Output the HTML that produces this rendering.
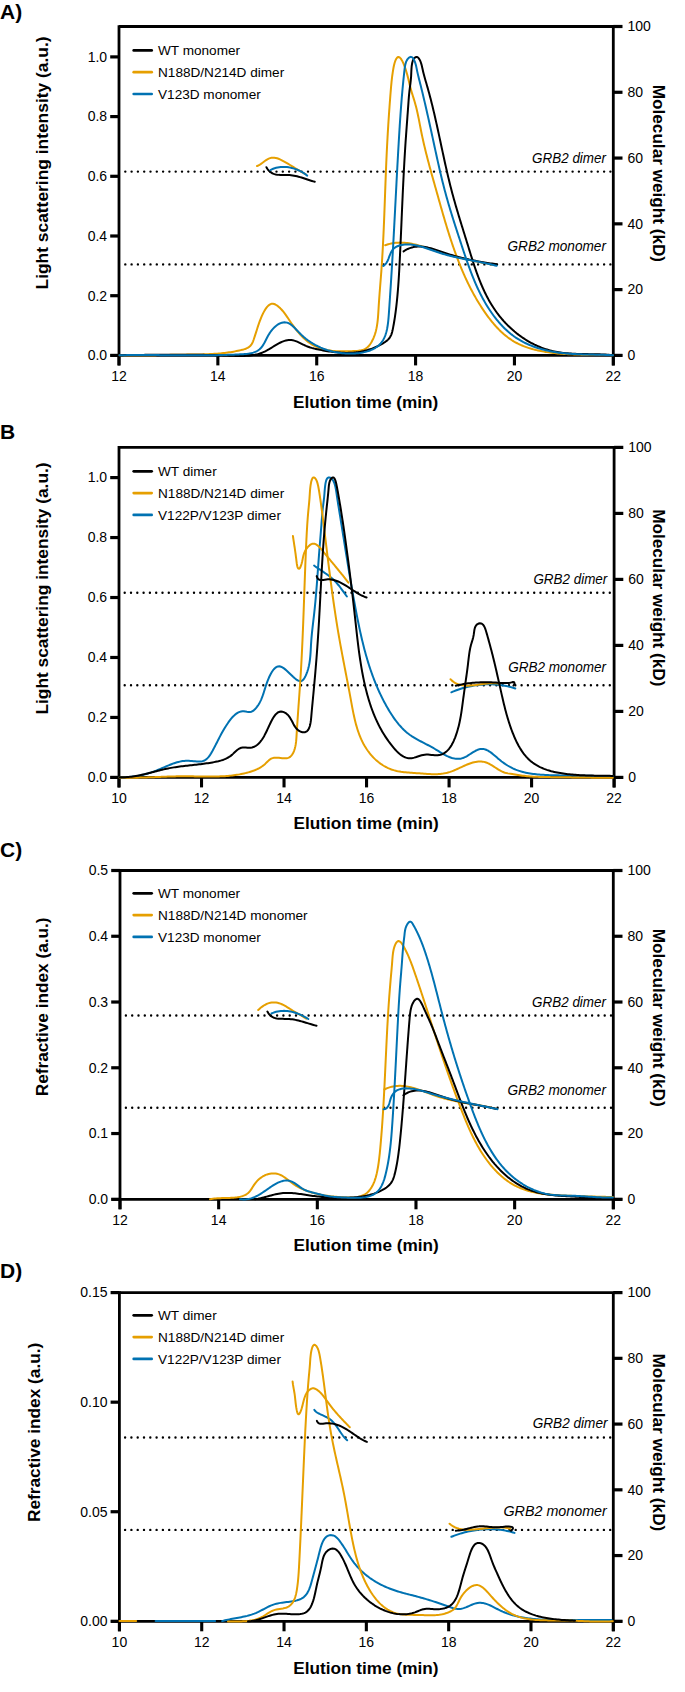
<!DOCTYPE html>
<html><head><meta charset="utf-8"><style>
html,body{margin:0;padding:0;background:#fff;}
svg{display:block;}
text{font-family:"Liberation Sans",sans-serif;fill:#000;}
</style></head><body>
<svg width="685" height="1692" viewBox="0 0 685 1692">
<rect width="685" height="1692" fill="#fff"/>
<path d="M119,26.5 H613.3 V365.4" fill="none" stroke="#000" stroke-width="2.8"/>
<path d="M119,25.2 V365.4" fill="none" stroke="#000" stroke-width="2.8"/>
<path d="M110.5,355.4 H622.3" fill="none" stroke="#000" stroke-width="2.8"/>
<path d="M119,355.4 V365.4" stroke="#000" stroke-width="3.1"/>
<text x="119" y="380.8" font-size="14" text-anchor="middle" font-weight="normal" font-style="normal">12</text>
<path d="M217.86,355.4 V365.4" stroke="#000" stroke-width="3.1"/>
<text x="217.86" y="380.8" font-size="14" text-anchor="middle" font-weight="normal" font-style="normal">14</text>
<path d="M316.72,355.4 V365.4" stroke="#000" stroke-width="3.1"/>
<text x="316.72" y="380.8" font-size="14" text-anchor="middle" font-weight="normal" font-style="normal">16</text>
<path d="M415.58,355.4 V365.4" stroke="#000" stroke-width="3.1"/>
<text x="415.58" y="380.8" font-size="14" text-anchor="middle" font-weight="normal" font-style="normal">18</text>
<path d="M514.44,355.4 V365.4" stroke="#000" stroke-width="3.1"/>
<text x="514.44" y="380.8" font-size="14" text-anchor="middle" font-weight="normal" font-style="normal">20</text>
<path d="M613.3,355.4 V365.4" stroke="#000" stroke-width="3.1"/>
<text x="613.3" y="380.8" font-size="14" text-anchor="middle" font-weight="normal" font-style="normal">22</text>
<path d="M110.2,355.4 H119" stroke="#000" stroke-width="3.2"/>
<text x="107.1" y="360.2" font-size="14" text-anchor="end" font-weight="normal" font-style="normal">0.0</text>
<path d="M110.2,295.7 H119" stroke="#000" stroke-width="3.2"/>
<text x="107.1" y="300.5" font-size="14" text-anchor="end" font-weight="normal" font-style="normal">0.2</text>
<path d="M110.2,236 H119" stroke="#000" stroke-width="3.2"/>
<text x="107.1" y="240.8" font-size="14" text-anchor="end" font-weight="normal" font-style="normal">0.4</text>
<path d="M110.2,176.3 H119" stroke="#000" stroke-width="3.2"/>
<text x="107.1" y="181.1" font-size="14" text-anchor="end" font-weight="normal" font-style="normal">0.6</text>
<path d="M110.2,116.6 H119" stroke="#000" stroke-width="3.2"/>
<text x="107.1" y="121.4" font-size="14" text-anchor="end" font-weight="normal" font-style="normal">0.8</text>
<path d="M110.2,56.9 H119" stroke="#000" stroke-width="3.2"/>
<text x="107.1" y="61.7" font-size="14" text-anchor="end" font-weight="normal" font-style="normal">1.0</text>
<path d="M613.3,355.4 H622.5" stroke="#000" stroke-width="3.2"/>
<text x="627.5" y="360.2" font-size="14" text-anchor="start" font-weight="normal" font-style="normal">0</text>
<path d="M613.3,289.62 H622.5" stroke="#000" stroke-width="3.2"/>
<text x="627.5" y="294.42" font-size="14" text-anchor="start" font-weight="normal" font-style="normal">20</text>
<path d="M613.3,223.84 H622.5" stroke="#000" stroke-width="3.2"/>
<text x="627.5" y="228.64" font-size="14" text-anchor="start" font-weight="normal" font-style="normal">40</text>
<path d="M613.3,158.06 H622.5" stroke="#000" stroke-width="3.2"/>
<text x="627.5" y="162.86" font-size="14" text-anchor="start" font-weight="normal" font-style="normal">60</text>
<path d="M613.3,92.28 H622.5" stroke="#000" stroke-width="3.2"/>
<text x="627.5" y="97.08" font-size="14" text-anchor="start" font-weight="normal" font-style="normal">80</text>
<path d="M613.3,26.5 H622.5" stroke="#000" stroke-width="3.2"/>
<text x="627.5" y="31.3" font-size="14" text-anchor="start" font-weight="normal" font-style="normal">100</text>
<text x="0" y="18.6" font-size="21" text-anchor="start" font-weight="bold" font-style="normal">A)</text>
<text transform="translate(47.9,163) rotate(-90)" font-size="17" font-weight="bold" text-anchor="middle" textLength="253" lengthAdjust="spacingAndGlyphs">Light scattering intensity (a.u.)</text>
<text transform="translate(652.8,173.4) rotate(90)" font-size="17" font-weight="bold" text-anchor="middle" textLength="177.2" lengthAdjust="spacingAndGlyphs">Molecular weight (kD)</text>
<text x="365.65" y="407.6" font-size="17" text-anchor="middle" font-weight="bold" font-style="normal" textLength="145.2" lengthAdjust="spacingAndGlyphs">Elution time (min)</text>
<path d="M125.3,171.6 H611.8" stroke="#000" stroke-width="2.4" stroke-linecap="round" stroke-dasharray="0.01 6.29"/>
<path d="M125.3,264.4 H611.8" stroke="#000" stroke-width="2.4" stroke-linecap="round" stroke-dasharray="0.01 6.29"/>
<text x="606" y="162.6" font-size="14" text-anchor="end" font-weight="normal" font-style="italic" textLength="73.9" lengthAdjust="spacingAndGlyphs" fill="#111">GRB2 dimer</text>
<text x="606" y="250.7" font-size="14" text-anchor="end" font-weight="normal" font-style="italic" textLength="98.5" lengthAdjust="spacingAndGlyphs" fill="#111">GRB2 monomer</text>
<path d="M133.7,50.4 H151.7" stroke="#000000" stroke-width="2.7" stroke-linecap="round"/>
<text x="158" y="55" font-size="13.6" text-anchor="start" font-weight="normal" font-style="normal">WT monomer</text>
<path d="M133.7,72.2 H151.7" stroke="#E69F00" stroke-width="2.7" stroke-linecap="round"/>
<text x="158" y="76.8" font-size="13.6" text-anchor="start" font-weight="normal" font-style="normal">N188D/N214D dimer</text>
<path d="M133.7,94 H151.7" stroke="#0072B2" stroke-width="2.7" stroke-linecap="round"/>
<text x="158" y="98.6" font-size="13.6" text-anchor="start" font-weight="normal" font-style="normal">V123D monomer</text>
<path d="M119.49,355.19 L121.01,355.22 L122.53,355.25 L124.04,355.28 L125.55,355.3 L127.06,355.32 L128.57,355.34 L130.08,355.35 L131.59,355.36 L133.09,355.36 L134.59,355.36 L136.1,355.36 L137.6,355.36 L139.1,355.35 L140.6,355.34 L142.09,355.33 L143.59,355.32 L145.09,355.3 L146.58,355.29 L148.08,355.27 L149.57,355.25 L151.07,355.22 L152.56,355.2 L154.06,355.18 L155.55,355.15 L157.05,355.12 L158.54,355.09 L160.03,355.07 L161.53,355.04 L163.02,355.01 L164.52,354.98 L166.01,354.95 L167.51,354.92 L169.01,354.89 L170.51,354.86 L172.01,354.84 L173.5,354.81 L175.01,354.78 L176.51,354.76 L178.01,354.73 L179.51,354.71 L181.02,354.69 L182.53,354.67 L184.04,354.65 L185.55,354.63 L187.06,354.62 L188.57,354.6 L190.08,354.59 L191.6,354.57 L193.11,354.55 L194.62,354.53 L196.14,354.51 L197.65,354.48 L199.17,354.45 L200.68,354.42 L202.2,354.38 L203.71,354.34 L205.22,354.29 L206.73,354.24 L208.24,354.18 L209.75,354.11 L211.25,354.04 L212.76,353.96 L214.26,353.87 L215.76,353.76 L217.26,353.65 L218.76,353.53 L220.25,353.4 L221.74,353.26 L223.23,353.11 L224.71,352.94 L226.19,352.76 L227.67,352.57 L229.14,352.36 L230.61,352.14 L232.08,351.91 L233.54,351.65 L235,351.39 L236.45,351.1 L237.9,350.8 L239.34,350.48 L240.77,350.15 L242.21,349.79 L243.63,349.41 L245.01,348.98 L246.36,348.47 L247.63,347.87 L248.82,347.16 L249.91,346.3 L250.88,345.28 L251.71,344.09 L252.43,342.74 L253.05,341.28 L253.62,339.76 L254.14,338.22 L254.66,336.69 L255.15,335.17 L255.64,333.66 L256.11,332.17 L256.58,330.69 L257.04,329.24 L257.49,327.81 L257.95,326.4 L258.4,325.02 L258.87,323.65 L259.34,322.29 L259.85,320.92 L260.38,319.54 L260.95,318.13 L261.56,316.68 L262.23,315.19 L262.95,313.66 L263.72,312.13 L264.55,310.63 L265.43,309.19 L266.35,307.85 L267.33,306.65 L268.35,305.61 L269.42,304.77 L270.54,304.15 L271.7,303.81 L272.9,303.76 L274.13,304.01 L275.39,304.52 L276.65,305.25 L277.9,306.15 L279.13,307.2 L280.32,308.33 L281.46,309.52 L282.53,310.73 L283.53,311.94 L284.48,313.16 L285.38,314.37 L286.25,315.59 L287.09,316.81 L287.91,318.04 L288.72,319.26 L289.54,320.5 L290.36,321.73 L291.21,322.97 L292.07,324.21 L292.95,325.45 L293.85,326.68 L294.76,327.91 L295.7,329.12 L296.66,330.33 L297.63,331.52 L298.63,332.69 L299.64,333.85 L300.68,334.98 L301.73,336.09 L302.81,337.17 L303.9,338.22 L305.02,339.25 L306.16,340.23 L307.32,341.18 L308.5,342.09 L309.71,342.96 L310.93,343.79 L312.18,344.57 L313.45,345.3 L314.74,345.98 L316.06,346.61 L317.39,347.19 L318.75,347.73 L320.12,348.22 L321.52,348.67 L322.92,349.08 L324.35,349.45 L325.79,349.78 L327.24,350.08 L328.71,350.34 L330.18,350.56 L331.67,350.76 L333.17,350.92 L334.68,351.06 L336.2,351.17 L337.72,351.26 L339.25,351.32 L340.79,351.36 L342.33,351.37 L343.87,351.37 L345.42,351.36 L346.97,351.32 L348.52,351.27 L350.07,351.21 L351.61,351.14 L353.16,351.06 L354.7,350.97 L356.24,350.88 L357.76,350.76 L359.27,350.6 L360.74,350.38 L362.16,350.07 L363.53,349.66 L364.82,349.12 L366.04,348.42 L367.18,347.57 L368.23,346.58 L369.2,345.47 L370.11,344.28 L370.94,343.01 L371.71,341.69 L372.43,340.34 L373.08,338.98 L373.69,337.6 L374.24,336.2 L374.74,334.8 L375.2,333.38 L375.62,331.95 L375.99,330.52 L376.33,329.07 L376.63,327.61 L376.9,326.14 L377.14,324.67 L377.36,323.18 L377.55,321.7 L377.72,320.2 L377.86,318.7 L378,317.2 L378.11,315.69 L378.22,314.18 L378.32,312.67 L378.41,311.16 L378.5,309.64 L378.59,308.13 L378.68,306.61 L378.77,305.1 L378.87,303.59 L378.97,302.08 L379.07,300.57 L379.18,299.06 L379.29,297.56 L379.4,296.05 L379.51,294.55 L379.62,293.04 L379.74,291.54 L379.86,290.04 L379.97,288.54 L380.09,287.03 L380.21,285.53 L380.33,284.03 L380.45,282.53 L380.57,281.03 L380.69,279.54 L380.81,278.04 L380.92,276.54 L381.04,275.04 L381.15,273.54 L381.27,272.05 L381.38,270.55 L381.48,269.05 L381.59,267.55 L381.69,266.06 L381.8,264.56 L381.89,263.06 L381.99,261.56 L382.09,260.07 L382.18,258.57 L382.27,257.07 L382.36,255.58 L382.45,254.08 L382.54,252.58 L382.63,251.08 L382.71,249.59 L382.79,248.09 L382.87,246.59 L382.95,245.1 L383.03,243.6 L383.1,242.1 L383.18,240.6 L383.25,239.11 L383.33,237.61 L383.4,236.11 L383.47,234.61 L383.54,233.12 L383.6,231.62 L383.67,230.12 L383.74,228.62 L383.8,227.13 L383.86,225.63 L383.93,224.13 L383.99,222.63 L384.05,221.13 L384.11,219.63 L384.17,218.14 L384.23,216.64 L384.29,215.14 L384.35,213.64 L384.4,212.14 L384.46,210.64 L384.52,209.14 L384.57,207.64 L384.63,206.14 L384.69,204.64 L384.74,203.14 L384.8,201.64 L384.85,200.14 L384.91,198.64 L384.96,197.14 L385.02,195.64 L385.07,194.14 L385.12,192.64 L385.18,191.14 L385.23,189.64 L385.29,188.13 L385.34,186.63 L385.4,185.13 L385.46,183.63 L385.51,182.12 L385.57,180.62 L385.63,179.12 L385.68,177.61 L385.74,176.11 L385.8,174.61 L385.86,173.1 L385.92,171.6 L385.98,170.09 L386.04,168.59 L386.1,167.08 L386.16,165.58 L386.23,164.07 L386.29,162.57 L386.36,161.06 L386.42,159.55 L386.49,158.04 L386.56,156.54 L386.63,155.03 L386.7,153.52 L386.77,152.01 L386.85,150.5 L386.92,149 L387,147.49 L387.07,145.98 L387.15,144.47 L387.23,142.96 L387.31,141.45 L387.4,139.94 L387.48,138.43 L387.56,136.92 L387.65,135.41 L387.74,133.91 L387.82,132.4 L387.91,130.89 L388,129.39 L388.1,127.88 L388.19,126.38 L388.28,124.88 L388.38,123.38 L388.47,121.88 L388.57,120.38 L388.67,118.88 L388.77,117.39 L388.87,115.89 L388.97,114.4 L389.07,112.91 L389.18,111.42 L389.28,109.94 L389.39,108.45 L389.5,106.97 L389.6,105.49 L389.71,104.01 L389.82,102.54 L389.93,101.07 L390.05,99.6 L390.16,98.13 L390.27,96.67 L390.39,95.2 L390.5,93.75 L390.62,92.29 L390.74,90.84 L390.86,89.39 L390.98,87.94 L391.1,86.49 L391.23,85.04 L391.37,83.57 L391.51,82.09 L391.67,80.58 L391.84,79.05 L392.03,77.5 L392.23,75.9 L392.45,74.27 L392.7,72.6 L392.97,70.88 L393.26,69.11 L393.59,67.29 L393.96,65.48 L394.39,63.69 L394.9,61.99 L395.49,60.41 L396.15,59.03 L396.85,57.96 L397.59,57.27 L398.34,57 L399.1,57.13 L399.86,57.6 L400.62,58.37 L401.37,59.41 L402.11,60.67 L402.83,62.09 L403.52,63.65 L404.19,65.3 L404.82,67 L405.4,68.69 L405.94,70.35 L406.44,71.96 L406.9,73.53 L407.33,75.07 L407.72,76.57 L408.1,78.05 L408.46,79.5 L408.8,80.94 L409.14,82.35 L409.47,83.76 L409.81,85.15 L410.15,86.55 L410.51,87.94 L410.89,89.34 L411.29,90.74 L411.7,92.16 L412.14,93.58 L412.58,95.01 L413.03,96.44 L413.48,97.88 L413.93,99.33 L414.37,100.78 L414.8,102.23 L415.22,103.69 L415.62,105.16 L416,106.62 L416.37,108.09 L416.73,109.56 L417.07,111.03 L417.41,112.51 L417.73,113.98 L418.04,115.46 L418.35,116.94 L418.65,118.42 L418.95,119.9 L419.24,121.38 L419.52,122.86 L419.81,124.34 L420.1,125.82 L420.38,127.3 L420.67,128.78 L420.96,130.26 L421.25,131.73 L421.55,133.21 L421.85,134.68 L422.16,136.15 L422.48,137.62 L422.8,139.08 L423.12,140.55 L423.45,142.01 L423.79,143.47 L424.13,144.93 L424.47,146.39 L424.82,147.85 L425.17,149.3 L425.52,150.76 L425.88,152.21 L426.25,153.66 L426.61,155.11 L426.98,156.56 L427.35,158.01 L427.73,159.46 L428.11,160.91 L428.49,162.36 L428.88,163.8 L429.26,165.25 L429.65,166.69 L430.04,168.14 L430.44,169.58 L430.83,171.03 L431.23,172.47 L431.63,173.91 L432.03,175.36 L432.43,176.8 L432.84,178.24 L433.24,179.69 L433.65,181.13 L434.05,182.58 L434.46,184.02 L434.87,185.46 L435.27,186.91 L435.68,188.35 L436.09,189.8 L436.5,191.25 L436.91,192.69 L437.31,194.14 L437.72,195.59 L438.13,197.04 L438.54,198.49 L438.94,199.94 L439.35,201.39 L439.76,202.84 L440.17,204.29 L440.58,205.74 L440.99,207.19 L441.41,208.64 L441.82,210.09 L442.24,211.54 L442.65,212.99 L443.07,214.44 L443.49,215.89 L443.91,217.33 L444.34,218.78 L444.76,220.23 L445.19,221.68 L445.62,223.12 L446.06,224.57 L446.49,226.01 L446.93,227.45 L447.37,228.89 L447.82,230.34 L448.27,231.78 L448.72,233.21 L449.17,234.65 L449.63,236.09 L450.09,237.52 L450.56,238.95 L451.03,240.38 L451.5,241.81 L451.98,243.24 L452.46,244.67 L452.94,246.09 L453.44,247.51 L453.93,248.93 L454.43,250.35 L454.94,251.77 L455.45,253.18 L455.96,254.59 L456.48,256 L457.01,257.41 L457.54,258.81 L458.07,260.21 L458.62,261.61 L459.16,263.01 L459.72,264.4 L460.28,265.79 L460.85,267.18 L461.42,268.56 L462,269.94 L462.59,271.32 L463.18,272.7 L463.78,274.07 L464.39,275.44 L465,276.8 L465.62,278.16 L466.25,279.52 L466.89,280.87 L467.53,282.23 L468.18,283.57 L468.84,284.92 L469.51,286.25 L470.19,287.59 L470.87,288.92 L471.56,290.25 L472.26,291.57 L472.97,292.89 L473.69,294.2 L474.42,295.51 L475.16,296.82 L475.9,298.12 L476.66,299.42 L477.42,300.71 L478.2,302 L478.98,303.28 L479.77,304.56 L480.58,305.83 L481.39,307.1 L482.21,308.36 L483.05,309.62 L483.89,310.87 L484.75,312.12 L485.61,313.36 L486.49,314.59 L487.38,315.82 L488.28,317.03 L489.19,318.24 L490.11,319.44 L491.05,320.63 L492,321.8 L492.96,322.97 L493.94,324.12 L494.93,325.25 L495.93,326.37 L496.95,327.48 L497.98,328.56 L499.02,329.63 L500.09,330.68 L501.16,331.72 L502.26,332.73 L503.36,333.72 L504.49,334.69 L505.63,335.64 L506.79,336.56 L507.96,337.46 L509.16,338.33 L510.37,339.18 L511.59,340 L512.84,340.79 L514.1,341.56 L515.39,342.3 L516.69,343 L518.01,343.68 L519.35,344.33 L520.7,344.95 L522.07,345.54 L523.46,346.11 L524.86,346.65 L526.27,347.17 L527.69,347.66 L529.13,348.12 L530.58,348.57 L532.04,348.99 L533.51,349.39 L534.98,349.77 L536.47,350.13 L537.96,350.47 L539.46,350.79 L540.96,351.09 L542.47,351.37 L543.98,351.64 L545.49,351.89 L547.01,352.12 L548.53,352.34 L550.05,352.55 L551.57,352.74 L553.08,352.92 L554.6,353.09 L556.11,353.25 L557.62,353.39 L559.13,353.53 L560.63,353.66 L562.13,353.77 L563.63,353.88 L565.12,353.98 L566.61,354.07 L568.1,354.15 L569.59,354.23 L571.08,354.3 L572.56,354.36 L574.05,354.42 L575.53,354.47 L577.01,354.52 L578.49,354.56 L579.98,354.6 L581.46,354.63 L582.94,354.66 L584.42,354.69 L585.9,354.72 L587.39,354.74 L588.87,354.76 L590.36,354.78 L591.85,354.8 L593.34,354.82 L594.83,354.83 L596.33,354.85 L597.83,354.87 L599.33,354.89 L600.83,354.92 L602.34,354.94 L603.85,354.97 L605.37,355 L606.89,355.03 L608.41,355.07 L609.94,355.11 L611.47,355.15 L613.01,355.2" fill="none" stroke="#E69F00" stroke-width="2.0" stroke-linejoin="round" stroke-linecap="round"/>
<path d="M257.01,166.02 L258.36,165.48 L259.68,164.77 L260.97,163.92 L262.25,162.98 L263.53,162.01 L264.81,161.04 L266.1,160.14 L267.41,159.33 L268.75,158.66 L270.1,158.15 L271.48,157.81 L272.87,157.66 L274.28,157.71 L275.7,157.93 L277.12,158.29 L278.55,158.79 L279.97,159.38 L281.39,160.06 L282.8,160.79 L284.2,161.55 L285.57,162.33 L286.94,163.13 L288.29,163.93 L289.63,164.75 L290.96,165.57 L292.29,166.39 L293.6,167.21 L294.92,168.03 L296.23,168.85 L297.54,169.65 L298.86,170.45 L300.17,171.23 L301.49,172 L302.82,172.75 L304.16,173.48 L305.51,174.18" fill="none" stroke="#E69F00" stroke-width="2.0" stroke-linejoin="round" stroke-linecap="round"/>
<path d="M385.19,245.25 L386.69,244.73 L388.19,244.26 L389.68,243.87 L391.17,243.53 L392.66,243.24 L394.15,243.02 L395.64,242.84 L397.13,242.72 L398.61,242.64 L400.09,242.62 L401.57,242.63 L403.05,242.69 L404.53,242.8 L406.01,242.94 L407.48,243.11 L408.96,243.33 L410.43,243.57 L411.9,243.85 L413.37,244.15 L414.85,244.48 L416.32,244.84 L417.79,245.22 L419.26,245.62 L420.73,246.04 L422.2,246.47 L423.66,246.92 L425.13,247.38 L426.6,247.86 L428.07,248.34 L429.54,248.83 L431.01,249.32 L432.48,249.81 L433.95,250.31 L435.42,250.8 L436.89,251.29 L438.36,251.78 L439.83,252.25 L441.31,252.72 L442.78,253.18 L444.26,253.63 L445.73,254.07 L447.21,254.5 L448.69,254.92 L450.17,255.33 L451.65,255.74 L453.13,256.13 L454.61,256.52 L456.09,256.9 L457.57,257.28 L459.06,257.64 L460.54,258 L462.03,258.36 L463.52,258.71 L465.01,259.05 L466.49,259.38 L467.99,259.71 L469.48,260.04 L470.97,260.36 L472.46,260.67 L473.96,260.98 L475.45,261.29 L476.95,261.59 L478.45,261.89 L479.95,262.18 L481.45,262.47 L482.95,262.76 L484.45,263.04 L485.96,263.33 L487.46,263.61 L488.97,263.88 L490.47,264.16 L491.98,264.44 L493.49,264.71 L495,264.98" fill="none" stroke="#E69F00" stroke-width="2.0" stroke-linejoin="round" stroke-linecap="round"/>
<path d="M119.49,355.17 L121.01,355.15 L122.52,355.13 L124.03,355.12 L125.54,355.1 L127.05,355.08 L128.56,355.06 L130.07,355.04 L131.57,355.03 L133.08,355.01 L134.58,354.99 L136.09,354.97 L137.59,354.95 L139.1,354.94 L140.6,354.92 L142.1,354.9 L143.61,354.89 L145.11,354.87 L146.61,354.85 L148.11,354.84 L149.61,354.82 L151.11,354.81 L152.61,354.79 L154.11,354.78 L155.61,354.76 L157.11,354.75 L158.61,354.74 L160.11,354.73 L161.6,354.71 L163.1,354.7 L164.6,354.7 L166.1,354.69 L167.6,354.68 L169.1,354.67 L170.59,354.67 L172.09,354.66 L173.59,354.66 L175.09,354.66 L176.59,354.66 L178.08,354.66 L179.58,354.66 L181.08,354.66 L182.58,354.66 L184.08,354.67 L185.58,354.67 L187.08,354.68 L188.58,354.69 L190.08,354.7 L191.58,354.71 L193.09,354.73 L194.59,354.74 L196.09,354.76 L197.6,354.78 L199.1,354.8 L200.6,354.82 L202.11,354.85 L203.61,354.87 L205.12,354.9 L206.63,354.93 L208.14,354.96 L209.65,355 L211.16,355.03 L212.67,355.07 L214.18,355.11 L215.69,355.15 L217.2,355.2 L218.72,355.24 L220.23,355.29 L221.75,355.34 L223.26,355.4 L224.78,355.45 L226.3,355.51 L227.82,355.57 L229.34,355.64 L230.87,355.7 L232.39,355.77 L233.91,355.83 L235.43,355.88 L236.95,355.92 L238.47,355.96 L239.99,355.97 L241.5,355.98 L243,355.96 L244.51,355.92 L246,355.85 L247.49,355.76 L248.98,355.63 L250.45,355.48 L251.92,355.29 L253.38,355.06 L254.83,354.79 L256.27,354.47 L257.7,354.12 L259.12,353.71 L260.53,353.25 L261.92,352.74 L263.31,352.17 L264.67,351.54 L266.03,350.86 L267.37,350.14 L268.71,349.38 L270.03,348.59 L271.35,347.79 L272.67,346.98 L273.98,346.18 L275.29,345.38 L276.6,344.61 L277.9,343.86 L279.22,343.16 L280.53,342.5 L281.85,341.9 L283.18,341.37 L284.52,340.91 L285.87,340.54 L287.22,340.26 L288.6,340.09 L289.98,340.03 L291.38,340.1 L292.81,340.29 L294.24,340.63 L295.7,341.1 L297.17,341.67 L298.65,342.33 L300.14,343.04 L301.62,343.78 L303.09,344.52 L304.55,345.22 L306,345.87 L307.42,346.46 L308.84,346.98 L310.24,347.46 L311.64,347.89 L313.03,348.27 L314.43,348.63 L315.83,348.96 L317.24,349.27 L318.66,349.57 L320.09,349.86 L321.54,350.14 L323,350.41 L324.48,350.68 L325.96,350.94 L327.46,351.18 L328.96,351.41 L330.48,351.63 L331.99,351.84 L333.52,352.03 L335.04,352.21 L336.57,352.36 L338.1,352.5 L339.63,352.62 L341.16,352.72 L342.68,352.8 L344.2,352.85 L345.72,352.88 L347.23,352.89 L348.73,352.87 L350.22,352.82 L351.71,352.75 L353.19,352.64 L354.66,352.51 L356.12,352.36 L357.58,352.17 L359.03,351.95 L360.48,351.71 L361.92,351.43 L363.35,351.12 L364.78,350.78 L366.2,350.41 L367.62,350.01 L369.04,349.57 L370.45,349.1 L371.86,348.6 L373.26,348.06 L374.66,347.49 L376.06,346.88 L377.45,346.24 L378.84,345.56 L380.23,344.85 L381.62,344.1 L383,343.31 L384.36,342.47 L385.67,341.58 L386.9,340.64 L388.03,339.62 L389.04,338.54 L389.91,337.37 L390.63,336.12 L391.24,334.81 L391.74,333.45 L392.16,332.04 L392.51,330.6 L392.82,329.14 L393.11,327.66 L393.38,326.19 L393.65,324.71 L393.91,323.23 L394.16,321.75 L394.4,320.27 L394.63,318.79 L394.86,317.31 L395.08,315.82 L395.29,314.34 L395.5,312.85 L395.7,311.36 L395.89,309.88 L396.07,308.39 L396.26,306.9 L396.43,305.41 L396.6,303.92 L396.76,302.43 L396.92,300.93 L397.07,299.44 L397.22,297.94 L397.36,296.45 L397.5,294.95 L397.63,293.46 L397.76,291.96 L397.88,290.46 L398,288.97 L398.12,287.47 L398.23,285.97 L398.34,284.47 L398.44,282.97 L398.55,281.47 L398.65,279.97 L398.74,278.47 L398.84,276.97 L398.93,275.46 L399.01,273.96 L399.1,272.46 L399.19,270.96 L399.27,269.45 L399.35,267.95 L399.43,266.45 L399.51,264.94 L399.58,263.44 L399.66,261.94 L399.74,260.43 L399.81,258.93 L399.88,257.43 L399.96,255.92 L400.03,254.42 L400.1,252.91 L400.17,251.41 L400.25,249.91 L400.32,248.4 L400.39,246.9 L400.46,245.39 L400.52,243.89 L400.59,242.39 L400.66,240.88 L400.73,239.38 L400.8,237.87 L400.86,236.37 L400.93,234.87 L401,233.36 L401.06,231.86 L401.13,230.35 L401.2,228.85 L401.26,227.35 L401.33,225.84 L401.39,224.34 L401.46,222.83 L401.52,221.33 L401.59,219.83 L401.65,218.32 L401.72,216.82 L401.79,215.32 L401.85,213.81 L401.92,212.31 L401.98,210.8 L402.05,209.3 L402.11,207.8 L402.18,206.29 L402.25,204.79 L402.31,203.29 L402.38,201.79 L402.45,200.28 L402.52,198.78 L402.59,197.28 L402.65,195.78 L402.72,194.27 L402.79,192.77 L402.86,191.27 L402.93,189.77 L403,188.27 L403.08,186.76 L403.15,185.26 L403.22,183.76 L403.29,182.26 L403.37,180.76 L403.44,179.26 L403.52,177.76 L403.59,176.26 L403.67,174.76 L403.75,173.26 L403.83,171.76 L403.9,170.26 L403.98,168.76 L404.07,167.26 L404.15,165.76 L404.23,164.26 L404.31,162.76 L404.4,161.26 L404.48,159.76 L404.57,158.26 L404.66,156.77 L404.75,155.27 L404.84,153.77 L404.93,152.27 L405.02,150.78 L405.12,149.28 L405.21,147.78 L405.31,146.29 L405.4,144.79 L405.5,143.3 L405.6,141.8 L405.7,140.3 L405.81,138.81 L405.91,137.31 L406.02,135.82 L406.12,134.32 L406.23,132.83 L406.34,131.33 L406.45,129.83 L406.56,128.34 L406.67,126.84 L406.78,125.33 L406.89,123.83 L407,122.33 L407.11,120.82 L407.23,119.31 L407.34,117.8 L407.45,116.29 L407.56,114.77 L407.68,113.25 L407.79,111.73 L407.9,110.2 L408.01,108.67 L408.12,107.14 L408.23,105.6 L408.34,104.06 L408.45,102.52 L408.56,100.98 L408.68,99.45 L408.8,97.93 L408.92,96.43 L409.05,94.94 L409.19,93.48 L409.34,92.04 L409.49,90.63 L409.66,89.26 L409.84,87.9 L410.02,86.56 L410.2,85.21 L410.38,83.84 L410.55,82.45 L410.71,81.01 L410.86,79.52 L410.99,77.96 L411.11,76.32 L411.19,74.59 L411.27,72.79 L411.35,70.95 L411.45,69.09 L411.59,67.26 L411.78,65.48 L412.04,63.78 L412.38,62.19 L412.83,60.74 L413.4,59.47 L414.1,58.41 L414.95,57.59 L415.89,57.1 L416.88,57.01 L417.86,57.42 L418.8,58.37 L419.64,59.69 L420.35,61.18 L420.95,62.75 L421.44,64.37 L421.87,66.02 L422.25,67.67 L422.61,69.32 L422.97,70.94 L423.34,72.52 L423.73,74.06 L424.13,75.57 L424.53,77.06 L424.94,78.53 L425.36,79.98 L425.78,81.41 L426.2,82.84 L426.61,84.26 L427.03,85.68 L427.44,87.11 L427.84,88.53 L428.24,89.96 L428.63,91.39 L429.03,92.82 L429.41,94.26 L429.79,95.7 L430.17,97.14 L430.55,98.58 L430.92,100.02 L431.29,101.47 L431.65,102.92 L432.01,104.37 L432.37,105.82 L432.72,107.27 L433.07,108.73 L433.42,110.18 L433.76,111.64 L434.11,113.1 L434.45,114.56 L434.78,116.03 L435.12,117.49 L435.45,118.95 L435.78,120.42 L436.11,121.89 L436.44,123.36 L436.77,124.83 L437.09,126.3 L437.41,127.77 L437.74,129.24 L438.06,130.71 L438.38,132.19 L438.69,133.66 L439.01,135.14 L439.33,136.61 L439.65,138.09 L439.96,139.56 L440.28,141.04 L440.59,142.52 L440.91,143.99 L441.22,145.47 L441.54,146.95 L441.86,148.43 L442.17,149.9 L442.49,151.38 L442.81,152.86 L443.13,154.33 L443.44,155.81 L443.77,157.29 L444.09,158.76 L444.41,160.24 L444.73,161.71 L445.06,163.19 L445.39,164.66 L445.72,166.13 L446.05,167.6 L446.38,169.07 L446.72,170.54 L447.06,172.01 L447.4,173.48 L447.74,174.95 L448.08,176.41 L448.43,177.88 L448.78,179.34 L449.14,180.8 L449.49,182.26 L449.85,183.72 L450.22,185.18 L450.59,186.64 L450.96,188.09 L451.33,189.54 L451.71,190.99 L452.09,192.44 L452.48,193.89 L452.87,195.33 L453.26,196.78 L453.66,198.22 L454.06,199.66 L454.47,201.1 L454.88,202.54 L455.29,203.97 L455.7,205.41 L456.12,206.85 L456.54,208.28 L456.96,209.71 L457.38,211.15 L457.81,212.58 L458.24,214.01 L458.67,215.44 L459.1,216.87 L459.54,218.3 L459.97,219.73 L460.41,221.16 L460.85,222.59 L461.29,224.03 L461.73,225.46 L462.18,226.89 L462.62,228.32 L463.07,229.75 L463.51,231.19 L463.96,232.62 L464.4,234.06 L464.85,235.49 L465.3,236.93 L465.74,238.37 L466.19,239.81 L466.63,241.25 L467.08,242.69 L467.53,244.13 L467.97,245.58 L468.42,247.02 L468.86,248.47 L469.31,249.92 L469.75,251.37 L470.2,252.82 L470.65,254.27 L471.1,255.71 L471.56,257.16 L472.02,258.61 L472.48,260.06 L472.94,261.5 L473.41,262.94 L473.89,264.39 L474.37,265.82 L474.85,267.26 L475.34,268.7 L475.84,270.13 L476.34,271.56 L476.85,272.98 L477.36,274.4 L477.89,275.82 L478.42,277.24 L478.96,278.65 L479.51,280.05 L480.06,281.45 L480.63,282.85 L481.21,284.24 L481.79,285.62 L482.39,287 L483,288.37 L483.62,289.74 L484.25,291.1 L484.89,292.45 L485.54,293.8 L486.21,295.14 L486.89,296.47 L487.59,297.79 L488.3,299.11 L489.02,300.41 L489.75,301.71 L490.51,303 L491.27,304.28 L492.06,305.55 L492.86,306.82 L493.67,308.07 L494.51,309.31 L495.36,310.54 L496.22,311.76 L497.11,312.97 L498.01,314.17 L498.93,315.36 L499.86,316.53 L500.81,317.7 L501.78,318.85 L502.76,319.98 L503.75,321.11 L504.77,322.22 L505.79,323.31 L506.84,324.4 L507.89,325.47 L508.97,326.52 L510.05,327.56 L511.15,328.58 L512.27,329.58 L513.4,330.57 L514.54,331.55 L515.7,332.5 L516.87,333.44 L518.05,334.37 L519.24,335.27 L520.45,336.16 L521.67,337.02 L522.9,337.87 L524.15,338.7 L525.41,339.51 L526.67,340.3 L527.95,341.07 L529.25,341.82 L530.55,342.55 L531.86,343.26 L533.19,343.94 L534.52,344.61 L535.87,345.25 L537.22,345.87 L538.59,346.47 L539.96,347.04 L541.35,347.59 L542.75,348.12 L544.15,348.62 L545.56,349.1 L546.98,349.55 L548.42,349.98 L549.85,350.38 L551.3,350.76 L552.76,351.11 L554.22,351.43 L555.69,351.73 L557.17,352.01 L558.66,352.26 L560.15,352.49 L561.64,352.7 L563.15,352.89 L564.65,353.06 L566.17,353.21 L567.68,353.35 L569.2,353.47 L570.73,353.58 L572.25,353.67 L573.78,353.75 L575.31,353.82 L576.84,353.89 L578.38,353.94 L579.91,353.98 L581.44,354.02 L582.98,354.05 L584.51,354.08 L586.04,354.1 L587.58,354.12 L589.1,354.15 L590.63,354.17 L592.16,354.19 L593.68,354.21 L595.2,354.24 L596.71,354.27 L598.22,354.31 L599.72,354.35 L601.22,354.41 L602.72,354.47 L604.2,354.54 L605.69,354.62 L607.16,354.71 L608.63,354.82 L610.09,354.94 L611.54,355.08 L612.98,355.23" fill="none" stroke="#000000" stroke-width="2.0" stroke-linejoin="round" stroke-linecap="round"/>
<path d="M266.41,167.18 L267.31,168.75 L268.31,170.1 L269.39,171.25 L270.55,172.21 L271.78,173 L273.07,173.63 L274.42,174.12 L275.82,174.47 L277.26,174.72 L278.73,174.87 L280.23,174.94 L281.76,174.96 L283.3,174.95 L284.85,174.93 L286.4,174.93 L287.95,174.96 L289.49,175.05 L291.02,175.2 L292.54,175.41 L294.05,175.68 L295.55,175.98 L297.05,176.33 L298.54,176.72 L300.02,177.14 L301.5,177.58 L302.98,178.04 L304.45,178.51 L305.93,179 L307.4,179.49 L308.87,179.98 L310.35,180.46 L311.83,180.93 L313.31,181.38 L314.8,181.8" fill="none" stroke="#000000" stroke-width="2.0" stroke-linejoin="round" stroke-linecap="round"/>
<path d="M403.59,251.37 L404.97,250.46 L406.36,249.66 L407.76,248.97 L409.17,248.37 L410.58,247.86 L412,247.44 L413.43,247.11 L414.86,246.86 L416.29,246.69 L417.74,246.59 L419.18,246.56 L420.63,246.6 L422.09,246.69 L423.55,246.85 L425.01,247.05 L426.47,247.3 L427.94,247.6 L429.41,247.94 L430.89,248.31 L432.37,248.72 L433.85,249.15 L435.33,249.61 L436.81,250.09 L438.29,250.58 L439.78,251.09 L441.26,251.6 L442.75,252.11 L444.23,252.63 L445.72,253.13 L447.2,253.63 L448.69,254.12 L450.17,254.59 L451.66,255.05 L453.14,255.5 L454.62,255.93 L456.11,256.35 L457.59,256.76 L459.07,257.15 L460.56,257.53 L462.04,257.91 L463.52,258.27 L465.01,258.62 L466.5,258.96 L467.98,259.3 L469.47,259.62 L470.96,259.93 L472.45,260.24 L473.94,260.54 L475.44,260.83 L476.93,261.11 L478.43,261.38 L479.93,261.65 L481.43,261.92 L482.94,262.17 L484.44,262.42 L485.95,262.67 L487.47,262.91 L488.98,263.15 L490.5,263.38 L492.02,263.61 L493.54,263.83 L495.07,264.06 L496.6,264.28" fill="none" stroke="#000000" stroke-width="2.0" stroke-linejoin="round" stroke-linecap="round"/>
<path d="M119.49,355.22 L121.01,355.19 L122.52,355.17 L124.03,355.15 L125.55,355.13 L127.06,355.11 L128.57,355.1 L130.08,355.08 L131.58,355.07 L133.09,355.06 L134.6,355.05 L136.11,355.05 L137.61,355.05 L139.12,355.04 L140.62,355.04 L142.13,355.04 L143.63,355.04 L145.13,355.05 L146.64,355.05 L148.14,355.06 L149.64,355.06 L151.14,355.07 L152.64,355.08 L154.14,355.09 L155.64,355.1 L157.14,355.11 L158.64,355.12 L160.14,355.13 L161.64,355.14 L163.14,355.16 L164.64,355.17 L166.14,355.18 L167.64,355.19 L169.13,355.21 L170.63,355.22 L172.13,355.23 L173.63,355.24 L175.13,355.26 L176.63,355.27 L178.13,355.28 L179.63,355.29 L181.13,355.3 L182.62,355.31 L184.12,355.32 L185.62,355.33 L187.12,355.33 L188.62,355.34 L190.13,355.34 L191.63,355.35 L193.13,355.35 L194.63,355.35 L196.13,355.35 L197.64,355.35 L199.14,355.34 L200.64,355.34 L202.15,355.33 L203.65,355.32 L205.16,355.31 L206.66,355.3 L208.17,355.28 L209.68,355.27 L211.19,355.25 L212.7,355.23 L214.21,355.2 L215.72,355.18 L217.23,355.15 L218.74,355.12 L220.25,355.08 L221.77,355.05 L223.28,355.01 L224.8,354.96 L226.32,354.92 L227.84,354.87 L229.36,354.82 L230.88,354.76 L232.4,354.71 L233.92,354.64 L235.44,354.58 L236.97,354.51 L238.5,354.44 L240.02,354.36 L241.55,354.28 L243.08,354.19 L244.59,354.08 L246.1,353.95 L247.58,353.78 L249.05,353.57 L250.48,353.31 L251.88,353 L253.25,352.62 L254.57,352.17 L255.84,351.64 L257.06,351.02 L258.22,350.31 L259.32,349.5 L260.35,348.58 L261.31,347.54 L262.2,346.39 L263.04,345.15 L263.84,343.83 L264.61,342.45 L265.37,341.01 L266.12,339.55 L266.88,338.07 L267.66,336.58 L268.48,335.1 L269.34,333.65 L270.26,332.25 L271.24,330.89 L272.27,329.6 L273.36,328.38 L274.48,327.25 L275.65,326.2 L276.84,325.26 L278.07,324.43 L279.32,323.73 L280.58,323.16 L281.86,322.72 L283.14,322.44 L284.43,322.33 L285.71,322.38 L286.98,322.62 L288.24,323.04 L289.48,323.66 L290.7,324.45 L291.91,325.37 L293.11,326.42 L294.29,327.54 L295.47,328.73 L296.63,329.95 L297.79,331.17 L298.94,332.37 L300.09,333.53 L301.23,334.64 L302.38,335.71 L303.53,336.74 L304.68,337.72 L305.83,338.67 L306.99,339.58 L308.17,340.46 L309.35,341.3 L310.54,342.11 L311.75,342.89 L312.97,343.64 L314.22,344.37 L315.48,345.07 L316.76,345.74 L318.05,346.38 L319.36,347 L320.69,347.6 L322.04,348.16 L323.4,348.7 L324.78,349.21 L326.17,349.69 L327.57,350.15 L329,350.58 L330.43,350.98 L331.88,351.35 L333.34,351.69 L334.82,352.01 L336.31,352.29 L337.81,352.55 L339.32,352.78 L340.84,352.98 L342.38,353.15 L343.92,353.29 L345.48,353.4 L347.05,353.48 L348.62,353.53 L350.21,353.55 L351.79,353.53 L353.38,353.49 L354.97,353.41 L356.55,353.29 L358.12,353.14 L359.68,352.95 L361.22,352.72 L362.75,352.45 L364.25,352.14 L365.73,351.78 L367.18,351.39 L368.6,350.94 L369.99,350.45 L371.34,349.92 L372.65,349.33 L373.91,348.7 L375.13,348.01 L376.3,347.27 L377.41,346.48 L378.47,345.64 L379.47,344.74 L380.4,343.78 L381.27,342.77 L382.08,341.69 L382.82,340.57 L383.5,339.39 L384.12,338.17 L384.69,336.9 L385.21,335.59 L385.68,334.24 L386.11,332.85 L386.49,331.43 L386.84,329.98 L387.15,328.5 L387.42,326.99 L387.67,325.47 L387.89,323.93 L388.09,322.37 L388.26,320.79 L388.42,319.21 L388.56,317.62 L388.69,316.03 L388.81,314.43 L388.92,312.84 L389.03,311.25 L389.14,309.66 L389.25,308.09 L389.36,306.52 L389.47,304.95 L389.57,303.39 L389.68,301.84 L389.78,300.29 L389.89,298.75 L389.99,297.22 L390.09,295.68 L390.19,294.16 L390.29,292.63 L390.39,291.12 L390.49,289.6 L390.59,288.09 L390.69,286.58 L390.79,285.08 L390.88,283.58 L390.98,282.08 L391.07,280.59 L391.17,279.1 L391.26,277.61 L391.35,276.12 L391.45,274.64 L391.54,273.16 L391.63,271.68 L391.72,270.2 L391.81,268.72 L391.9,267.24 L391.99,265.76 L392.08,264.29 L392.17,262.81 L392.26,261.34 L392.34,259.86 L392.43,258.39 L392.52,256.91 L392.6,255.44 L392.69,253.96 L392.78,252.48 L392.86,251 L392.94,249.52 L393.03,248.04 L393.11,246.56 L393.2,245.08 L393.28,243.59 L393.36,242.1 L393.44,240.61 L393.53,239.12 L393.61,237.63 L393.69,236.14 L393.77,234.64 L393.85,233.15 L393.93,231.65 L394.01,230.15 L394.09,228.65 L394.17,227.15 L394.25,225.65 L394.33,224.15 L394.41,222.64 L394.49,221.14 L394.57,219.63 L394.65,218.13 L394.73,216.62 L394.81,215.11 L394.89,213.6 L394.97,212.09 L395.05,210.58 L395.13,209.07 L395.2,207.56 L395.28,206.05 L395.36,204.54 L395.44,203.03 L395.52,201.51 L395.6,200 L395.68,198.49 L395.75,196.98 L395.83,195.46 L395.91,193.95 L395.99,192.43 L396.07,190.92 L396.15,189.41 L396.23,187.89 L396.31,186.38 L396.39,184.86 L396.46,183.35 L396.54,181.84 L396.62,180.32 L396.7,178.81 L396.78,177.3 L396.86,175.79 L396.94,174.27 L397.02,172.76 L397.11,171.25 L397.19,169.74 L397.27,168.23 L397.35,166.72 L397.43,165.21 L397.51,163.71 L397.6,162.2 L397.68,160.69 L397.76,159.19 L397.85,157.68 L397.93,156.18 L398.01,154.68 L398.1,153.17 L398.18,151.67 L398.27,150.17 L398.36,148.67 L398.44,147.18 L398.53,145.68 L398.62,144.19 L398.7,142.69 L398.79,141.2 L398.88,139.71 L398.97,138.22 L399.06,136.73 L399.15,135.24 L399.24,133.76 L399.33,132.28 L399.42,130.79 L399.51,129.31 L399.61,127.83 L399.7,126.36 L399.79,124.88 L399.89,123.4 L399.99,121.92 L400.08,120.44 L400.18,118.97 L400.28,117.49 L400.39,116.01 L400.49,114.53 L400.59,113.05 L400.7,111.56 L400.81,110.08 L400.92,108.59 L401.03,107.1 L401.14,105.61 L401.26,104.12 L401.38,102.62 L401.5,101.12 L401.62,99.62 L401.74,98.11 L401.87,96.6 L402,95.08 L402.13,93.56 L402.27,92.04 L402.4,90.51 L402.54,88.97 L402.69,87.43 L402.83,85.89 L402.98,84.34 L403.13,82.78 L403.29,81.22 L403.45,79.65 L403.61,78.07 L403.78,76.49 L403.95,74.9 L404.12,73.3 L404.3,71.69 L404.48,70.08 L404.67,68.47 L404.9,66.89 L405.17,65.34 L405.51,63.85 L405.92,62.44 L406.43,61.12 L407.06,59.92 L407.81,58.84 L408.7,57.91 L409.73,57.2 L410.83,56.87 L411.92,57.11 L412.93,58.05 L413.82,59.47 L414.57,61.08 L415.19,62.72 L415.69,64.37 L416.11,66.02 L416.46,67.66 L416.79,69.27 L417.11,70.85 L417.44,72.39 L417.78,73.89 L418.13,75.37 L418.48,76.82 L418.83,78.26 L419.19,79.68 L419.55,81.1 L419.91,82.52 L420.27,83.93 L420.63,85.36 L420.99,86.79 L421.35,88.23 L421.71,89.68 L422.06,91.13 L422.42,92.58 L422.77,94.04 L423.12,95.5 L423.47,96.97 L423.82,98.44 L424.17,99.91 L424.51,101.38 L424.86,102.86 L425.2,104.34 L425.54,105.81 L425.88,107.29 L426.22,108.77 L426.56,110.25 L426.89,111.72 L427.22,113.19 L427.56,114.67 L427.89,116.14 L428.22,117.61 L428.54,119.08 L428.87,120.54 L429.19,122.01 L429.52,123.48 L429.84,124.94 L430.17,126.41 L430.49,127.87 L430.81,129.34 L431.13,130.8 L431.45,132.27 L431.77,133.73 L432.08,135.2 L432.4,136.66 L432.72,138.13 L433.04,139.59 L433.35,141.06 L433.67,142.53 L433.99,144 L434.31,145.46 L434.62,146.93 L434.94,148.4 L435.26,149.87 L435.58,151.34 L435.9,152.81 L436.22,154.28 L436.54,155.75 L436.86,157.22 L437.19,158.69 L437.51,160.16 L437.84,161.63 L438.17,163.1 L438.5,164.57 L438.83,166.04 L439.17,167.51 L439.5,168.97 L439.84,170.44 L440.18,171.91 L440.53,173.37 L440.88,174.84 L441.22,176.3 L441.58,177.77 L441.93,179.23 L442.29,180.69 L442.65,182.15 L443.02,183.61 L443.39,185.07 L443.76,186.53 L444.14,187.99 L444.52,189.44 L444.9,190.89 L445.29,192.35 L445.68,193.8 L446.08,195.25 L446.48,196.69 L446.88,198.14 L447.29,199.59 L447.7,201.03 L448.12,202.47 L448.54,203.91 L448.96,205.36 L449.38,206.79 L449.81,208.23 L450.24,209.67 L450.68,211.11 L451.11,212.54 L451.55,213.98 L451.99,215.41 L452.44,216.85 L452.89,218.28 L453.34,219.71 L453.79,221.15 L454.24,222.58 L454.7,224.01 L455.15,225.44 L455.61,226.87 L456.07,228.3 L456.53,229.73 L457,231.16 L457.46,232.59 L457.93,234.02 L458.39,235.45 L458.86,236.88 L459.33,238.31 L459.8,239.74 L460.27,241.17 L460.74,242.6 L461.21,244.03 L461.68,245.46 L462.15,246.89 L462.62,248.32 L463.1,249.75 L463.57,251.19 L464.05,252.62 L464.53,254.04 L465.01,255.47 L465.49,256.9 L465.98,258.33 L466.47,259.75 L466.96,261.18 L467.46,262.6 L467.96,264.02 L468.47,265.44 L468.98,266.85 L469.5,268.26 L470.02,269.68 L470.55,271.08 L471.08,272.49 L471.62,273.89 L472.17,275.29 L472.72,276.69 L473.28,278.08 L473.85,279.47 L474.42,280.86 L475.01,282.24 L475.6,283.62 L476.2,284.99 L476.81,286.36 L477.43,287.72 L478.06,289.08 L478.7,290.43 L479.35,291.78 L480.01,293.13 L480.68,294.47 L481.36,295.8 L482.06,297.13 L482.76,298.45 L483.48,299.76 L484.21,301.07 L484.95,302.38 L485.71,303.67 L486.48,304.96 L487.26,306.24 L488.05,307.52 L488.86,308.79 L489.69,310.05 L490.53,311.3 L491.38,312.55 L492.25,313.78 L493.14,315.01 L494.04,316.23 L494.95,317.43 L495.88,318.63 L496.83,319.81 L497.79,320.98 L498.77,322.14 L499.76,323.28 L500.77,324.4 L501.8,325.51 L502.84,326.6 L503.9,327.68 L504.97,328.74 L506.06,329.77 L507.17,330.79 L508.29,331.79 L509.43,332.76 L510.58,333.72 L511.76,334.65 L512.94,335.56 L514.15,336.44 L515.37,337.3 L516.61,338.13 L517.87,338.94 L519.14,339.72 L520.43,340.48 L521.74,341.21 L523.05,341.92 L524.38,342.6 L525.73,343.26 L527.09,343.9 L528.46,344.51 L529.84,345.1 L531.23,345.67 L532.63,346.21 L534.04,346.74 L535.46,347.24 L536.89,347.72 L538.33,348.19 L539.78,348.63 L541.23,349.05 L542.69,349.45 L544.15,349.83 L545.62,350.2 L547.1,350.54 L548.57,350.87 L550.06,351.18 L551.54,351.47 L553.03,351.74 L554.52,352 L556.01,352.24 L557.5,352.46 L558.99,352.67 L560.48,352.86 L561.98,353.04 L563.47,353.21 L564.96,353.36 L566.46,353.5 L567.95,353.62 L569.45,353.74 L570.94,353.84 L572.44,353.94 L573.93,354.03 L575.43,354.1 L576.93,354.17 L578.42,354.24 L579.92,354.29 L581.42,354.34 L582.92,354.39 L584.42,354.43 L585.92,354.47 L587.42,354.5 L588.92,354.53 L590.42,354.56 L591.92,354.59 L593.43,354.61 L594.93,354.64 L596.43,354.67 L597.94,354.7 L599.44,354.73 L600.94,354.76 L602.45,354.8 L603.96,354.84 L605.46,354.89 L606.97,354.94 L608.48,354.99 L609.98,355.06 L611.49,355.13 L613,355.21" fill="none" stroke="#0072B2" stroke-width="2.0" stroke-linejoin="round" stroke-linecap="round"/>
<path d="M270.4,170.09 L271.78,169.36 L273.2,168.73 L274.66,168.2 L276.14,167.76 L277.65,167.41 L279.18,167.16 L280.73,166.99 L282.29,166.9 L283.87,166.89 L285.45,166.96 L287.03,167.11 L288.61,167.33 L290.18,167.62 L291.75,167.98 L293.3,168.4 L294.83,168.88 L296.34,169.43 L297.83,170.03 L299.29,170.68 L300.71,171.39 L302.1,172.14 L303.45,172.94 L304.75,173.79 L306,174.67 L307.2,175.59" fill="none" stroke="#0072B2" stroke-width="2.0" stroke-linejoin="round" stroke-linecap="round"/>
<path d="M383.34,265.83 L384.49,265.08 L385.48,264.14 L386.34,263.05 L387.08,261.83 L387.74,260.51 L388.33,259.12 L388.88,257.68 L389.42,256.22 L389.98,254.77 L390.57,253.35 L391.21,251.99 L391.95,250.72 L392.79,249.57 L393.77,248.54 L394.87,247.66 L396.07,246.9 L397.36,246.26 L398.73,245.74 L400.16,245.31 L401.63,244.98 L403.13,244.74 L404.64,244.57 L406.14,244.48 L407.65,244.45 L409.15,244.49 L410.65,244.58 L412.14,244.73 L413.64,244.93 L415.13,245.18 L416.62,245.47 L418.1,245.81 L419.59,246.18 L421.07,246.58 L422.55,247.01 L424.03,247.46 L425.51,247.94 L426.99,248.43 L428.47,248.94 L429.94,249.46 L431.42,249.98 L432.89,250.5 L434.36,251.02 L435.83,251.54 L437.31,252.05 L438.78,252.54 L440.25,253.02 L441.72,253.48 L443.19,253.92 L444.67,254.35 L446.14,254.77 L447.61,255.17 L449.08,255.56 L450.56,255.94 L452.03,256.3 L453.5,256.66 L454.98,257.01 L456.45,257.34 L457.93,257.67 L459.4,258 L460.88,258.31 L462.36,258.62 L463.83,258.92 L465.31,259.22 L466.79,259.52 L468.27,259.81 L469.75,260.1 L471.23,260.39 L472.71,260.68 L474.2,260.97 L475.68,261.26 L477.17,261.55 L478.66,261.84 L480.14,262.14 L481.63,262.44 L483.12,262.74 L484.62,263.05 L486.11,263.36 L487.6,263.69 L489.1,264.02 L490.6,264.35 L492.1,264.7 L493.6,265.06 L495.1,265.42 L496.61,265.8" fill="none" stroke="#0072B2" stroke-width="2.0" stroke-linejoin="round" stroke-linecap="round"/>
<path d="M119,447.4 H614.1 V787.4" fill="none" stroke="#000" stroke-width="2.8"/>
<path d="M119,446.1 V787.4" fill="none" stroke="#000" stroke-width="2.8"/>
<path d="M110.5,777.4 H623.1" fill="none" stroke="#000" stroke-width="2.8"/>
<path d="M119,777.4 V787.4" stroke="#000" stroke-width="3.1"/>
<text x="119" y="802.8" font-size="14" text-anchor="middle" font-weight="normal" font-style="normal">10</text>
<path d="M201.52,777.4 V787.4" stroke="#000" stroke-width="3.1"/>
<text x="201.52" y="802.8" font-size="14" text-anchor="middle" font-weight="normal" font-style="normal">12</text>
<path d="M284.03,777.4 V787.4" stroke="#000" stroke-width="3.1"/>
<text x="284.03" y="802.8" font-size="14" text-anchor="middle" font-weight="normal" font-style="normal">14</text>
<path d="M366.55,777.4 V787.4" stroke="#000" stroke-width="3.1"/>
<text x="366.55" y="802.8" font-size="14" text-anchor="middle" font-weight="normal" font-style="normal">16</text>
<path d="M449.07,777.4 V787.4" stroke="#000" stroke-width="3.1"/>
<text x="449.07" y="802.8" font-size="14" text-anchor="middle" font-weight="normal" font-style="normal">18</text>
<path d="M531.58,777.4 V787.4" stroke="#000" stroke-width="3.1"/>
<text x="531.58" y="802.8" font-size="14" text-anchor="middle" font-weight="normal" font-style="normal">20</text>
<path d="M614.1,777.4 V787.4" stroke="#000" stroke-width="3.1"/>
<text x="614.1" y="802.8" font-size="14" text-anchor="middle" font-weight="normal" font-style="normal">22</text>
<path d="M110.2,777.4 H119" stroke="#000" stroke-width="3.2"/>
<text x="107.1" y="782.2" font-size="14" text-anchor="end" font-weight="normal" font-style="normal">0.0</text>
<path d="M110.2,717.44 H119" stroke="#000" stroke-width="3.2"/>
<text x="107.1" y="722.24" font-size="14" text-anchor="end" font-weight="normal" font-style="normal">0.2</text>
<path d="M110.2,657.48 H119" stroke="#000" stroke-width="3.2"/>
<text x="107.1" y="662.28" font-size="14" text-anchor="end" font-weight="normal" font-style="normal">0.4</text>
<path d="M110.2,597.52 H119" stroke="#000" stroke-width="3.2"/>
<text x="107.1" y="602.32" font-size="14" text-anchor="end" font-weight="normal" font-style="normal">0.6</text>
<path d="M110.2,537.56 H119" stroke="#000" stroke-width="3.2"/>
<text x="107.1" y="542.36" font-size="14" text-anchor="end" font-weight="normal" font-style="normal">0.8</text>
<path d="M110.2,477.6 H119" stroke="#000" stroke-width="3.2"/>
<text x="107.1" y="482.4" font-size="14" text-anchor="end" font-weight="normal" font-style="normal">1.0</text>
<path d="M614.1,777.4 H623.3" stroke="#000" stroke-width="3.2"/>
<text x="628.3" y="782.2" font-size="14" text-anchor="start" font-weight="normal" font-style="normal">0</text>
<path d="M614.1,711.4 H623.3" stroke="#000" stroke-width="3.2"/>
<text x="628.3" y="716.2" font-size="14" text-anchor="start" font-weight="normal" font-style="normal">20</text>
<path d="M614.1,645.4 H623.3" stroke="#000" stroke-width="3.2"/>
<text x="628.3" y="650.2" font-size="14" text-anchor="start" font-weight="normal" font-style="normal">40</text>
<path d="M614.1,579.4 H623.3" stroke="#000" stroke-width="3.2"/>
<text x="628.3" y="584.2" font-size="14" text-anchor="start" font-weight="normal" font-style="normal">60</text>
<path d="M614.1,513.4 H623.3" stroke="#000" stroke-width="3.2"/>
<text x="628.3" y="518.2" font-size="14" text-anchor="start" font-weight="normal" font-style="normal">80</text>
<path d="M614.1,447.4 H623.3" stroke="#000" stroke-width="3.2"/>
<text x="628.3" y="452.2" font-size="14" text-anchor="start" font-weight="normal" font-style="normal">100</text>
<text x="0" y="438.8" font-size="21" text-anchor="start" font-weight="bold" font-style="normal">B</text>
<text transform="translate(47.9,588.5) rotate(-90)" font-size="17" font-weight="bold" text-anchor="middle" textLength="252.2" lengthAdjust="spacingAndGlyphs">Light scattering intensity (a.u.)</text>
<text transform="translate(652.8,597.8) rotate(90)" font-size="17" font-weight="bold" text-anchor="middle" textLength="177.2" lengthAdjust="spacingAndGlyphs">Molecular weight (kD)</text>
<text x="366.05" y="828.6" font-size="17" text-anchor="middle" font-weight="bold" font-style="normal" textLength="145.2" lengthAdjust="spacingAndGlyphs">Elution time (min)</text>
<path d="M124.7,592.8 H612.6" stroke="#000" stroke-width="2.4" stroke-linecap="round" stroke-dasharray="0.01 6.29"/>
<path d="M124.7,685.2 H612.6" stroke="#000" stroke-width="2.4" stroke-linecap="round" stroke-dasharray="0.01 6.29"/>
<text x="607.3" y="583.8" font-size="14" text-anchor="end" font-weight="normal" font-style="italic" textLength="73.9" lengthAdjust="spacingAndGlyphs" fill="#111">GRB2 dimer</text>
<text x="606" y="671.6" font-size="14" text-anchor="end" font-weight="normal" font-style="italic" textLength="97.8" lengthAdjust="spacingAndGlyphs" fill="#111">GRB2 monomer</text>
<path d="M133.7,471.3 H151.7" stroke="#000000" stroke-width="2.7" stroke-linecap="round"/>
<text x="158" y="475.9" font-size="13.6" text-anchor="start" font-weight="normal" font-style="normal">WT dimer</text>
<path d="M133.7,493.1 H151.7" stroke="#E69F00" stroke-width="2.7" stroke-linecap="round"/>
<text x="158" y="497.7" font-size="13.6" text-anchor="start" font-weight="normal" font-style="normal">N188D/N214D dimer</text>
<path d="M133.7,514.9 H151.7" stroke="#0072B2" stroke-width="2.7" stroke-linecap="round"/>
<text x="158" y="519.5" font-size="13.6" text-anchor="start" font-weight="normal" font-style="normal">V122P/V123P dimer</text>
<path d="M119.5,777.2 L121,777.24 L122.5,777.25 L124,777.23 L125.5,777.19 L127,777.12 L128.5,777.02 L130,776.9 L131.5,776.75 L132.99,776.58 L134.48,776.38 L135.97,776.15 L137.46,775.9 L138.94,775.63 L140.42,775.33 L141.89,775.01 L143.36,774.67 L144.83,774.3 L146.29,773.91 L147.74,773.5 L149.18,773.07 L150.62,772.61 L152.05,772.14 L153.48,771.64 L154.89,771.13 L156.3,770.59 L157.7,770.03 L159.09,769.46 L160.47,768.87 L161.85,768.28 L163.22,767.68 L164.59,767.07 L165.96,766.48 L167.32,765.88 L168.69,765.3 L170.07,764.74 L171.44,764.2 L172.83,763.68 L174.22,763.19 L175.62,762.74 L177.03,762.32 L178.45,761.94 L179.88,761.61 L181.33,761.33 L182.8,761.1 L184.28,760.93 L185.79,760.82 L187.31,760.78 L188.85,760.82 L190.42,760.91 L191.99,761.06 L193.57,761.22 L195.14,761.37 L196.69,761.49 L198.21,761.56 L199.69,761.54 L201.12,761.41 L202.5,761.15 L203.8,760.73 L205.03,760.12 L206.18,759.34 L207.26,758.4 L208.27,757.33 L209.23,756.14 L210.13,754.87 L210.99,753.52 L211.81,752.13 L212.6,750.72 L213.36,749.3 L214.1,747.9 L214.82,746.51 L215.53,745.14 L216.22,743.78 L216.91,742.44 L217.59,741.1 L218.26,739.78 L218.94,738.47 L219.61,737.16 L220.29,735.87 L220.97,734.58 L221.66,733.3 L222.36,732.03 L223.08,730.76 L223.81,729.49 L224.56,728.23 L225.34,726.97 L226.14,725.71 L226.96,724.45 L227.82,723.19 L228.7,721.93 L229.62,720.67 L230.58,719.42 L231.58,718.2 L232.61,717.02 L233.69,715.91 L234.8,714.87 L235.96,713.93 L237.17,713.1 L238.42,712.4 L239.71,711.84 L241.06,711.45 L242.45,711.23 L243.89,711.22 L245.38,711.39 L246.9,711.66 L248.41,711.89 L249.87,711.97 L251.27,711.75 L252.58,711.18 L253.79,710.33 L254.92,709.28 L255.97,708.11 L256.93,706.9 L257.81,705.68 L258.62,704.43 L259.37,703.17 L260.06,701.89 L260.69,700.6 L261.28,699.29 L261.83,697.96 L262.35,696.61 L262.84,695.25 L263.31,693.87 L263.76,692.48 L264.21,691.07 L264.65,689.65 L265.1,688.22 L265.56,686.76 L266.03,685.3 L266.53,683.82 L267.05,682.33 L267.61,680.82 L268.22,679.3 L268.87,677.77 L269.57,676.23 L270.33,674.69 L271.14,673.2 L272,671.77 L272.9,670.45 L273.85,669.25 L274.85,668.22 L275.88,667.39 L276.95,666.77 L278.05,666.42 L279.18,666.34 L280.34,666.53 L281.53,666.95 L282.75,667.59 L283.98,668.41 L285.24,669.38 L286.52,670.48 L287.82,671.68 L289.13,672.94 L290.46,674.24 L291.79,675.55 L293.12,676.83 L294.45,678.03 L295.75,679.1 L297.02,680 L298.26,680.68 L299.43,681.09 L300.55,681.2 L301.59,680.95 L302.56,680.36 L303.45,679.48 L304.28,678.36 L305.03,677.08 L305.72,675.67 L306.35,674.21 L306.92,672.73 L307.44,671.25 L307.9,669.77 L308.32,668.29 L308.69,666.8 L309.02,665.31 L309.31,663.82 L309.56,662.32 L309.78,660.83 L309.97,659.33 L310.14,657.83 L310.29,656.33 L310.41,654.83 L310.52,653.33 L310.62,651.83 L310.71,650.33 L310.79,648.83 L310.87,647.33 L310.95,645.82 L311.03,644.32 L311.13,642.82 L311.23,641.32 L311.34,639.82 L311.46,638.33 L311.59,636.83 L311.73,635.33 L311.87,633.84 L312.03,632.34 L312.18,630.85 L312.35,629.35 L312.51,627.86 L312.68,626.37 L312.86,624.87 L313.03,623.38 L313.21,621.89 L313.38,620.39 L313.56,618.9 L313.74,617.41 L313.91,615.91 L314.08,614.42 L314.25,612.92 L314.41,611.43 L314.57,609.93 L314.73,608.43 L314.88,606.93 L315.03,605.44 L315.17,603.94 L315.32,602.44 L315.46,600.94 L315.59,599.44 L315.73,597.94 L315.86,596.44 L315.99,594.94 L316.12,593.44 L316.24,591.94 L316.36,590.44 L316.48,588.94 L316.6,587.44 L316.72,585.94 L316.84,584.44 L316.95,582.94 L317.06,581.44 L317.18,579.94 L317.29,578.44 L317.4,576.94 L317.51,575.44 L317.62,573.93 L317.73,572.43 L317.83,570.93 L317.94,569.43 L318.05,567.93 L318.16,566.43 L318.27,564.93 L318.37,563.43 L318.48,561.94 L318.59,560.44 L318.7,558.94 L318.82,557.44 L318.93,555.94 L319.04,554.45 L319.16,552.95 L319.27,551.45 L319.39,549.96 L319.51,548.46 L319.63,546.96 L319.74,545.47 L319.86,543.97 L319.99,542.48 L320.11,540.98 L320.23,539.48 L320.35,537.98 L320.47,536.48 L320.59,534.98 L320.71,533.48 L320.83,531.98 L320.96,530.48 L321.08,528.98 L321.2,527.47 L321.32,525.96 L321.43,524.46 L321.55,522.95 L321.67,521.43 L321.79,519.92 L321.9,518.41 L322.02,516.89 L322.14,515.38 L322.26,513.88 L322.4,512.37 L322.54,510.88 L322.68,509.4 L322.84,507.93 L323.02,506.46 L323.2,505.01 L323.38,503.56 L323.56,502.12 L323.75,500.67 L323.92,499.21 L324.08,497.74 L324.23,496.26 L324.36,494.75 L324.48,493.21 L324.6,491.59 L324.74,489.86 L324.91,488.01 L325.12,486.04 L325.39,484.07 L325.74,482.19 L326.19,480.5 L326.76,479.1 L327.46,478.1 L328.31,477.56 L329.25,477.46 L330.23,477.72 L331.19,478.28 L332.06,479.08 L332.83,480.06 L333.5,481.22 L334.1,482.53 L334.61,483.96 L335.06,485.5 L335.46,487.13 L335.8,488.81 L336.11,490.54 L336.38,492.29 L336.64,494.04 L336.88,495.76 L337.12,497.44 L337.36,499.07 L337.6,500.66 L337.84,502.21 L338.08,503.73 L338.32,505.22 L338.56,506.7 L338.79,508.16 L339.03,509.62 L339.27,511.07 L339.51,512.53 L339.75,513.99 L339.98,515.45 L340.22,516.91 L340.46,518.37 L340.69,519.83 L340.93,521.29 L341.16,522.76 L341.4,524.23 L341.63,525.69 L341.87,527.16 L342.1,528.63 L342.34,530.1 L342.57,531.57 L342.81,533.04 L343.04,534.51 L343.28,535.99 L343.51,537.46 L343.75,538.94 L343.98,540.41 L344.22,541.89 L344.46,543.37 L344.69,544.85 L344.93,546.32 L345.17,547.8 L345.4,549.28 L345.64,550.76 L345.88,552.24 L346.12,553.73 L346.35,555.21 L346.59,556.69 L346.83,558.17 L347.07,559.66 L347.32,561.14 L347.56,562.63 L347.8,564.11 L348.04,565.6 L348.29,567.08 L348.53,568.57 L348.78,570.05 L349.02,571.54 L349.27,573.03 L349.52,574.51 L349.77,576 L350.02,577.49 L350.27,578.97 L350.52,580.46 L350.78,581.95 L351.03,583.44 L351.29,584.92 L351.54,586.41 L351.8,587.9 L352.06,589.38 L352.32,590.87 L352.58,592.36 L352.85,593.84 L353.11,595.33 L353.38,596.82 L353.65,598.3 L353.92,599.79 L354.19,601.28 L354.46,602.76 L354.73,604.25 L355.01,605.73 L355.28,607.21 L355.56,608.7 L355.84,610.18 L356.13,611.66 L356.41,613.15 L356.7,614.63 L356.98,616.11 L357.28,617.59 L357.57,619.07 L357.86,620.55 L358.16,622.03 L358.46,623.51 L358.77,624.98 L359.08,626.46 L359.39,627.93 L359.7,629.4 L360.02,630.88 L360.35,632.35 L360.67,633.82 L361,635.28 L361.34,636.75 L361.68,638.22 L362.02,639.68 L362.37,641.14 L362.72,642.6 L363.08,644.06 L363.45,645.52 L363.82,646.97 L364.19,648.42 L364.57,649.88 L364.96,651.32 L365.35,652.77 L365.75,654.22 L366.16,655.66 L366.57,657.1 L366.99,658.54 L367.41,659.97 L367.85,661.41 L368.28,662.84 L368.73,664.27 L369.18,665.69 L369.65,667.12 L370.11,668.54 L370.59,669.95 L371.08,671.37 L371.57,672.78 L372.07,674.19 L372.58,675.6 L373.1,677 L373.63,678.4 L374.16,679.8 L374.71,681.19 L375.26,682.58 L375.82,683.97 L376.4,685.35 L376.98,686.73 L377.57,688.11 L378.18,689.48 L378.79,690.85 L379.41,692.22 L380.05,693.58 L380.69,694.94 L381.34,696.3 L382.01,697.65 L382.69,698.99 L383.38,700.34 L384.07,701.68 L384.79,703.01 L385.51,704.34 L386.24,705.67 L386.99,706.99 L387.75,708.31 L388.52,709.62 L389.3,710.93 L390.1,712.23 L390.91,713.52 L391.73,714.8 L392.57,716.07 L393.43,717.33 L394.3,718.58 L395.19,719.81 L396.09,721.02 L397.01,722.22 L397.95,723.39 L398.91,724.55 L399.89,725.68 L400.89,726.79 L401.9,727.88 L402.94,728.94 L404,729.98 L405.08,730.98 L406.18,731.96 L407.31,732.91 L408.46,733.82 L409.63,734.7 L410.83,735.54 L412.04,736.36 L413.28,737.15 L414.54,737.92 L415.81,738.67 L417.1,739.4 L418.4,740.11 L419.71,740.82 L421.04,741.51 L422.37,742.21 L423.72,742.9 L425.07,743.59 L426.42,744.29 L427.78,745 L429.14,745.72 L430.49,746.45 L431.85,747.2 L433.21,747.97 L434.56,748.76 L435.9,749.57 L437.25,750.39 L438.59,751.21 L439.93,752.03 L441.26,752.83 L442.6,753.62 L443.93,754.37 L445.27,755.1 L446.6,755.78 L447.94,756.41 L449.28,756.98 L450.62,757.49 L451.96,757.93 L453.31,758.29 L454.65,758.57 L456.01,758.75 L457.37,758.83 L458.73,758.81 L460.1,758.66 L461.48,758.4 L462.86,758.01 L464.26,757.47 L465.65,756.81 L467.06,756.03 L468.47,755.17 L469.89,754.27 L471.31,753.34 L472.73,752.43 L474.15,751.56 L475.57,750.76 L476.98,750.06 L478.39,749.5 L479.8,749.09 L481.2,748.88 L482.6,748.89 L483.98,749.09 L485.36,749.48 L486.72,750.03 L488.07,750.72 L489.4,751.52 L490.72,752.42 L492.02,753.39 L493.29,754.42 L494.55,755.48 L495.79,756.55 L497,757.6 L498.18,758.63 L499.34,759.61 L500.49,760.54 L501.62,761.44 L502.77,762.3 L503.92,763.13 L505.09,763.94 L506.29,764.72 L507.53,765.49 L508.81,766.24 L510.12,766.97 L511.46,767.67 L512.83,768.35 L514.22,768.99 L515.63,769.59 L517.05,770.15 L518.48,770.67 L519.92,771.14 L521.36,771.58 L522.82,771.97 L524.28,772.34 L525.75,772.67 L527.22,772.97 L528.7,773.24 L530.18,773.48 L531.66,773.71 L533.15,773.91 L534.64,774.1 L536.13,774.27 L537.62,774.42 L539.12,774.55 L540.62,774.67 L542.11,774.77 L543.61,774.87 L545.12,774.95 L546.62,775.02 L548.12,775.08 L549.62,775.14 L551.13,775.19 L552.63,775.23 L554.14,775.27 L555.64,775.3 L557.15,775.33 L558.65,775.36 L560.16,775.39 L561.66,775.42 L563.17,775.45 L564.67,775.48 L566.18,775.51 L567.68,775.53 L569.19,775.56 L570.69,775.58 L572.19,775.61 L573.7,775.63 L575.2,775.65 L576.7,775.67 L578.21,775.69 L579.71,775.72 L581.22,775.74 L582.72,775.76 L584.22,775.77 L585.73,775.79 L587.23,775.81 L588.73,775.83 L590.24,775.85 L591.74,775.87 L593.24,775.88 L594.75,775.9 L596.25,775.92 L597.76,775.93 L599.26,775.95 L600.76,775.97 L602.27,775.98 L603.77,776 L605.28,776.02 L606.78,776.03 L608.29,776.05 L609.79,776.07 L611.3,776.08 L612.8,776.1" fill="none" stroke="#0072B2" stroke-width="2.0" stroke-linejoin="round" stroke-linecap="round"/>
<path d="M314.08,565.53 L315.31,566.44 L316.57,567.34 L317.84,568.22 L319.13,569.09 L320.43,569.95 L321.73,570.82 L323.04,571.69 L324.34,572.56 L325.63,573.45 L326.92,574.35 L328.18,575.27 L329.43,576.22 L330.66,577.19 L331.86,578.19 L333.03,579.23 L334.17,580.32 L335.26,581.44 L336.33,582.59 L337.37,583.78 L338.38,585 L339.37,586.24 L340.34,587.5 L341.3,588.78 L342.24,590.06 L343.17,591.36 L344.1,592.65 L345.03,593.95 L345.96,595.23 L346.89,596.51" fill="none" stroke="#0072B2" stroke-width="2.0" stroke-linejoin="round" stroke-linecap="round"/>
<path d="M451.4,692.31 L452.84,691.7 L454.28,691.11 L455.73,690.55 L457.19,690.01 L458.66,689.49 L460.14,689 L461.63,688.53 L463.12,688.08 L464.62,687.65 L466.13,687.25 L467.65,686.88 L469.17,686.53 L470.69,686.2 L472.22,685.9 L473.76,685.62 L475.3,685.37 L476.84,685.15 L478.39,684.95 L479.94,684.78 L481.49,684.63 L483.04,684.51 L484.6,684.41 L486.15,684.35 L487.71,684.31 L489.26,684.3 L490.82,684.31 L492.37,684.35 L493.93,684.43 L495.48,684.53 L497.03,684.65 L498.58,684.81 L500.12,685 L501.66,685.21 L503.2,685.46 L504.73,685.73 L506.26,686.04 L507.78,686.37 L509.3,686.74 L510.81,687.13 L512.31,687.56 L513.81,688.02 L515.3,688.51" fill="none" stroke="#0072B2" stroke-width="2.0" stroke-linejoin="round" stroke-linecap="round"/>
<path d="M119.49,777.48 L121.02,777.53 L122.54,777.58 L124.06,777.62 L125.57,777.65 L127.09,777.67 L128.6,777.68 L130.11,777.69 L131.62,777.69 L133.12,777.68 L134.63,777.67 L136.13,777.65 L137.64,777.63 L139.14,777.6 L140.64,777.57 L142.14,777.53 L143.64,777.49 L145.13,777.44 L146.63,777.4 L148.12,777.35 L149.62,777.29 L151.12,777.24 L152.61,777.18 L154.1,777.13 L155.6,777.07 L157.09,777.01 L158.59,776.95 L160.08,776.89 L161.58,776.83 L163.07,776.78 L164.57,776.72 L166.06,776.67 L167.56,776.61 L169.06,776.57 L170.55,776.52 L172.05,776.48 L173.55,776.44 L175.05,776.4 L176.56,776.37 L178.06,776.34 L179.57,776.32 L181.07,776.31 L182.58,776.3 L184.09,776.29 L185.61,776.3 L187.12,776.3 L188.63,776.32 L190.15,776.33 L191.67,776.35 L193.19,776.37 L194.71,776.4 L196.23,776.42 L197.74,776.44 L199.26,776.47 L200.78,776.49 L202.3,776.51 L203.82,776.53 L205.34,776.55 L206.86,776.56 L208.38,776.57 L209.89,776.57 L211.41,776.56 L212.92,776.55 L214.43,776.53 L215.94,776.5 L217.45,776.47 L218.95,776.42 L220.45,776.36 L221.95,776.3 L223.45,776.22 L224.95,776.13 L226.44,776.02 L227.93,775.9 L229.41,775.77 L230.89,775.62 L232.37,775.45 L233.84,775.27 L235.31,775.07 L236.78,774.85 L238.24,774.62 L239.69,774.36 L241.14,774.08 L242.59,773.78 L244.03,773.46 L245.47,773.12 L246.9,772.76 L248.32,772.37 L249.74,771.95 L251.15,771.51 L252.55,771.04 L253.94,770.53 L255.31,769.98 L256.66,769.39 L258,768.75 L259.31,768.05 L260.59,767.3 L261.85,766.49 L263.07,765.61 L264.26,764.67 L265.41,763.65 L266.53,762.56 L267.64,761.45 L268.77,760.39 L269.95,759.43 L271.2,758.66 L272.57,758.12 L274.04,757.82 L275.6,757.71 L277.21,757.74 L278.87,757.86 L280.53,758.03 L282.17,758.19 L283.78,758.31 L285.32,758.32 L286.78,758.2 L288.12,757.87 L289.33,757.32 L290.41,756.56 L291.37,755.61 L292.22,754.51 L292.97,753.28 L293.61,751.95 L294.17,750.54 L294.65,749.1 L295.05,747.63 L295.39,746.15 L295.67,744.67 L295.89,743.18 L296.08,741.68 L296.23,740.18 L296.35,738.67 L296.46,737.16 L296.55,735.65 L296.64,734.15 L296.73,732.64 L296.82,731.13 L296.92,729.62 L297.01,728.11 L297.11,726.6 L297.21,725.1 L297.31,723.59 L297.41,722.09 L297.51,720.58 L297.61,719.07 L297.72,717.57 L297.82,716.07 L297.93,714.56 L298.03,713.06 L298.14,711.55 L298.24,710.05 L298.35,708.55 L298.46,707.04 L298.56,705.54 L298.67,704.04 L298.78,702.54 L298.89,701.04 L298.99,699.53 L299.1,698.03 L299.21,696.53 L299.32,695.03 L299.42,693.53 L299.53,692.03 L299.63,690.53 L299.74,689.03 L299.84,687.53 L299.94,686.03 L300.04,684.53 L300.14,683.03 L300.24,681.52 L300.34,680.02 L300.44,678.52 L300.53,677.02 L300.63,675.52 L300.72,674.02 L300.81,672.52 L300.9,671.02 L300.99,669.52 L301.08,668.02 L301.16,666.52 L301.25,665.02 L301.33,663.52 L301.41,662.02 L301.5,660.52 L301.57,659.02 L301.65,657.52 L301.73,656.02 L301.81,654.51 L301.88,653.01 L301.96,651.51 L302.03,650.01 L302.1,648.51 L302.17,647.01 L302.24,645.51 L302.31,644.01 L302.38,642.51 L302.45,641 L302.51,639.5 L302.58,638 L302.64,636.5 L302.71,635 L302.77,633.5 L302.83,631.99 L302.9,630.49 L302.96,628.99 L303.02,627.49 L303.08,625.99 L303.14,624.48 L303.2,622.98 L303.25,621.48 L303.31,619.98 L303.37,618.47 L303.43,616.97 L303.48,615.47 L303.54,613.97 L303.59,612.46 L303.65,610.96 L303.71,609.46 L303.76,607.95 L303.82,606.45 L303.87,604.95 L303.92,603.44 L303.98,601.94 L304.03,600.44 L304.09,598.93 L304.14,597.43 L304.19,595.93 L304.25,594.42 L304.3,592.92 L304.35,591.41 L304.41,589.91 L304.46,588.41 L304.51,586.9 L304.57,585.4 L304.62,583.89 L304.68,582.39 L304.73,580.88 L304.79,579.38 L304.84,577.87 L304.9,576.37 L304.95,574.86 L305.01,573.36 L305.06,571.85 L305.12,570.34 L305.18,568.84 L305.23,567.33 L305.29,565.83 L305.35,564.32 L305.41,562.81 L305.47,561.31 L305.53,559.8 L305.59,558.29 L305.65,556.79 L305.71,555.28 L305.78,553.77 L305.84,552.27 L305.9,550.76 L305.97,549.25 L306.04,547.74 L306.1,546.24 L306.17,544.73 L306.24,543.22 L306.31,541.71 L306.38,540.21 L306.45,538.7 L306.53,537.19 L306.61,535.69 L306.68,534.19 L306.77,532.68 L306.85,531.18 L306.94,529.69 L307.03,528.19 L307.12,526.69 L307.21,525.2 L307.31,523.71 L307.41,522.22 L307.52,520.73 L307.63,519.25 L307.74,517.77 L307.86,516.29 L307.98,514.82 L308.11,513.35 L308.24,511.88 L308.38,510.42 L308.52,508.96 L308.66,507.49 L308.8,506.02 L308.94,504.55 L309.08,503.06 L309.22,501.56 L309.35,500.04 L309.47,498.5 L309.58,496.94 L309.68,495.34 L309.79,493.71 L309.9,492.02 L310.04,490.25 L310.21,488.39 L310.44,486.45 L310.71,484.48 L311.05,482.58 L311.45,480.85 L311.92,479.38 L312.46,478.27 L313.08,477.59 L313.78,477.43 L314.5,477.72 L315.22,478.36 L315.89,479.27 L316.48,480.39 L317,481.68 L317.46,483.11 L317.86,484.66 L318.22,486.3 L318.55,488 L318.85,489.73 L319.13,491.45 L319.4,493.15 L319.66,494.82 L319.91,496.46 L320.15,498.08 L320.39,499.68 L320.62,501.25 L320.84,502.8 L321.05,504.34 L321.26,505.86 L321.46,507.36 L321.66,508.86 L321.86,510.34 L322.05,511.81 L322.24,513.28 L322.42,514.74 L322.61,516.2 L322.79,517.66 L322.97,519.11 L323.16,520.57 L323.34,522.03 L323.52,523.5 L323.7,524.96 L323.88,526.43 L324.06,527.9 L324.24,529.37 L324.43,530.84 L324.61,532.31 L324.79,533.79 L324.97,535.26 L325.15,536.74 L325.33,538.22 L325.51,539.7 L325.69,541.18 L325.87,542.66 L326.05,544.14 L326.23,545.63 L326.42,547.12 L326.6,548.6 L326.78,550.09 L326.96,551.58 L327.15,553.07 L327.33,554.56 L327.51,556.05 L327.7,557.54 L327.88,559.04 L328.07,560.53 L328.26,562.02 L328.44,563.52 L328.63,565.01 L328.82,566.51 L329.01,568.01 L329.2,569.51 L329.39,571 L329.58,572.5 L329.77,574 L329.96,575.5 L330.15,577 L330.35,578.5 L330.54,580 L330.74,581.5 L330.94,583 L331.14,584.5 L331.34,586 L331.54,587.5 L331.74,589 L331.94,590.5 L332.15,592 L332.35,593.49 L332.56,594.99 L332.77,596.49 L332.98,597.99 L333.19,599.49 L333.4,600.99 L333.61,602.49 L333.83,603.98 L334.04,605.48 L334.26,606.98 L334.48,608.47 L334.7,609.97 L334.93,611.46 L335.15,612.95 L335.38,614.45 L335.6,615.94 L335.83,617.43 L336.07,618.92 L336.3,620.41 L336.53,621.9 L336.77,623.39 L337.01,624.87 L337.25,626.36 L337.49,627.84 L337.74,629.33 L337.99,630.81 L338.23,632.29 L338.49,633.77 L338.74,635.25 L338.99,636.72 L339.25,638.2 L339.51,639.67 L339.77,641.15 L340.04,642.62 L340.3,644.09 L340.57,645.56 L340.84,647.03 L341.11,648.5 L341.38,649.97 L341.65,651.43 L341.92,652.9 L342.2,654.37 L342.48,655.83 L342.75,657.3 L343.03,658.77 L343.31,660.23 L343.59,661.7 L343.87,663.17 L344.16,664.63 L344.44,666.1 L344.72,667.57 L345,669.03 L345.29,670.5 L345.57,671.97 L345.86,673.44 L346.14,674.91 L346.42,676.38 L346.71,677.85 L346.99,679.33 L347.28,680.8 L347.56,682.28 L347.84,683.75 L348.13,685.23 L348.41,686.71 L348.69,688.19 L348.97,689.68 L349.25,691.16 L349.53,692.65 L349.81,694.13 L350.09,695.63 L350.36,697.12 L350.64,698.61 L350.91,700.11 L351.18,701.61 L351.46,703.11 L351.73,704.61 L352.01,706.11 L352.29,707.61 L352.58,709.1 L352.87,710.6 L353.17,712.1 L353.47,713.59 L353.79,715.08 L354.11,716.57 L354.44,718.05 L354.78,719.53 L355.14,721 L355.51,722.47 L355.89,723.93 L356.29,725.38 L356.7,726.83 L357.13,728.27 L357.58,729.7 L358.05,731.12 L358.54,732.53 L359.04,733.93 L359.57,735.32 L360.13,736.7 L360.7,738.07 L361.3,739.43 L361.93,740.77 L362.58,742.1 L363.26,743.42 L363.97,744.72 L364.71,746.01 L365.48,747.28 L366.28,748.54 L367.11,749.78 L367.97,751 L368.86,752.19 L369.77,753.37 L370.72,754.52 L371.69,755.65 L372.69,756.75 L373.72,757.82 L374.77,758.87 L375.85,759.88 L376.96,760.86 L378.1,761.81 L379.26,762.73 L380.44,763.61 L381.66,764.45 L382.89,765.25 L384.15,766.02 L385.44,766.74 L386.75,767.42 L388.08,768.06 L389.43,768.65 L390.81,769.2 L392.21,769.7 L393.64,770.15 L395.08,770.55 L396.55,770.91 L398.03,771.23 L399.52,771.51 L401.03,771.76 L402.55,771.97 L404.08,772.17 L405.62,772.33 L407.17,772.48 L408.72,772.62 L410.27,772.73 L411.82,772.85 L413.37,772.95 L414.92,773.05 L416.46,773.15 L418,773.26 L419.52,773.37 L421.04,773.49 L422.55,773.61 L424.05,773.72 L425.55,773.83 L427.04,773.94 L428.52,774.02 L430,774.1 L431.47,774.16 L432.93,774.19 L434.39,774.2 L435.85,774.19 L437.3,774.14 L438.74,774.06 L440.18,773.95 L441.62,773.79 L443.06,773.6 L444.49,773.35 L445.92,773.06 L447.34,772.71 L448.77,772.31 L450.19,771.86 L451.61,771.36 L453.03,770.81 L454.45,770.23 L455.87,769.62 L457.29,768.99 L458.7,768.35 L460.11,767.69 L461.53,767.04 L462.94,766.39 L464.35,765.75 L465.76,765.13 L467.17,764.54 L468.57,763.98 L469.98,763.45 L471.39,762.98 L472.79,762.56 L474.2,762.19 L475.6,761.89 L477,761.67 L478.41,761.52 L479.81,761.47 L481.21,761.5 L482.61,761.63 L484.02,761.88 L485.42,762.23 L486.82,762.7 L488.22,763.3 L489.62,764.01 L491.03,764.8 L492.43,765.66 L493.83,766.56 L495.23,767.49 L496.63,768.41 L498.04,769.31 L499.44,770.17 L500.84,770.97 L502.24,771.67 L503.64,772.27 L505.05,772.74 L506.45,773.1 L507.86,773.38 L509.28,773.62 L510.72,773.84 L512.17,774.08 L513.63,774.31 L515.1,774.55 L516.58,774.79 L518.07,775.02 L519.56,775.25 L521.06,775.46 L522.56,775.67 L524.07,775.86 L525.57,776.03 L527.08,776.18 L528.58,776.32 L530.08,776.44 L531.59,776.55 L533.09,776.65 L534.59,776.73 L536.09,776.81 L537.6,776.87 L539.1,776.92 L540.6,776.97 L542.11,777 L543.61,777.03 L545.11,777.06 L546.61,777.08 L548.12,777.1 L549.62,777.12 L551.12,777.13 L552.63,777.15 L554.13,777.16 L555.63,777.18 L557.14,777.19 L558.64,777.21 L560.14,777.23 L561.65,777.25 L563.15,777.26 L564.66,777.28 L566.16,777.3 L567.67,777.32 L569.17,777.34 L570.67,777.36 L572.18,777.38 L573.68,777.4 L575.19,777.42 L576.69,777.44 L578.2,777.46 L579.7,777.48 L581.21,777.5 L582.71,777.52 L584.22,777.54 L585.72,777.55 L587.23,777.57 L588.73,777.59 L590.24,777.61 L591.74,777.63 L593.25,777.64 L594.75,777.66 L596.26,777.68 L597.76,777.69 L599.26,777.71 L600.77,777.72 L602.27,777.73 L603.78,777.74 L605.28,777.76 L606.79,777.77 L608.29,777.78 L609.79,777.78 L611.3,777.79 L612.8,777.8" fill="none" stroke="#E69F00" stroke-width="2.0" stroke-linejoin="round" stroke-linecap="round"/>
<path d="M292.9,535.9 L293.14,537.51 L293.38,539.08 L293.61,540.61 L293.84,542.1 L294.06,543.58 L294.28,545.03 L294.5,546.48 L294.72,547.92 L294.93,549.36 L295.14,550.81 L295.35,552.27 L295.56,553.75 L295.76,555.27 L295.96,556.81 L296.16,558.39 L296.36,560.02 L296.55,561.71 L296.76,563.42 L297.01,565.08 L297.36,566.58 L297.85,567.83 L298.45,568.63 L299.1,568.77 L299.77,568.18 L300.42,567.02 L301.03,565.48 L301.57,563.75 L302.02,562.01 L302.38,560.38 L302.69,558.83 L302.98,557.35 L303.31,555.91 L303.71,554.47 L304.22,553.02 L304.88,551.54 L305.66,550.07 L306.56,548.65 L307.54,547.32 L308.61,546.14 L309.73,545.14 L310.89,544.36 L312.07,543.85 L313.26,543.65 L314.43,543.77 L315.6,544.18 L316.76,544.83 L317.9,545.69 L319.03,546.72 L320.15,547.88 L321.25,549.13 L322.34,550.44 L323.41,551.76 L324.46,553.06 L325.5,554.33 L326.51,555.58 L327.52,556.81 L328.51,558.02 L329.49,559.21 L330.45,560.39 L331.41,561.55 L332.36,562.7 L333.3,563.84 L334.24,564.98 L335.17,566.11 L336.1,567.24 L337.02,568.36 L337.95,569.49 L338.87,570.62 L339.8,571.76 L340.73,572.91 L341.66,574.06 L342.6,575.23 L343.54,576.41 L344.5,577.61 L345.46,578.82 L346.43,580.06 L347.41,581.32 L348.41,582.6" fill="none" stroke="#E69F00" stroke-width="2.0" stroke-linejoin="round" stroke-linecap="round"/>
<path d="M450.48,679.22 L451.67,680.37 L452.9,681.39 L454.17,682.28 L455.47,683.04 L456.8,683.7 L458.17,684.24 L459.56,684.68 L460.99,685.03 L462.43,685.29 L463.9,685.48 L465.4,685.59 L466.91,685.64 L468.43,685.63 L469.97,685.56 L471.53,685.46 L473.09,685.32 L474.66,685.15 L476.24,684.95 L477.83,684.74 L479.41,684.52 L481,684.3 L482.59,684.08 L484.18,683.86 L485.76,683.67 L487.34,683.49 L488.91,683.34 L490.48,683.23 L492.03,683.16 L493.57,683.13 L495.1,683.16 L496.62,683.24 L498.11,683.4 L499.59,683.62" fill="none" stroke="#E69F00" stroke-width="2.0" stroke-linejoin="round" stroke-linecap="round"/>
<path d="M119.5,777.2 L121.02,777.25 L122.53,777.26 L124.03,777.24 L125.53,777.18 L127.03,777.09 L128.52,776.97 L130.01,776.82 L131.49,776.65 L132.97,776.45 L134.45,776.22 L135.93,775.98 L137.4,775.71 L138.87,775.42 L140.34,775.12 L141.8,774.8 L143.27,774.47 L144.73,774.13 L146.19,773.78 L147.65,773.41 L149.1,773.05 L150.56,772.67 L152.02,772.3 L153.47,771.92 L154.93,771.54 L156.38,771.16 L157.84,770.79 L159.3,770.42 L160.75,770.06 L162.21,769.71 L163.67,769.37 L165.13,769.04 L166.59,768.73 L168.06,768.42 L169.52,768.14 L170.99,767.87 L172.46,767.62 L173.93,767.38 L175.4,767.15 L176.87,766.93 L178.35,766.72 L179.82,766.53 L181.3,766.34 L182.78,766.15 L184.26,765.98 L185.74,765.81 L187.22,765.64 L188.71,765.48 L190.19,765.31 L191.68,765.15 L193.16,764.99 L194.65,764.83 L196.14,764.66 L197.63,764.5 L199.11,764.33 L200.6,764.15 L202.09,763.96 L203.59,763.77 L205.08,763.57 L206.57,763.36 L208.06,763.15 L209.55,762.91 L211.04,762.67 L212.53,762.41 L214.03,762.14 L215.52,761.85 L217,761.54 L218.47,761.2 L219.94,760.82 L221.38,760.4 L222.81,759.94 L224.21,759.42 L225.58,758.84 L226.92,758.2 L228.22,757.5 L229.49,756.71 L230.71,755.85 L231.89,754.9 L233.02,753.87 L234.13,752.81 L235.23,751.75 L236.35,750.73 L237.49,749.79 L238.68,748.96 L239.94,748.28 L241.27,747.8 L242.71,747.55 L244.25,747.51 L245.84,747.61 L247.46,747.74 L249.04,747.81 L250.57,747.74 L252.02,747.48 L253.39,747.07 L254.69,746.5 L255.93,745.8 L257.09,744.97 L258.2,744.04 L259.24,743.01 L260.22,741.9 L261.15,740.72 L262.03,739.5 L262.85,738.23 L263.63,736.94 L264.37,735.64 L265.06,734.34 L265.72,733.05 L266.35,731.76 L266.96,730.47 L267.56,729.17 L268.17,727.85 L268.79,726.5 L269.43,725.12 L270.1,723.7 L270.81,722.23 L271.57,720.72 L272.38,719.21 L273.24,717.73 L274.16,716.33 L275.13,715.04 L276.17,713.9 L277.28,712.95 L278.45,712.21 L279.69,711.74 L281.01,711.56 L282.39,711.7 L283.79,712.12 L285.17,712.78 L286.46,713.65 L287.64,714.68 L288.68,715.84 L289.63,717.12 L290.48,718.47 L291.28,719.89 L292.05,721.34 L292.8,722.8 L293.55,724.24 L294.34,725.64 L295.19,726.98 L296.11,728.22 L297.14,729.35 L298.28,730.34 L299.58,731.16 L300.99,731.78 L302.46,732.18 L303.87,732.32 L305.16,732.16 L306.28,731.69 L307.25,730.96 L308.08,730 L308.78,728.82 L309.36,727.46 L309.85,725.96 L310.24,724.34 L310.56,722.64 L310.82,720.88 L311.03,719.09 L311.21,717.32 L311.36,715.57 L311.51,713.89 L311.65,712.28 L311.79,710.74 L311.93,709.24 L312.06,707.78 L312.2,706.36 L312.33,704.95 L312.47,703.55 L312.6,702.15 L312.73,700.74 L312.87,699.32 L313.01,697.88 L313.14,696.44 L313.28,694.99 L313.42,693.54 L313.55,692.07 L313.69,690.6 L313.83,689.12 L313.96,687.63 L314.1,686.14 L314.24,684.64 L314.38,683.14 L314.51,681.64 L314.65,680.13 L314.78,678.61 L314.92,677.1 L315.05,675.58 L315.18,674.06 L315.32,672.54 L315.45,671.02 L315.58,669.5 L315.71,667.97 L315.83,666.45 L315.96,664.94 L316.08,663.42 L316.21,661.9 L316.33,660.39 L316.45,658.88 L316.56,657.37 L316.68,655.87 L316.8,654.36 L316.91,652.86 L317.02,651.36 L317.13,649.86 L317.24,648.36 L317.35,646.87 L317.45,645.37 L317.56,643.88 L317.66,642.38 L317.77,640.89 L317.87,639.4 L317.97,637.9 L318.06,636.41 L318.16,634.92 L318.26,633.43 L318.35,631.94 L318.45,630.45 L318.54,628.95 L318.63,627.46 L318.72,625.97 L318.81,624.48 L318.89,622.98 L318.98,621.49 L319.07,619.99 L319.15,618.5 L319.24,617 L319.32,615.51 L319.4,614.01 L319.48,612.51 L319.57,611.02 L319.65,609.52 L319.73,608.02 L319.81,606.52 L319.89,605.02 L319.96,603.52 L320.04,602.03 L320.12,600.53 L320.2,599.03 L320.28,597.53 L320.36,596.03 L320.43,594.52 L320.51,593.02 L320.59,591.52 L320.67,590.02 L320.75,588.52 L320.83,587.02 L320.91,585.52 L320.99,584.01 L321.07,582.51 L321.15,581.01 L321.23,579.5 L321.31,578 L321.39,576.5 L321.47,575 L321.56,573.49 L321.64,571.99 L321.73,570.49 L321.81,568.98 L321.9,567.48 L321.99,565.97 L322.08,564.47 L322.17,562.97 L322.26,561.46 L322.35,559.96 L322.44,558.46 L322.54,556.95 L322.64,555.45 L322.73,553.94 L322.83,552.44 L322.93,550.94 L323.04,549.43 L323.14,547.93 L323.25,546.43 L323.35,544.92 L323.46,543.42 L323.57,541.92 L323.69,540.42 L323.8,538.91 L323.92,537.41 L324.04,535.91 L324.16,534.41 L324.28,532.91 L324.4,531.42 L324.53,529.92 L324.66,528.43 L324.79,526.93 L324.92,525.44 L325.05,523.95 L325.19,522.46 L325.33,520.97 L325.47,519.48 L325.61,518 L325.75,516.51 L325.9,515.03 L326.05,513.56 L326.2,512.08 L326.35,510.6 L326.51,509.13 L326.67,507.66 L326.82,506.19 L326.99,504.72 L327.15,503.25 L327.31,501.77 L327.47,500.28 L327.63,498.77 L327.79,497.26 L327.95,495.72 L328.1,494.16 L328.25,492.58 L328.4,490.97 L328.54,489.33 L328.68,487.66 L328.84,485.99 L329.05,484.34 L329.36,482.75 L329.78,481.26 L330.36,479.9 L331.14,478.71 L332.08,477.79 L333.03,477.43 L333.87,477.76 L334.6,478.7 L335.24,480.09 L335.78,481.81 L336.26,483.7 L336.66,485.64 L337.02,487.48 L337.32,489.13 L337.6,490.62 L337.85,492.02 L338.09,493.37 L338.33,494.73 L338.58,496.11 L338.82,497.51 L339.07,498.94 L339.32,500.38 L339.57,501.84 L339.81,503.31 L340.06,504.79 L340.31,506.28 L340.56,507.78 L340.8,509.28 L341.05,510.78 L341.29,512.29 L341.53,513.79 L341.76,515.29 L342,516.79 L342.23,518.28 L342.46,519.78 L342.69,521.27 L342.91,522.77 L343.13,524.26 L343.36,525.76 L343.58,527.25 L343.79,528.74 L344.01,530.23 L344.23,531.72 L344.44,533.21 L344.65,534.7 L344.86,536.18 L345.07,537.67 L345.28,539.16 L345.49,540.65 L345.69,542.13 L345.9,543.62 L346.1,545.11 L346.31,546.59 L346.51,548.08 L346.71,549.57 L346.91,551.05 L347.11,552.54 L347.31,554.03 L347.51,555.51 L347.71,557 L347.9,558.49 L348.1,559.97 L348.3,561.46 L348.49,562.95 L348.68,564.43 L348.88,565.92 L349.07,567.41 L349.26,568.89 L349.45,570.38 L349.64,571.87 L349.82,573.36 L350.01,574.84 L350.2,576.33 L350.38,577.82 L350.57,579.31 L350.75,580.8 L350.94,582.28 L351.12,583.77 L351.3,585.26 L351.48,586.75 L351.66,588.24 L351.84,589.73 L352.02,591.22 L352.2,592.71 L352.37,594.2 L352.55,595.69 L352.73,597.18 L352.9,598.67 L353.07,600.17 L353.25,601.66 L353.42,603.15 L353.59,604.64 L353.76,606.14 L353.93,607.63 L354.1,609.13 L354.27,610.62 L354.44,612.12 L354.6,613.61 L354.77,615.11 L354.94,616.6 L355.1,618.1 L355.26,619.6 L355.43,621.1 L355.59,622.6 L355.76,624.09 L355.92,625.59 L356.08,627.09 L356.25,628.59 L356.42,630.09 L356.58,631.59 L356.75,633.09 L356.92,634.58 L357.09,636.08 L357.26,637.58 L357.44,639.08 L357.62,640.58 L357.8,642.07 L357.98,643.57 L358.16,645.06 L358.35,646.56 L358.54,648.05 L358.73,649.55 L358.93,651.04 L359.13,652.53 L359.34,654.02 L359.55,655.51 L359.76,657 L359.98,658.49 L360.2,659.98 L360.43,661.46 L360.66,662.95 L360.9,664.43 L361.14,665.91 L361.39,667.39 L361.64,668.87 L361.91,670.35 L362.17,671.82 L362.44,673.29 L362.72,674.77 L363.01,676.24 L363.3,677.7 L363.6,679.17 L363.91,680.63 L364.23,682.1 L364.55,683.56 L364.88,685.01 L365.22,686.47 L365.57,687.92 L365.92,689.37 L366.29,690.82 L366.66,692.27 L367.04,693.71 L367.43,695.15 L367.84,696.59 L368.25,698.02 L368.67,699.46 L369.11,700.88 L369.55,702.31 L370.01,703.73 L370.48,705.14 L370.96,706.56 L371.45,707.97 L371.95,709.37 L372.47,710.77 L373.01,712.17 L373.55,713.56 L374.11,714.94 L374.68,716.32 L375.27,717.7 L375.88,719.07 L376.49,720.44 L377.13,721.8 L377.78,723.15 L378.44,724.5 L379.12,725.84 L379.82,727.18 L380.54,728.51 L381.27,729.84 L382.02,731.16 L382.79,732.47 L383.58,733.77 L384.38,735.07 L385.21,736.36 L386.05,737.65 L386.91,738.92 L387.79,740.19 L388.7,741.46 L389.62,742.71 L390.56,743.96 L391.53,745.2 L392.51,746.43 L393.52,747.65 L394.55,748.85 L395.6,750.02 L396.67,751.16 L397.77,752.24 L398.89,753.27 L400.03,754.23 L401.19,755.11 L402.38,755.91 L403.59,756.6 L404.83,757.19 L406.09,757.66 L407.37,758.01 L408.68,758.21 L410.01,758.27 L411.37,758.18 L412.75,757.95 L414.16,757.61 L415.59,757.19 L417.05,756.72 L418.54,756.23 L420.06,755.75 L421.6,755.31 L423.17,754.95 L424.77,754.68 L426.41,754.55 L428.07,754.57 L429.74,754.7 L431.41,754.9 L433.06,755.11 L434.68,755.28 L436.24,755.35 L437.73,755.3 L439.15,755.11 L440.51,754.79 L441.8,754.35 L443.03,753.81 L444.2,753.15 L445.31,752.4 L446.37,751.55 L447.37,750.62 L448.33,749.61 L449.23,748.52 L450.09,747.37 L450.9,746.16 L451.66,744.9 L452.39,743.59 L453.08,742.24 L453.73,740.86 L454.34,739.45 L454.93,738.02 L455.48,736.58 L456,735.14 L456.5,733.69 L456.97,732.23 L457.41,730.78 L457.83,729.32 L458.23,727.85 L458.61,726.39 L458.97,724.92 L459.31,723.44 L459.63,721.97 L459.93,720.49 L460.22,719.01 L460.5,717.53 L460.76,716.05 L461.01,714.57 L461.25,713.09 L461.48,711.6 L461.7,710.12 L461.91,708.63 L462.12,707.14 L462.32,705.66 L462.52,704.17 L462.72,702.69 L462.92,701.2 L463.11,699.72 L463.31,698.23 L463.51,696.75 L463.71,695.27 L463.91,693.79 L464.12,692.31 L464.32,690.83 L464.53,689.35 L464.74,687.87 L464.95,686.39 L465.16,684.91 L465.37,683.43 L465.58,681.95 L465.79,680.47 L466,678.98 L466.21,677.5 L466.42,676.01 L466.62,674.52 L466.83,673.03 L467.03,671.53 L467.23,670.03 L467.42,668.53 L467.62,667.03 L467.81,665.52 L467.99,664.01 L468.17,662.49 L468.35,660.97 L468.53,659.45 L468.71,657.93 L468.89,656.42 L469.09,654.91 L469.3,653.41 L469.52,651.93 L469.77,650.46 L470.04,649.02 L470.33,647.59 L470.66,646.2 L471.01,644.83 L471.41,643.48 L471.82,642.14 L472.24,640.78 L472.65,639.38 L473.04,637.91 L473.4,636.35 L473.72,634.69 L473.98,632.9 L474.22,631.03 L474.53,629.2 L474.98,627.5 L475.65,626.05 L476.55,624.9 L477.6,624.05 L478.74,623.51 L479.92,623.3 L481.07,623.43 L482.13,623.9 L483.06,624.71 L483.87,625.8 L484.57,627.12 L485.2,628.62 L485.76,630.24 L486.28,631.93 L486.77,633.63 L487.24,635.3 L487.71,636.94 L488.16,638.55 L488.6,640.13 L489.03,641.69 L489.45,643.22 L489.86,644.73 L490.26,646.22 L490.65,647.69 L491.04,649.15 L491.42,650.59 L491.79,652.02 L492.15,653.43 L492.51,654.84 L492.87,656.25 L493.22,657.64 L493.56,659.04 L493.9,660.43 L494.24,661.82 L494.58,663.22 L494.91,664.62 L495.25,666.03 L495.58,667.44 L495.91,668.87 L496.24,670.31 L496.58,671.75 L496.91,673.21 L497.24,674.68 L497.57,676.16 L497.91,677.65 L498.24,679.14 L498.58,680.63 L498.91,682.13 L499.25,683.64 L499.58,685.14 L499.92,686.65 L500.26,688.15 L500.59,689.65 L500.93,691.15 L501.27,692.65 L501.61,694.14 L501.94,695.63 L502.28,697.1 L502.62,698.57 L502.96,700.04 L503.31,701.49 L503.65,702.95 L504,704.39 L504.36,705.83 L504.72,707.27 L505.08,708.7 L505.45,710.13 L505.83,711.55 L506.21,712.97 L506.6,714.39 L507,715.81 L507.41,717.22 L507.83,718.64 L508.26,720.05 L508.7,721.47 L509.15,722.88 L509.61,724.29 L510.08,725.71 L510.57,727.13 L511.08,728.54 L511.59,729.97 L512.12,731.39 L512.67,732.82 L513.24,734.24 L513.82,735.67 L514.42,737.09 L515.04,738.5 L515.68,739.91 L516.34,741.31 L517.02,742.69 L517.72,744.06 L518.44,745.42 L519.19,746.76 L519.96,748.08 L520.76,749.37 L521.58,750.65 L522.43,751.9 L523.31,753.12 L524.21,754.31 L525.14,755.47 L526.1,756.59 L527.1,757.68 L528.12,758.74 L529.17,759.75 L530.26,760.72 L531.37,761.65 L532.52,762.54 L533.7,763.39 L534.91,764.2 L536.15,764.97 L537.41,765.7 L538.7,766.39 L540.01,767.05 L541.35,767.68 L542.7,768.27 L544.08,768.83 L545.48,769.35 L546.89,769.85 L548.32,770.32 L549.77,770.75 L551.23,771.17 L552.7,771.55 L554.18,771.91 L555.68,772.24 L557.18,772.56 L558.69,772.85 L560.21,773.11 L561.73,773.36 L563.26,773.59 L564.79,773.8 L566.32,774 L567.86,774.18 L569.39,774.34 L570.92,774.49 L572.45,774.62 L573.97,774.75 L575.49,774.86 L577,774.96 L578.5,775.06 L579.99,775.14 L581.48,775.22 L582.96,775.29 L584.44,775.36 L585.91,775.41 L587.38,775.47 L588.84,775.51 L590.31,775.55 L591.77,775.59 L593.24,775.62 L594.71,775.65 L596.18,775.68 L597.65,775.7 L599.13,775.73 L600.61,775.75 L602.1,775.77 L603.6,775.78 L605.11,775.8 L606.63,775.82 L608.15,775.84 L609.69,775.86 L611.24,775.88 L612.81,775.9" fill="none" stroke="#000000" stroke-width="2.0" stroke-linejoin="round" stroke-linecap="round"/>
<path d="M316.69,576.12 L317.34,577.9 L318.21,579.08 L319.27,579.78 L320.48,580.08 L321.83,580.1 L323.26,579.94 L324.76,579.7 L326.29,579.47 L327.82,579.35 L329.34,579.36 L330.85,579.49 L332.35,579.72 L333.83,580.05 L335.3,580.46 L336.74,580.96 L338.17,581.52 L339.58,582.14 L340.96,582.81 L342.33,583.53 L343.69,584.29 L345.02,585.09 L346.35,585.91 L347.67,586.76 L348.99,587.62 L350.3,588.49 L351.61,589.36 L352.92,590.23 L354.23,591.1 L355.55,591.95 L356.88,592.78 L358.22,593.58 L359.57,594.35 L360.94,595.08 L362.32,595.76 L363.72,596.4 L365.15,596.98 L366.6,597.49" fill="none" stroke="#000000" stroke-width="2.0" stroke-linejoin="round" stroke-linecap="round"/>
<path d="M455.8,685.71 L457.33,685.34 L458.87,684.99 L460.4,684.66 L461.94,684.36 L463.48,684.07 L465.02,683.82 L466.56,683.58 L468.11,683.36 L469.65,683.17 L471.2,683 L472.74,682.84 L474.29,682.71 L475.84,682.59 L477.39,682.49 L478.94,682.42 L480.49,682.35 L482.05,682.31 L483.6,682.28 L485.15,682.27 L486.7,682.27 L488.26,682.29 L489.81,682.33 L491.36,682.37 L492.91,682.44 L494.46,682.51 L496.02,682.6 L497.57,682.7 L499.12,682.81 L500.67,682.92 L502.22,683.01 L503.76,683.07 L505.31,683.08 L506.85,683.04 L508.4,682.91 L509.94,682.7 L511.47,682.37 L512.99,681.99 L514.19,682.19 L514.64,683.77 L513.5,685.5" fill="none" stroke="#000000" stroke-width="2.0" stroke-linejoin="round" stroke-linecap="round"/>
<path d="M120,870.5 H613.3 V1209.3" fill="none" stroke="#000" stroke-width="2.8"/>
<path d="M120,869.2 V1209.3" fill="none" stroke="#000" stroke-width="2.8"/>
<path d="M111.5,1199.3 H622.3" fill="none" stroke="#000" stroke-width="2.8"/>
<path d="M120,1199.3 V1209.3" stroke="#000" stroke-width="3.1"/>
<text x="120" y="1224.7" font-size="14" text-anchor="middle" font-weight="normal" font-style="normal">12</text>
<path d="M218.66,1199.3 V1209.3" stroke="#000" stroke-width="3.1"/>
<text x="218.66" y="1224.7" font-size="14" text-anchor="middle" font-weight="normal" font-style="normal">14</text>
<path d="M317.32,1199.3 V1209.3" stroke="#000" stroke-width="3.1"/>
<text x="317.32" y="1224.7" font-size="14" text-anchor="middle" font-weight="normal" font-style="normal">16</text>
<path d="M415.98,1199.3 V1209.3" stroke="#000" stroke-width="3.1"/>
<text x="415.98" y="1224.7" font-size="14" text-anchor="middle" font-weight="normal" font-style="normal">18</text>
<path d="M514.64,1199.3 V1209.3" stroke="#000" stroke-width="3.1"/>
<text x="514.64" y="1224.7" font-size="14" text-anchor="middle" font-weight="normal" font-style="normal">20</text>
<path d="M613.3,1199.3 V1209.3" stroke="#000" stroke-width="3.1"/>
<text x="613.3" y="1224.7" font-size="14" text-anchor="middle" font-weight="normal" font-style="normal">22</text>
<path d="M111.2,1199.3 H120" stroke="#000" stroke-width="3.2"/>
<text x="108.1" y="1204.1" font-size="14" text-anchor="end" font-weight="normal" font-style="normal">0.0</text>
<path d="M111.2,1133.54 H120" stroke="#000" stroke-width="3.2"/>
<text x="108.1" y="1138.34" font-size="14" text-anchor="end" font-weight="normal" font-style="normal">0.1</text>
<path d="M111.2,1067.78 H120" stroke="#000" stroke-width="3.2"/>
<text x="108.1" y="1072.58" font-size="14" text-anchor="end" font-weight="normal" font-style="normal">0.2</text>
<path d="M111.2,1002.02 H120" stroke="#000" stroke-width="3.2"/>
<text x="108.1" y="1006.82" font-size="14" text-anchor="end" font-weight="normal" font-style="normal">0.3</text>
<path d="M111.2,936.26 H120" stroke="#000" stroke-width="3.2"/>
<text x="108.1" y="941.06" font-size="14" text-anchor="end" font-weight="normal" font-style="normal">0.4</text>
<path d="M111.2,870.5 H120" stroke="#000" stroke-width="3.2"/>
<text x="108.1" y="875.3" font-size="14" text-anchor="end" font-weight="normal" font-style="normal">0.5</text>
<path d="M613.3,1199.3 H622.5" stroke="#000" stroke-width="3.2"/>
<text x="627.5" y="1204.1" font-size="14" text-anchor="start" font-weight="normal" font-style="normal">0</text>
<path d="M613.3,1133.54 H622.5" stroke="#000" stroke-width="3.2"/>
<text x="627.5" y="1138.34" font-size="14" text-anchor="start" font-weight="normal" font-style="normal">20</text>
<path d="M613.3,1067.78 H622.5" stroke="#000" stroke-width="3.2"/>
<text x="627.5" y="1072.58" font-size="14" text-anchor="start" font-weight="normal" font-style="normal">40</text>
<path d="M613.3,1002.02 H622.5" stroke="#000" stroke-width="3.2"/>
<text x="627.5" y="1006.82" font-size="14" text-anchor="start" font-weight="normal" font-style="normal">60</text>
<path d="M613.3,936.26 H622.5" stroke="#000" stroke-width="3.2"/>
<text x="627.5" y="941.06" font-size="14" text-anchor="start" font-weight="normal" font-style="normal">80</text>
<path d="M613.3,870.5 H622.5" stroke="#000" stroke-width="3.2"/>
<text x="627.5" y="875.3" font-size="14" text-anchor="start" font-weight="normal" font-style="normal">100</text>
<text x="0" y="856.8" font-size="21" text-anchor="start" font-weight="bold" font-style="normal">C)</text>
<text transform="translate(48.2,1006.9) rotate(-90)" font-size="17" font-weight="bold" text-anchor="middle" textLength="178.8" lengthAdjust="spacingAndGlyphs">Refractive index (a.u.)</text>
<text transform="translate(652.8,1017.7) rotate(90)" font-size="17" font-weight="bold" text-anchor="middle" textLength="178.1" lengthAdjust="spacingAndGlyphs">Molecular weight (kD)</text>
<text x="366.15" y="1250.5" font-size="17" text-anchor="middle" font-weight="bold" font-style="normal" textLength="145.2" lengthAdjust="spacingAndGlyphs">Elution time (min)</text>
<path d="M125.9,1015.5 H611.8" stroke="#000" stroke-width="2.4" stroke-linecap="round" stroke-dasharray="0.01 6.29"/>
<path d="M125.9,1107.8 H611.8" stroke="#000" stroke-width="2.4" stroke-linecap="round" stroke-dasharray="0.01 6.29"/>
<text x="606" y="1006.7" font-size="14" text-anchor="end" font-weight="normal" font-style="italic" textLength="73.9" lengthAdjust="spacingAndGlyphs" fill="#111">GRB2 dimer</text>
<text x="606" y="1095" font-size="14" text-anchor="end" font-weight="normal" font-style="italic" textLength="98.5" lengthAdjust="spacingAndGlyphs" fill="#111">GRB2 monomer</text>
<path d="M133.7,893.3 H151.7" stroke="#000000" stroke-width="2.7" stroke-linecap="round"/>
<text x="158" y="897.9" font-size="13.6" text-anchor="start" font-weight="normal" font-style="normal">WT monomer</text>
<path d="M133.7,915.1 H151.7" stroke="#E69F00" stroke-width="2.7" stroke-linecap="round"/>
<text x="158" y="919.7" font-size="13.6" text-anchor="start" font-weight="normal" font-style="normal">N188D/N214D monomer</text>
<path d="M133.7,936.9 H151.7" stroke="#0072B2" stroke-width="2.7" stroke-linecap="round"/>
<text x="158" y="941.5" font-size="13.6" text-anchor="start" font-weight="normal" font-style="normal">V123D monomer</text>
<path d="M210,1199.21 L211.44,1198.93 L212.9,1198.71 L214.37,1198.53 L215.86,1198.39 L217.36,1198.28 L218.87,1198.2 L220.39,1198.14 L221.92,1198.1 L223.45,1198.06 L224.98,1198.03 L226.52,1198 L228.06,1197.96 L229.59,1197.91 L231.12,1197.84 L232.65,1197.75 L234.17,1197.63 L235.68,1197.47 L237.17,1197.28 L238.66,1197.04 L240.12,1196.74 L241.54,1196.38 L242.93,1195.94 L244.27,1195.41 L245.55,1194.78 L246.77,1194.05 L247.9,1193.2 L248.96,1192.22 L249.93,1191.11 L250.83,1189.89 L251.7,1188.6 L252.54,1187.27 L253.39,1185.92 L254.27,1184.59 L255.2,1183.3 L256.19,1182.07 L257.24,1180.91 L258.34,1179.82 L259.49,1178.8 L260.69,1177.86 L261.93,1177 L263.21,1176.22 L264.51,1175.53 L265.85,1174.93 L267.2,1174.42 L268.58,1174.01 L269.97,1173.7 L271.36,1173.49 L272.76,1173.39 L274.16,1173.4 L275.56,1173.52 L276.95,1173.77 L278.32,1174.13 L279.68,1174.61 L281.01,1175.22 L282.33,1175.93 L283.63,1176.73 L284.92,1177.61 L286.21,1178.54 L287.49,1179.51 L288.77,1180.51 L290.05,1181.52 L291.35,1182.51 L292.65,1183.48 L293.97,1184.41 L295.3,1185.29 L296.65,1186.1 L298.01,1186.87 L299.38,1187.59 L300.76,1188.26 L302.14,1188.9 L303.52,1189.49 L304.9,1190.06 L306.29,1190.6 L307.67,1191.11 L309.04,1191.59 L310.42,1192.05 L311.8,1192.48 L313.19,1192.89 L314.57,1193.27 L315.96,1193.63 L317.35,1193.97 L318.75,1194.29 L320.16,1194.6 L321.57,1194.88 L323,1195.14 L324.43,1195.39 L325.87,1195.62 L327.32,1195.84 L328.79,1196.04 L330.26,1196.23 L331.75,1196.41 L333.26,1196.57 L334.78,1196.73 L336.32,1196.87 L337.87,1197.01 L339.45,1197.14 L341.04,1197.26 L342.65,1197.37 L344.26,1197.47 L345.88,1197.55 L347.51,1197.59 L349.12,1197.61 L350.72,1197.59 L352.31,1197.53 L353.87,1197.43 L355.41,1197.27 L356.92,1197.05 L358.38,1196.77 L359.8,1196.43 L361.18,1196.01 L362.5,1195.51 L363.76,1194.93 L364.95,1194.27 L366.08,1193.51 L367.14,1192.67 L368.14,1191.74 L369.08,1190.75 L369.96,1189.68 L370.78,1188.54 L371.55,1187.34 L372.27,1186.09 L372.94,1184.79 L373.56,1183.44 L374.13,1182.05 L374.67,1180.62 L375.17,1179.17 L375.63,1177.68 L376.05,1176.18 L376.44,1174.66 L376.81,1173.13 L377.14,1171.59 L377.45,1170.05 L377.74,1168.51 L378.01,1166.98 L378.25,1165.47 L378.48,1163.95 L378.7,1162.45 L378.9,1160.95 L379.09,1159.46 L379.27,1157.97 L379.43,1156.48 L379.59,1155 L379.75,1153.52 L379.89,1152.03 L380.04,1150.55 L380.18,1149.07 L380.32,1147.59 L380.45,1146.1 L380.59,1144.61 L380.72,1143.13 L380.85,1141.64 L380.98,1140.15 L381.1,1138.66 L381.22,1137.17 L381.35,1135.67 L381.46,1134.18 L381.58,1132.69 L381.7,1131.19 L381.81,1129.7 L381.92,1128.2 L382.03,1126.7 L382.14,1125.21 L382.25,1123.71 L382.35,1122.21 L382.45,1120.71 L382.56,1119.21 L382.66,1117.71 L382.75,1116.21 L382.85,1114.71 L382.95,1113.2 L383.04,1111.7 L383.13,1110.2 L383.22,1108.69 L383.31,1107.19 L383.4,1105.68 L383.49,1104.18 L383.58,1102.67 L383.66,1101.17 L383.75,1099.66 L383.83,1098.16 L383.91,1096.65 L383.99,1095.15 L384.07,1093.64 L384.15,1092.13 L384.23,1090.63 L384.31,1089.12 L384.39,1087.61 L384.46,1086.11 L384.54,1084.6 L384.61,1083.09 L384.69,1081.59 L384.76,1080.08 L384.83,1078.57 L384.91,1077.07 L384.98,1075.56 L385.05,1074.06 L385.12,1072.55 L385.19,1071.05 L385.26,1069.54 L385.33,1068.04 L385.4,1066.53 L385.47,1065.03 L385.54,1063.53 L385.61,1062.02 L385.68,1060.52 L385.75,1059.02 L385.82,1057.52 L385.89,1056.01 L385.97,1054.51 L386.04,1053.01 L386.11,1051.52 L386.18,1050.02 L386.25,1048.52 L386.32,1047.02 L386.39,1045.52 L386.46,1044.03 L386.54,1042.53 L386.61,1041.03 L386.68,1039.54 L386.76,1038.04 L386.83,1036.55 L386.91,1035.05 L386.99,1033.55 L387.06,1032.06 L387.14,1030.56 L387.22,1029.06 L387.3,1027.57 L387.38,1026.07 L387.47,1024.57 L387.55,1023.07 L387.64,1021.57 L387.72,1020.07 L387.81,1018.57 L387.9,1017.06 L387.99,1015.56 L388.08,1014.06 L388.18,1012.55 L388.27,1011.04 L388.37,1009.53 L388.47,1008.02 L388.57,1006.51 L388.67,1005 L388.77,1003.49 L388.88,1001.97 L388.99,1000.45 L389.1,998.93 L389.21,997.41 L389.32,995.89 L389.44,994.37 L389.56,992.85 L389.68,991.33 L389.8,989.82 L389.92,988.31 L390.04,986.8 L390.17,985.3 L390.29,983.81 L390.42,982.33 L390.54,980.86 L390.67,979.4 L390.8,977.95 L390.93,976.51 L391.05,975.09 L391.18,973.67 L391.31,972.26 L391.44,970.84 L391.57,969.42 L391.69,967.97 L391.82,966.5 L391.95,964.99 L392.07,963.45 L392.19,961.86 L392.31,960.21 L392.44,958.51 L392.59,956.78 L392.76,955.02 L392.98,953.25 L393.25,951.48 L393.6,949.74 L394.03,948.03 L394.54,946.38 L395.13,944.85 L395.79,943.51 L396.5,942.4 L397.27,941.58 L398.07,941.11 L398.91,941.06 L399.76,941.41 L400.63,942.13 L401.51,943.13 L402.38,944.36 L403.23,945.75 L404.07,947.23 L404.87,948.75 L405.64,950.25 L406.38,951.74 L407.09,953.23 L407.76,954.7 L408.42,956.16 L409.04,957.61 L409.65,959.06 L410.23,960.5 L410.8,961.94 L411.35,963.37 L411.88,964.79 L412.41,966.21 L412.92,967.63 L413.42,969.05 L413.92,970.47 L414.41,971.88 L414.9,973.3 L415.38,974.72 L415.87,976.13 L416.35,977.55 L416.84,978.97 L417.32,980.39 L417.8,981.81 L418.27,983.23 L418.75,984.65 L419.23,986.08 L419.7,987.5 L420.17,988.92 L420.64,990.35 L421.11,991.77 L421.58,993.2 L422.05,994.62 L422.52,996.05 L422.99,997.47 L423.45,998.9 L423.92,1000.33 L424.38,1001.76 L424.85,1003.18 L425.31,1004.61 L425.78,1006.04 L426.24,1007.47 L426.7,1008.9 L427.16,1010.33 L427.62,1011.76 L428.09,1013.19 L428.55,1014.62 L429.01,1016.05 L429.47,1017.48 L429.93,1018.91 L430.39,1020.34 L430.86,1021.77 L431.32,1023.2 L431.78,1024.63 L432.24,1026.06 L432.71,1027.5 L433.17,1028.93 L433.63,1030.36 L434.1,1031.79 L434.56,1033.22 L435.03,1034.65 L435.5,1036.08 L435.96,1037.51 L436.43,1038.94 L436.9,1040.37 L437.37,1041.8 L437.84,1043.23 L438.31,1044.66 L438.78,1046.09 L439.25,1047.52 L439.73,1048.95 L440.2,1050.38 L440.68,1051.8 L441.16,1053.23 L441.63,1054.66 L442.11,1056.09 L442.59,1057.51 L443.07,1058.94 L443.56,1060.37 L444.04,1061.79 L444.52,1063.22 L445.01,1064.64 L445.5,1066.06 L445.99,1067.49 L446.48,1068.91 L446.97,1070.33 L447.46,1071.76 L447.95,1073.18 L448.45,1074.6 L448.95,1076.02 L449.45,1077.44 L449.95,1078.86 L450.45,1080.28 L450.95,1081.69 L451.46,1083.11 L451.97,1084.53 L452.47,1085.94 L452.98,1087.36 L453.5,1088.77 L454.01,1090.19 L454.53,1091.6 L455.04,1093.01 L455.56,1094.42 L456.09,1095.83 L456.61,1097.24 L457.14,1098.65 L457.66,1100.06 L458.19,1101.46 L458.73,1102.87 L459.26,1104.27 L459.8,1105.68 L460.33,1107.08 L460.87,1108.48 L461.42,1109.88 L461.96,1111.28 L462.51,1112.68 L463.06,1114.08 L463.61,1115.47 L464.17,1116.87 L464.73,1118.26 L465.3,1119.65 L465.87,1121.04 L466.44,1122.43 L467.03,1123.81 L467.61,1125.19 L468.21,1126.57 L468.81,1127.94 L469.42,1129.31 L470.03,1130.68 L470.66,1132.05 L471.29,1133.41 L471.93,1134.77 L472.59,1136.12 L473.25,1137.47 L473.92,1138.81 L474.6,1140.15 L475.3,1141.49 L476,1142.81 L476.72,1144.14 L477.45,1145.46 L478.19,1146.77 L478.95,1148.08 L479.72,1149.38 L480.5,1150.68 L481.3,1151.96 L482.12,1153.25 L482.94,1154.52 L483.79,1155.79 L484.64,1157.04 L485.52,1158.29 L486.4,1159.52 L487.31,1160.75 L488.22,1161.96 L489.16,1163.16 L490.1,1164.34 L491.07,1165.52 L492.04,1166.67 L493.04,1167.81 L494.04,1168.94 L495.07,1170.04 L496.11,1171.13 L497.16,1172.2 L498.23,1173.25 L499.32,1174.28 L500.42,1175.29 L501.53,1176.28 L502.67,1177.25 L503.82,1178.19 L504.98,1179.11 L506.16,1180 L507.36,1180.87 L508.57,1181.72 L509.79,1182.53 L511.04,1183.32 L512.3,1184.08 L513.57,1184.82 L514.87,1185.52 L516.18,1186.19 L517.5,1186.84 L518.84,1187.45 L520.2,1188.03 L521.57,1188.58 L522.96,1189.1 L524.36,1189.6 L525.77,1190.06 L527.19,1190.51 L528.63,1190.92 L530.08,1191.32 L531.53,1191.69 L533,1192.03 L534.48,1192.36 L535.96,1192.66 L537.45,1192.95 L538.95,1193.21 L540.46,1193.46 L541.97,1193.69 L543.49,1193.9 L545.01,1194.1 L546.53,1194.28 L548.06,1194.45 L549.6,1194.6 L551.13,1194.74 L552.66,1194.87 L554.2,1194.99 L555.74,1195.1 L557.27,1195.2 L558.8,1195.29 L560.34,1195.38 L561.87,1195.46 L563.39,1195.53 L564.91,1195.6 L566.43,1195.66 L567.95,1195.72 L569.45,1195.78 L570.96,1195.84 L572.45,1195.89 L573.94,1195.95 L575.43,1196 L576.91,1196.05 L578.38,1196.1 L579.86,1196.15 L581.33,1196.2 L582.8,1196.25 L584.27,1196.3 L585.74,1196.34 L587.21,1196.39 L588.68,1196.43 L590.15,1196.47 L591.63,1196.51 L593.1,1196.55 L594.58,1196.59 L596.07,1196.63 L597.55,1196.67 L599.05,1196.71 L600.55,1196.74 L602.05,1196.78 L603.56,1196.81 L605.08,1196.84 L606.61,1196.88 L608.14,1196.91 L609.69,1196.94 L611.25,1196.97 L612.81,1197" fill="none" stroke="#E69F00" stroke-width="2.0" stroke-linejoin="round" stroke-linecap="round"/>
<path d="M258.2,1010.02 L259.4,1008.9 L260.65,1007.83 L261.94,1006.81 L263.27,1005.87 L264.62,1005.02 L266,1004.27 L267.41,1003.63 L268.84,1003.12 L270.28,1002.74 L271.73,1002.5 L273.18,1002.39 L274.64,1002.41 L276.1,1002.55 L277.56,1002.81 L279,1003.18 L280.43,1003.66 L281.85,1004.25 L283.26,1004.92 L284.66,1005.65 L286.04,1006.45 L287.42,1007.28 L288.8,1008.14 L290.17,1009.01 L291.53,1009.88 L292.9,1010.73 L294.26,1011.55 L295.62,1012.36 L296.97,1013.15 L298.33,1013.93 L299.67,1014.7 L301.01,1015.47 L302.35,1016.24 L303.68,1017.01 L304.99,1017.8 L306.3,1018.59" fill="none" stroke="#E69F00" stroke-width="2.0" stroke-linejoin="round" stroke-linecap="round"/>
<path d="M384.29,1089.48 L385.79,1088.77 L387.28,1088.15 L388.77,1087.6 L390.26,1087.14 L391.74,1086.75 L393.22,1086.43 L394.7,1086.18 L396.18,1086 L397.65,1085.89 L399.12,1085.83 L400.58,1085.84 L402.05,1085.9 L403.51,1086.01 L404.97,1086.17 L406.43,1086.38 L407.88,1086.63 L409.34,1086.92 L410.79,1087.25 L412.25,1087.62 L413.7,1088.01 L415.15,1088.44 L416.6,1088.89 L418.06,1089.36 L419.51,1089.85 L420.96,1090.36 L422.41,1090.89 L423.87,1091.42 L425.32,1091.97 L426.78,1092.51 L428.23,1093.06 L429.69,1093.61 L431.15,1094.16 L432.61,1094.7 L434.07,1095.23 L435.54,1095.75 L437.01,1096.25 L438.48,1096.73 L439.95,1097.2 L441.43,1097.64 L442.91,1098.07 L444.39,1098.48 L445.87,1098.88 L447.35,1099.26 L448.84,1099.62 L450.33,1099.97 L451.82,1100.31 L453.31,1100.64 L454.8,1100.96 L456.3,1101.27 L457.8,1101.57 L459.3,1101.86 L460.79,1102.14 L462.3,1102.42 L463.8,1102.69 L465.3,1102.95 L466.8,1103.22 L468.31,1103.48 L469.81,1103.73 L471.32,1103.99 L472.82,1104.25 L474.33,1104.5 L475.84,1104.76 L477.34,1105.02 L478.85,1105.28 L480.36,1105.55 L481.86,1105.82 L483.37,1106.1 L484.88,1106.39 L486.38,1106.68 L487.89,1106.98 L489.39,1107.29 L490.9,1107.61 L492.4,1107.94 L493.9,1108.28 L495.4,1108.63 L496.9,1109" fill="none" stroke="#E69F00" stroke-width="2.0" stroke-linejoin="round" stroke-linecap="round"/>
<path d="M255,1199.2 L256.45,1199 L257.91,1198.76 L259.37,1198.47 L260.83,1198.15 L262.3,1197.8 L263.77,1197.43 L265.25,1197.04 L266.73,1196.64 L268.21,1196.23 L269.69,1195.82 L271.18,1195.42 L272.66,1195.03 L274.15,1194.65 L275.64,1194.3 L277.13,1193.97 L278.61,1193.68 L280.1,1193.43 L281.59,1193.23 L283.07,1193.08 L284.56,1192.97 L286.04,1192.91 L287.52,1192.9 L289,1192.92 L290.49,1192.98 L291.97,1193.07 L293.45,1193.19 L294.93,1193.34 L296.41,1193.51 L297.9,1193.69 L299.38,1193.9 L300.87,1194.11 L302.36,1194.34 L303.85,1194.57 L305.34,1194.8 L306.83,1195.03 L308.33,1195.26 L309.83,1195.48 L311.33,1195.69 L312.83,1195.89 L314.34,1196.08 L315.85,1196.27 L317.35,1196.44 L318.86,1196.61 L320.38,1196.77 L321.89,1196.92 L323.4,1197.06 L324.92,1197.18 L326.43,1197.3 L327.94,1197.41 L329.46,1197.51 L330.97,1197.59 L332.48,1197.67 L334,1197.73 L335.51,1197.78 L337.02,1197.83 L338.53,1197.85 L340.03,1197.87 L341.54,1197.87 L343.04,1197.87 L344.54,1197.84 L346.04,1197.81 L347.53,1197.76 L349.03,1197.7 L350.51,1197.62 L352,1197.54 L353.48,1197.43 L354.96,1197.31 L356.44,1197.18 L357.91,1197.02 L359.37,1196.85 L360.84,1196.65 L362.3,1196.43 L363.76,1196.19 L365.22,1195.92 L366.67,1195.62 L368.13,1195.29 L369.58,1194.93 L371.03,1194.53 L372.47,1194.1 L373.92,1193.64 L375.36,1193.13 L376.8,1192.59 L378.24,1192.01 L379.68,1191.38 L381.1,1190.7 L382.5,1189.98 L383.87,1189.2 L385.18,1188.38 L386.45,1187.49 L387.65,1186.55 L388.77,1185.55 L389.8,1184.48 L390.74,1183.35 L391.58,1182.15 L392.3,1180.88 L392.93,1179.56 L393.48,1178.19 L393.96,1176.78 L394.38,1175.34 L394.77,1173.88 L395.12,1172.41 L395.46,1170.94 L395.79,1169.47 L396.1,1168 L396.39,1166.52 L396.68,1165.05 L396.95,1163.58 L397.2,1162.1 L397.45,1160.62 L397.69,1159.14 L397.91,1157.66 L398.13,1156.18 L398.34,1154.7 L398.54,1153.22 L398.73,1151.73 L398.92,1150.25 L399.1,1148.76 L399.27,1147.27 L399.44,1145.78 L399.61,1144.29 L399.77,1142.8 L399.92,1141.31 L400.08,1139.81 L400.23,1138.31 L400.38,1136.82 L400.53,1135.32 L400.68,1133.82 L400.82,1132.31 L400.97,1130.81 L401.11,1129.31 L401.25,1127.8 L401.39,1126.3 L401.52,1124.79 L401.66,1123.28 L401.79,1121.77 L401.92,1120.26 L402.06,1118.75 L402.19,1117.25 L402.31,1115.73 L402.44,1114.22 L402.57,1112.71 L402.69,1111.2 L402.81,1109.69 L402.94,1108.18 L403.06,1106.67 L403.18,1105.15 L403.29,1103.64 L403.41,1102.13 L403.53,1100.62 L403.64,1099.11 L403.76,1097.6 L403.87,1096.09 L403.99,1094.58 L404.1,1093.07 L404.21,1091.56 L404.32,1090.05 L404.43,1088.54 L404.54,1087.04 L404.65,1085.53 L404.76,1084.03 L404.87,1082.52 L404.97,1081.02 L405.08,1079.52 L405.19,1078.02 L405.29,1076.52 L405.4,1075.02 L405.51,1073.52 L405.61,1072.03 L405.72,1070.53 L405.82,1069.04 L405.93,1067.55 L406.03,1066.06 L406.14,1064.58 L406.24,1063.09 L406.34,1061.61 L406.45,1060.13 L406.55,1058.65 L406.66,1057.17 L406.76,1055.69 L406.87,1054.22 L406.98,1052.74 L407.08,1051.27 L407.19,1049.79 L407.3,1048.31 L407.41,1046.83 L407.51,1045.35 L407.62,1043.86 L407.73,1042.37 L407.85,1040.88 L407.96,1039.38 L408.07,1037.87 L408.19,1036.36 L408.3,1034.84 L408.42,1033.31 L408.54,1031.77 L408.66,1030.23 L408.78,1028.67 L408.91,1027.11 L409.03,1025.53 L409.16,1023.94 L409.29,1022.34 L409.42,1020.73 L409.56,1019.11 L409.69,1017.47 L409.85,1015.83 L410.02,1014.2 L410.22,1012.58 L410.47,1010.99 L410.76,1009.43 L411.1,1007.91 L411.51,1006.44 L411.99,1005.03 L412.56,1003.69 L413.21,1002.42 L413.96,1001.24 L414.82,1000.16 L415.75,999.29 L416.7,998.8 L417.64,998.8 L418.56,999.26 L419.45,1000.11 L420.32,1001.27 L421.16,1002.68 L421.98,1004.26 L422.78,1005.93 L423.55,1007.62 L424.29,1009.27 L425.02,1010.86 L425.72,1012.39 L426.39,1013.87 L427.05,1015.31 L427.69,1016.72 L428.32,1018.09 L428.93,1019.44 L429.53,1020.78 L430.11,1022.1 L430.69,1023.42 L431.26,1024.74 L431.82,1026.06 L432.38,1027.41 L432.94,1028.76 L433.49,1030.13 L434.04,1031.52 L434.58,1032.91 L435.12,1034.32 L435.67,1035.73 L436.21,1037.15 L436.74,1038.58 L437.28,1040 L437.82,1041.43 L438.36,1042.87 L438.9,1044.29 L439.44,1045.72 L439.98,1047.15 L440.52,1048.57 L441.07,1049.98 L441.61,1051.4 L442.15,1052.81 L442.7,1054.22 L443.25,1055.63 L443.79,1057.03 L444.34,1058.44 L444.88,1059.84 L445.43,1061.24 L445.98,1062.64 L446.52,1064.04 L447.07,1065.44 L447.61,1066.84 L448.16,1068.23 L448.7,1069.63 L449.24,1071.03 L449.78,1072.43 L450.32,1073.83 L450.86,1075.23 L451.39,1076.63 L451.93,1078.03 L452.46,1079.43 L452.99,1080.84 L453.52,1082.24 L454.05,1083.65 L454.57,1085.06 L455.1,1086.47 L455.63,1087.88 L456.16,1089.29 L456.68,1090.7 L457.21,1092.11 L457.74,1093.52 L458.27,1094.93 L458.8,1096.34 L459.34,1097.75 L459.87,1099.16 L460.41,1100.57 L460.95,1101.98 L461.5,1103.38 L462.05,1104.79 L462.6,1106.19 L463.15,1107.59 L463.71,1108.99 L464.28,1110.39 L464.84,1111.79 L465.42,1113.19 L466,1114.58 L466.58,1115.97 L467.17,1117.36 L467.77,1118.74 L468.37,1120.12 L468.98,1121.5 L469.6,1122.88 L470.23,1124.25 L470.86,1125.62 L471.5,1126.98 L472.15,1128.35 L472.81,1129.7 L473.47,1131.06 L474.15,1132.41 L474.84,1133.75 L475.53,1135.09 L476.23,1136.43 L476.95,1137.76 L477.68,1139.08 L478.41,1140.41 L479.16,1141.72 L479.92,1143.03 L480.69,1144.34 L481.48,1145.63 L482.27,1146.93 L483.08,1148.21 L483.9,1149.49 L484.73,1150.76 L485.57,1152.02 L486.43,1153.27 L487.3,1154.52 L488.18,1155.75 L489.07,1156.97 L489.98,1158.19 L490.9,1159.39 L491.83,1160.58 L492.78,1161.76 L493.73,1162.92 L494.7,1164.08 L495.69,1165.21 L496.68,1166.34 L497.69,1167.45 L498.72,1168.54 L499.75,1169.62 L500.8,1170.69 L501.86,1171.73 L502.94,1172.76 L504.03,1173.78 L505.13,1174.77 L506.25,1175.75 L507.38,1176.71 L508.52,1177.65 L509.68,1178.56 L510.85,1179.46 L512.04,1180.34 L513.24,1181.2 L514.45,1182.03 L515.68,1182.84 L516.92,1183.63 L518.18,1184.4 L519.45,1185.14 L520.73,1185.86 L522.03,1186.56 L523.34,1187.22 L524.67,1187.87 L526.01,1188.49 L527.37,1189.08 L528.74,1189.64 L530.13,1190.18 L531.53,1190.69 L532.94,1191.17 L534.38,1191.62 L535.82,1192.04 L537.28,1192.43 L538.75,1192.8 L540.24,1193.14 L541.73,1193.46 L543.24,1193.76 L544.75,1194.03 L546.28,1194.28 L547.81,1194.52 L549.35,1194.73 L550.89,1194.93 L552.44,1195.11 L553.99,1195.28 L555.54,1195.43 L557.09,1195.57 L558.65,1195.7 L560.21,1195.81 L561.76,1195.92 L563.31,1196.03 L564.86,1196.12 L566.41,1196.21 L567.95,1196.29 L569.49,1196.37 L571.02,1196.45 L572.54,1196.53 L574.06,1196.61 L575.56,1196.69 L577.05,1196.77 L578.54,1196.86 L580.01,1196.95 L581.48,1197.04 L582.94,1197.13 L584.39,1197.22 L585.85,1197.31 L587.29,1197.4 L588.74,1197.49 L590.19,1197.57 L591.64,1197.65 L593.09,1197.73 L594.54,1197.8 L596.01,1197.87 L597.47,1197.93 L598.95,1197.98 L600.43,1198.02 L601.93,1198.06 L603.44,1198.08 L604.96,1198.1 L606.49,1198.1 L608.05,1198.09 L609.62,1198.07 L611.2,1198.04 L612.81,1197.99" fill="none" stroke="#000000" stroke-width="2.0" stroke-linejoin="round" stroke-linecap="round"/>
<path d="M267.39,1011.51 L268.27,1013.09 L269.25,1014.42 L270.32,1015.54 L271.48,1016.44 L272.72,1017.17 L274.03,1017.73 L275.4,1018.16 L276.83,1018.46 L278.3,1018.66 L279.81,1018.78 L281.35,1018.84 L282.92,1018.87 L284.5,1018.88 L286.09,1018.89 L287.67,1018.93 L289.25,1019.01 L290.82,1019.15 L292.37,1019.34 L293.91,1019.58 L295.45,1019.86 L296.97,1020.19 L298.48,1020.55 L299.99,1020.93 L301.5,1021.35 L302.99,1021.78 L304.49,1022.23 L305.99,1022.69 L307.48,1023.15 L308.97,1023.62 L310.47,1024.08 L311.97,1024.54 L313.47,1024.98 L314.98,1025.41 L316.5,1025.81" fill="none" stroke="#000000" stroke-width="2.0" stroke-linejoin="round" stroke-linecap="round"/>
<path d="M403.28,1095.27 L404.67,1094.32 L406.07,1093.49 L407.47,1092.77 L408.88,1092.16 L410.29,1091.66 L411.72,1091.25 L413.15,1090.94 L414.58,1090.72 L416.03,1090.58 L417.47,1090.52 L418.93,1090.54 L420.38,1090.62 L421.84,1090.77 L423.31,1090.98 L424.78,1091.24 L426.26,1091.55 L427.73,1091.9 L429.22,1092.3 L430.7,1092.72 L432.19,1093.18 L433.68,1093.66 L435.17,1094.16 L436.66,1094.67 L438.16,1095.19 L439.65,1095.72 L441.15,1096.24 L442.65,1096.76 L444.15,1097.26 L445.65,1097.75 L447.15,1098.22 L448.65,1098.68 L450.15,1099.11 L451.65,1099.53 L453.15,1099.94 L454.65,1100.33 L456.15,1100.7 L457.65,1101.07 L459.15,1101.42 L460.65,1101.76 L462.15,1102.09 L463.66,1102.42 L465.16,1102.73 L466.66,1103.04 L468.17,1103.34 L469.67,1103.63 L471.18,1103.92 L472.68,1104.21 L474.19,1104.5 L475.7,1104.78 L477.21,1105.06 L478.72,1105.34 L480.23,1105.62 L481.74,1105.9 L483.25,1106.18 L484.76,1106.47 L486.28,1106.76 L487.79,1107.06 L489.31,1107.36 L490.82,1107.67 L492.34,1107.99 L493.86,1108.32 L495.38,1108.65 L496.9,1109" fill="none" stroke="#000000" stroke-width="2.0" stroke-linejoin="round" stroke-linecap="round"/>
<path d="M239.99,1199.19 L241.68,1199.36 L243.31,1199.42 L244.9,1199.39 L246.45,1199.26 L247.95,1199.05 L249.42,1198.76 L250.85,1198.39 L252.25,1197.95 L253.62,1197.45 L254.96,1196.88 L256.28,1196.26 L257.58,1195.59 L258.87,1194.88 L260.14,1194.13 L261.39,1193.34 L262.64,1192.53 L263.89,1191.7 L265.13,1190.85 L266.37,1189.99 L267.62,1189.12 L268.87,1188.25 L270.13,1187.39 L271.4,1186.53 L272.69,1185.7 L273.99,1184.88 L275.31,1184.11 L276.64,1183.38 L277.98,1182.71 L279.33,1182.11 L280.69,1181.59 L282.07,1181.16 L283.44,1180.84 L284.83,1180.62 L286.22,1180.54 L287.61,1180.59 L289.01,1180.78 L290.41,1181.14 L291.81,1181.66 L293.21,1182.36 L294.61,1183.2 L296.01,1184.14 L297.4,1185.14 L298.78,1186.16 L300.14,1187.16 L301.5,1188.1 L302.84,1188.93 L304.16,1189.65 L305.48,1190.26 L306.8,1190.79 L308.13,1191.25 L309.47,1191.66 L310.84,1192.05 L312.24,1192.42 L313.67,1192.8 L315.14,1193.19 L316.63,1193.57 L318.14,1193.95 L319.67,1194.32 L321.2,1194.68 L322.74,1195.03 L324.27,1195.36 L325.8,1195.67 L327.3,1195.95 L328.79,1196.2 L330.25,1196.42 L331.69,1196.62 L333.11,1196.78 L334.52,1196.93 L335.93,1197.05 L337.33,1197.16 L338.74,1197.25 L340.16,1197.33 L341.6,1197.4 L343.05,1197.47 L344.53,1197.53 L346.04,1197.6 L347.59,1197.66 L349.16,1197.73 L350.76,1197.78 L352.37,1197.82 L354,1197.85 L355.63,1197.85 L357.26,1197.83 L358.89,1197.77 L360.5,1197.68 L362.1,1197.55 L363.68,1197.38 L365.22,1197.15 L366.73,1196.87 L368.2,1196.54 L369.63,1196.13 L371,1195.66 L372.32,1195.11 L373.57,1194.49 L374.76,1193.78 L375.87,1192.99 L376.91,1192.11 L377.88,1191.16 L378.78,1190.12 L379.62,1189.02 L380.4,1187.86 L381.12,1186.64 L381.79,1185.36 L382.42,1184.03 L383,1182.67 L383.53,1181.26 L384.03,1179.83 L384.5,1178.36 L384.93,1176.87 L385.34,1175.37 L385.73,1173.86 L386.09,1172.34 L386.44,1170.82 L386.77,1169.3 L387.09,1167.78 L387.39,1166.27 L387.69,1164.76 L387.97,1163.25 L388.24,1161.74 L388.49,1160.23 L388.74,1158.73 L388.97,1157.23 L389.2,1155.73 L389.41,1154.23 L389.62,1152.73 L389.81,1151.23 L390,1149.74 L390.18,1148.24 L390.35,1146.75 L390.51,1145.26 L390.67,1143.77 L390.82,1142.27 L390.96,1140.78 L391.1,1139.29 L391.23,1137.8 L391.36,1136.31 L391.48,1134.82 L391.6,1133.34 L391.72,1131.85 L391.83,1130.36 L391.94,1128.87 L392.05,1127.38 L392.15,1125.89 L392.25,1124.39 L392.36,1122.9 L392.46,1121.41 L392.56,1119.92 L392.66,1118.42 L392.76,1116.93 L392.85,1115.43 L392.95,1113.94 L393.04,1112.44 L393.14,1110.94 L393.23,1109.45 L393.32,1107.95 L393.42,1106.45 L393.51,1104.95 L393.6,1103.45 L393.69,1101.95 L393.77,1100.45 L393.86,1098.95 L393.95,1097.45 L394.03,1095.95 L394.12,1094.45 L394.2,1092.95 L394.29,1091.45 L394.37,1089.94 L394.45,1088.44 L394.54,1086.94 L394.62,1085.44 L394.7,1083.93 L394.78,1082.43 L394.86,1080.92 L394.94,1079.42 L395.02,1077.92 L395.1,1076.41 L395.18,1074.91 L395.25,1073.4 L395.33,1071.9 L395.41,1070.39 L395.49,1068.89 L395.56,1067.38 L395.64,1065.87 L395.72,1064.37 L395.79,1062.86 L395.87,1061.36 L395.94,1059.85 L396.02,1058.35 L396.09,1056.84 L396.17,1055.34 L396.24,1053.83 L396.32,1052.32 L396.39,1050.82 L396.47,1049.31 L396.54,1047.81 L396.62,1046.3 L396.69,1044.8 L396.77,1043.3 L396.84,1041.79 L396.92,1040.29 L396.99,1038.78 L397.07,1037.28 L397.14,1035.78 L397.22,1034.27 L397.3,1032.77 L397.37,1031.27 L397.45,1029.76 L397.53,1028.26 L397.6,1026.76 L397.68,1025.26 L397.76,1023.76 L397.84,1022.26 L397.92,1020.76 L397.99,1019.26 L398.07,1017.76 L398.16,1016.26 L398.24,1014.76 L398.32,1013.26 L398.4,1011.76 L398.49,1010.26 L398.57,1008.76 L398.66,1007.27 L398.74,1005.77 L398.83,1004.27 L398.92,1002.77 L399.02,1001.28 L399.11,999.78 L399.2,998.28 L399.3,996.78 L399.4,995.28 L399.5,993.79 L399.6,992.29 L399.71,990.79 L399.81,989.29 L399.92,987.79 L400.03,986.3 L400.15,984.8 L400.26,983.3 L400.38,981.8 L400.5,980.3 L400.62,978.8 L400.75,977.3 L400.87,975.8 L401,974.29 L401.13,972.79 L401.25,971.29 L401.37,969.79 L401.5,968.28 L401.62,966.78 L401.73,965.27 L401.85,963.76 L401.96,962.25 L402.07,960.74 L402.17,959.23 L402.28,957.73 L402.39,956.22 L402.5,954.72 L402.61,953.21 L402.73,951.72 L402.85,950.22 L402.97,948.73 L403.1,947.25 L403.25,945.77 L403.39,944.3 L403.55,942.83 L403.72,941.38 L403.9,939.92 L404.08,938.46 L404.26,936.99 L404.43,935.49 L404.58,933.96 L404.75,932.39 L404.98,930.8 L405.3,929.19 L405.76,927.57 L406.4,925.93 L407.21,924.35 L408.16,922.98 L409.16,922.01 L410.16,921.61 L411.09,921.91 L411.96,922.79 L412.79,924.02 L413.57,925.38 L414.34,926.75 L415.08,928.11 L415.8,929.48 L416.49,930.86 L417.17,932.23 L417.83,933.61 L418.47,934.99 L419.09,936.37 L419.7,937.75 L420.28,939.14 L420.86,940.53 L421.42,941.92 L421.96,943.32 L422.5,944.72 L423.02,946.12 L423.53,947.52 L424.03,948.93 L424.53,950.34 L425.01,951.76 L425.49,953.17 L425.96,954.59 L426.43,956.02 L426.89,957.45 L427.34,958.88 L427.79,960.31 L428.23,961.75 L428.67,963.19 L429.1,964.63 L429.53,966.07 L429.95,967.52 L430.37,968.97 L430.79,970.42 L431.2,971.88 L431.61,973.33 L432.01,974.79 L432.41,976.25 L432.81,977.71 L433.2,979.17 L433.59,980.63 L433.98,982.09 L434.37,983.56 L434.75,985.02 L435.14,986.49 L435.52,987.96 L435.9,989.42 L436.27,990.89 L436.65,992.36 L437.02,993.83 L437.4,995.29 L437.77,996.76 L438.15,998.23 L438.52,999.7 L438.89,1001.16 L439.26,1002.63 L439.64,1004.09 L440.01,1005.56 L440.38,1007.02 L440.76,1008.48 L441.14,1009.94 L441.51,1011.4 L441.89,1012.86 L442.27,1014.31 L442.65,1015.77 L443.04,1017.22 L443.42,1018.67 L443.81,1020.12 L444.2,1021.57 L444.59,1023.02 L444.98,1024.46 L445.37,1025.91 L445.77,1027.35 L446.16,1028.79 L446.56,1030.23 L446.96,1031.67 L447.36,1033.11 L447.77,1034.54 L448.17,1035.98 L448.58,1037.42 L448.99,1038.85 L449.4,1040.28 L449.81,1041.71 L450.23,1043.15 L450.65,1044.58 L451.07,1046.01 L451.49,1047.43 L451.91,1048.86 L452.34,1050.29 L452.76,1051.72 L453.19,1053.14 L453.62,1054.57 L454.06,1055.99 L454.49,1057.42 L454.93,1058.84 L455.37,1060.27 L455.82,1061.69 L456.26,1063.11 L456.71,1064.53 L457.16,1065.96 L457.61,1067.38 L458.06,1068.8 L458.52,1070.22 L458.98,1071.65 L459.44,1073.07 L459.9,1074.49 L460.37,1075.91 L460.84,1077.33 L461.31,1078.75 L461.78,1080.18 L462.25,1081.6 L462.73,1083.02 L463.21,1084.44 L463.7,1085.87 L464.18,1087.29 L464.67,1088.71 L465.16,1090.14 L465.66,1091.56 L466.15,1092.99 L466.65,1094.41 L467.15,1095.84 L467.66,1097.26 L468.17,1098.69 L468.68,1100.12 L469.19,1101.55 L469.7,1102.98 L470.22,1104.41 L470.74,1105.84 L471.27,1107.27 L471.8,1108.7 L472.33,1110.13 L472.86,1111.56 L473.4,1112.99 L473.95,1114.42 L474.5,1115.85 L475.05,1117.27 L475.61,1118.7 L476.18,1120.12 L476.75,1121.54 L477.32,1122.95 L477.91,1124.36 L478.5,1125.77 L479.1,1127.17 L479.7,1128.57 L480.31,1129.97 L480.93,1131.36 L481.56,1132.74 L482.2,1134.12 L482.85,1135.5 L483.5,1136.86 L484.17,1138.22 L484.84,1139.58 L485.52,1140.92 L486.22,1142.26 L486.92,1143.59 L487.64,1144.91 L488.36,1146.22 L489.1,1147.53 L489.85,1148.82 L490.61,1150.11 L491.38,1151.39 L492.17,1152.65 L492.97,1153.91 L493.78,1155.15 L494.6,1156.38 L495.44,1157.61 L496.29,1158.82 L497.16,1160.01 L498.04,1161.2 L498.93,1162.37 L499.84,1163.53 L500.76,1164.68 L501.7,1165.81 L502.66,1166.93 L503.63,1168.03 L504.62,1169.12 L505.63,1170.19 L506.65,1171.25 L507.69,1172.29 L508.74,1173.32 L509.82,1174.33 L510.91,1175.33 L512.02,1176.3 L513.15,1177.26 L514.3,1178.2 L515.46,1179.13 L516.65,1180.03 L517.86,1180.92 L519.08,1181.79 L520.33,1182.64 L521.59,1183.46 L522.87,1184.27 L524.17,1185.05 L525.48,1185.81 L526.81,1186.55 L528.16,1187.26 L529.51,1187.95 L530.89,1188.61 L532.27,1189.24 L533.67,1189.85 L535.08,1190.42 L536.5,1190.97 L537.93,1191.49 L539.36,1191.98 L540.81,1192.44 L542.27,1192.86 L543.73,1193.25 L545.2,1193.61 L546.68,1193.93 L548.16,1194.21 L549.65,1194.47 L551.14,1194.68 L552.64,1194.87 L554.14,1195.02 L555.64,1195.16 L557.15,1195.27 L558.66,1195.35 L560.17,1195.43 L561.68,1195.48 L563.19,1195.53 L564.7,1195.57 L566.22,1195.6 L567.73,1195.63 L569.24,1195.66 L570.75,1195.69 L572.26,1195.73 L573.77,1195.78 L575.28,1195.84 L576.78,1195.91 L578.28,1195.98 L579.78,1196.07 L581.28,1196.15 L582.78,1196.25 L584.28,1196.35 L585.77,1196.45 L587.27,1196.55 L588.76,1196.65 L590.26,1196.76 L591.75,1196.86 L593.25,1196.96 L594.75,1197.05 L596.24,1197.14 L597.74,1197.22 L599.24,1197.3 L600.74,1197.37 L602.24,1197.43 L603.74,1197.48 L605.24,1197.51 L606.75,1197.54 L608.26,1197.55 L609.77,1197.55 L611.29,1197.52 L612.8,1197.49" fill="none" stroke="#0072B2" stroke-width="2.0" stroke-linejoin="round" stroke-linecap="round"/>
<path d="M271.5,1013.5 L273.02,1012.84 L274.56,1012.27 L276.12,1011.81 L277.69,1011.44 L279.27,1011.17 L280.86,1010.98 L282.46,1010.88 L284.06,1010.86 L285.66,1010.91 L287.27,1011.05 L288.86,1011.26 L290.46,1011.53 L292.04,1011.87 L293.62,1012.28 L295.18,1012.74 L296.73,1013.26 L298.26,1013.83 L299.77,1014.44 L301.26,1015.11 L302.73,1015.82 L304.17,1016.56 L305.58,1017.34 L306.96,1018.16 L308.3,1019" fill="none" stroke="#0072B2" stroke-width="2.0" stroke-linejoin="round" stroke-linecap="round"/>
<path d="M383.62,1109.23 L385.09,1108.98 L386.29,1108.41 L387.25,1107.54 L388.03,1106.44 L388.66,1105.16 L389.18,1103.73 L389.64,1102.22 L390.07,1100.67 L390.53,1099.12 L391.05,1097.64 L391.65,1096.25 L392.35,1094.96 L393.15,1093.77 L394.04,1092.69 L395.03,1091.74 L396.13,1090.9 L397.33,1090.2 L398.63,1089.62 L400.02,1089.16 L401.48,1088.82 L403,1088.57 L404.58,1088.43 L406.19,1088.37 L407.82,1088.38 L409.47,1088.47 L411.12,1088.63 L412.76,1088.83 L414.37,1089.09 L415.94,1089.38 L417.49,1089.7 L419,1090.06 L420.49,1090.44 L421.96,1090.84 L423.41,1091.26 L424.85,1091.7 L426.27,1092.14 L427.7,1092.59 L429.12,1093.04 L430.54,1093.48 L431.97,1093.92 L433.41,1094.35 L434.85,1094.78 L436.29,1095.2 L437.75,1095.61 L439.2,1096.02 L440.66,1096.42 L442.13,1096.82 L443.6,1097.21 L445.07,1097.59 L446.55,1097.97 L448.03,1098.34 L449.51,1098.71 L451,1099.08 L452.49,1099.44 L453.99,1099.8 L455.48,1100.15 L456.98,1100.5 L458.48,1100.84 L459.98,1101.19 L461.49,1101.53 L462.99,1101.86 L464.5,1102.19 L466.01,1102.52 L467.51,1102.85 L469.02,1103.18 L470.53,1103.5 L472.04,1103.82 L473.55,1104.14 L475.06,1104.46 L476.57,1104.78 L478.07,1105.1 L479.58,1105.41 L481.08,1105.73 L482.59,1106.04 L484.09,1106.35 L485.59,1106.67 L487.09,1106.98 L488.58,1107.3 L490.08,1107.61 L491.57,1107.92 L493.05,1108.24 L494.54,1108.56 L496.02,1108.87 L497.49,1109.19" fill="none" stroke="#0072B2" stroke-width="2.0" stroke-linejoin="round" stroke-linecap="round"/>
<path d="M119.4,1292.6 H613.3 V1631.3" fill="none" stroke="#000" stroke-width="2.8"/>
<path d="M119.4,1291.3 V1631.3" fill="none" stroke="#000" stroke-width="2.8"/>
<path d="M110.9,1621.3 H622.3" fill="none" stroke="#000" stroke-width="2.8"/>
<path d="M119.4,1621.3 V1631.3" stroke="#000" stroke-width="3.1"/>
<text x="119.4" y="1646.7" font-size="14" text-anchor="middle" font-weight="normal" font-style="normal">10</text>
<path d="M201.72,1621.3 V1631.3" stroke="#000" stroke-width="3.1"/>
<text x="201.72" y="1646.7" font-size="14" text-anchor="middle" font-weight="normal" font-style="normal">12</text>
<path d="M284.03,1621.3 V1631.3" stroke="#000" stroke-width="3.1"/>
<text x="284.03" y="1646.7" font-size="14" text-anchor="middle" font-weight="normal" font-style="normal">14</text>
<path d="M366.35,1621.3 V1631.3" stroke="#000" stroke-width="3.1"/>
<text x="366.35" y="1646.7" font-size="14" text-anchor="middle" font-weight="normal" font-style="normal">16</text>
<path d="M448.67,1621.3 V1631.3" stroke="#000" stroke-width="3.1"/>
<text x="448.67" y="1646.7" font-size="14" text-anchor="middle" font-weight="normal" font-style="normal">18</text>
<path d="M530.98,1621.3 V1631.3" stroke="#000" stroke-width="3.1"/>
<text x="530.98" y="1646.7" font-size="14" text-anchor="middle" font-weight="normal" font-style="normal">20</text>
<path d="M613.3,1621.3 V1631.3" stroke="#000" stroke-width="3.1"/>
<text x="613.3" y="1646.7" font-size="14" text-anchor="middle" font-weight="normal" font-style="normal">22</text>
<path d="M110.6,1621.3 H119.4" stroke="#000" stroke-width="3.2"/>
<text x="107.5" y="1626.1" font-size="14" text-anchor="end" font-weight="normal" font-style="normal">0.00</text>
<path d="M110.6,1511.73 H119.4" stroke="#000" stroke-width="3.2"/>
<text x="107.5" y="1516.53" font-size="14" text-anchor="end" font-weight="normal" font-style="normal">0.05</text>
<path d="M110.6,1402.17 H119.4" stroke="#000" stroke-width="3.2"/>
<text x="107.5" y="1406.97" font-size="14" text-anchor="end" font-weight="normal" font-style="normal">0.10</text>
<path d="M110.6,1292.6 H119.4" stroke="#000" stroke-width="3.2"/>
<text x="107.5" y="1297.4" font-size="14" text-anchor="end" font-weight="normal" font-style="normal">0.15</text>
<path d="M613.3,1621.3 H622.5" stroke="#000" stroke-width="3.2"/>
<text x="627.5" y="1626.1" font-size="14" text-anchor="start" font-weight="normal" font-style="normal">0</text>
<path d="M613.3,1555.56 H622.5" stroke="#000" stroke-width="3.2"/>
<text x="627.5" y="1560.36" font-size="14" text-anchor="start" font-weight="normal" font-style="normal">20</text>
<path d="M613.3,1489.82 H622.5" stroke="#000" stroke-width="3.2"/>
<text x="627.5" y="1494.62" font-size="14" text-anchor="start" font-weight="normal" font-style="normal">40</text>
<path d="M613.3,1424.08 H622.5" stroke="#000" stroke-width="3.2"/>
<text x="627.5" y="1428.88" font-size="14" text-anchor="start" font-weight="normal" font-style="normal">60</text>
<path d="M613.3,1358.34 H622.5" stroke="#000" stroke-width="3.2"/>
<text x="627.5" y="1363.14" font-size="14" text-anchor="start" font-weight="normal" font-style="normal">80</text>
<path d="M613.3,1292.6 H622.5" stroke="#000" stroke-width="3.2"/>
<text x="627.5" y="1297.4" font-size="14" text-anchor="start" font-weight="normal" font-style="normal">100</text>
<text x="0" y="1277.9" font-size="21" text-anchor="start" font-weight="bold" font-style="normal">D)</text>
<text transform="translate(39.7,1432.4) rotate(-90)" font-size="17" font-weight="bold" text-anchor="middle" textLength="179.4" lengthAdjust="spacingAndGlyphs">Refractive index (a.u.)</text>
<text transform="translate(652.8,1442.4) rotate(90)" font-size="17" font-weight="bold" text-anchor="middle" textLength="177.8" lengthAdjust="spacingAndGlyphs">Molecular weight (kD)</text>
<text x="365.85" y="1673.5" font-size="17" text-anchor="middle" font-weight="bold" font-style="normal" textLength="145.2" lengthAdjust="spacingAndGlyphs">Elution time (min)</text>
<path d="M125.1,1437.5 H611.8" stroke="#000" stroke-width="2.4" stroke-linecap="round" stroke-dasharray="0.01 6.29"/>
<path d="M125.1,1529.9 H611.8" stroke="#000" stroke-width="2.4" stroke-linecap="round" stroke-dasharray="0.01 6.29"/>
<text x="607.5" y="1427.5" font-size="14" text-anchor="end" font-weight="normal" font-style="italic" textLength="74.8" lengthAdjust="spacingAndGlyphs" fill="#111">GRB2 dimer</text>
<text x="606.8" y="1515.8" font-size="14.6" text-anchor="end" font-weight="normal" font-style="italic" textLength="103.3" lengthAdjust="spacingAndGlyphs" fill="#111">GRB2 monomer</text>
<path d="M133.7,1315.3 H151.7" stroke="#000000" stroke-width="2.7" stroke-linecap="round"/>
<text x="158" y="1319.9" font-size="13.6" text-anchor="start" font-weight="normal" font-style="normal">WT dimer</text>
<path d="M133.7,1337.1 H151.7" stroke="#E69F00" stroke-width="2.7" stroke-linecap="round"/>
<text x="158" y="1341.7" font-size="13.6" text-anchor="start" font-weight="normal" font-style="normal">N188D/N214D dimer</text>
<path d="M133.7,1358.9 H151.7" stroke="#0072B2" stroke-width="2.7" stroke-linecap="round"/>
<text x="158" y="1363.5" font-size="13.6" text-anchor="start" font-weight="normal" font-style="normal">V122P/V123P dimer</text>
<path d="M155.6,1621 L157.17,1621 L158.73,1621 L160.3,1621 L161.86,1621 L163.43,1621 L164.99,1621 L166.56,1621 L168.13,1621 L169.69,1621 L171.26,1621 L172.82,1621 L174.39,1621 L175.96,1621 L177.52,1621 L179.09,1621 L180.65,1621 L182.22,1621 L183.78,1621 L185.35,1621 L186.92,1621 L188.48,1621 L190.05,1621 L191.61,1621 L193.18,1621 L194.74,1621 L196.31,1621 L197.88,1621 L199.44,1621 L201.01,1621 L202.57,1621 L204.14,1621 L205.71,1621 L207.27,1621 L208.84,1621 L210.4,1621 L211.97,1621 L213.53,1621 L215.1,1621" fill="none" stroke="#0072B2" stroke-width="2.0" stroke-linejoin="round" stroke-linecap="round"/>
<path d="M222.1,1621.1 L223.55,1620.71 L225.01,1620.34 L226.48,1620 L227.95,1619.68 L229.43,1619.38 L230.91,1619.09 L232.39,1618.8 L233.88,1618.53 L235.36,1618.26 L236.85,1617.99 L238.33,1617.72 L239.81,1617.44 L241.29,1617.15 L242.77,1616.85 L244.24,1616.54 L245.7,1616.2 L247.16,1615.85 L248.61,1615.46 L250.06,1615.05 L251.49,1614.61 L252.91,1614.13 L254.33,1613.62 L255.73,1613.06 L257.11,1612.46 L258.49,1611.82 L259.85,1611.14 L261.21,1610.45 L262.56,1609.74 L263.91,1609.02 L265.26,1608.31 L266.62,1607.6 L267.97,1606.92 L269.33,1606.27 L270.7,1605.66 L272.08,1605.09 L273.47,1604.58 L274.88,1604.13 L276.3,1603.75 L277.74,1603.41 L279.19,1603.12 L280.66,1602.87 L282.13,1602.65 L283.62,1602.45 L285.12,1602.26 L286.62,1602.08 L288.14,1601.89 L289.67,1601.7 L291.2,1601.49 L292.74,1601.25 L294.27,1600.98 L295.79,1600.65 L297.27,1600.27 L298.72,1599.82 L300.11,1599.29 L301.43,1598.66 L302.67,1597.93 L303.82,1597.08 L304.88,1596.11 L305.84,1595.03 L306.71,1593.85 L307.51,1592.59 L308.23,1591.25 L308.89,1589.84 L309.49,1588.39 L310.04,1586.9 L310.55,1585.38 L311.02,1583.85 L311.46,1582.31 L311.88,1580.79 L312.29,1579.28 L312.69,1577.81 L313.08,1576.37 L313.46,1574.95 L313.84,1573.55 L314.22,1572.16 L314.59,1570.79 L314.96,1569.42 L315.33,1568.06 L315.7,1566.69 L316.07,1565.32 L316.44,1563.93 L316.81,1562.52 L317.19,1561.1 L317.57,1559.65 L317.95,1558.16 L318.34,1556.65 L318.73,1555.09 L319.13,1553.49 L319.55,1551.84 L319.97,1550.17 L320.42,1548.49 L320.91,1546.82 L321.43,1545.18 L322,1543.6 L322.62,1542.09 L323.31,1540.67 L324.07,1539.38 L324.91,1538.21 L325.84,1537.21 L326.86,1536.38 L327.99,1535.75 L329.19,1535.33 L330.46,1535.12 L331.75,1535.15 L333.06,1535.41 L334.35,1535.93 L335.61,1536.7 L336.81,1537.72 L337.96,1538.91 L339.06,1540.22 L340.1,1541.59 L341.09,1542.97 L342.03,1544.33 L342.93,1545.66 L343.79,1546.98 L344.62,1548.29 L345.44,1549.59 L346.23,1550.88 L347.02,1552.16 L347.8,1553.44 L348.59,1554.71 L349.38,1555.98 L350.18,1557.23 L351,1558.48 L351.82,1559.71 L352.67,1560.93 L353.54,1562.13 L354.44,1563.31 L355.37,1564.47 L356.32,1565.61 L357.3,1566.73 L358.3,1567.83 L359.33,1568.91 L360.38,1569.97 L361.45,1571.01 L362.55,1572.03 L363.67,1573.03 L364.81,1574.01 L365.97,1574.96 L367.15,1575.9 L368.35,1576.81 L369.56,1577.7 L370.8,1578.57 L372.05,1579.43 L373.31,1580.25 L374.6,1581.06 L375.89,1581.85 L377.2,1582.61 L378.52,1583.35 L379.86,1584.07 L381.21,1584.77 L382.56,1585.45 L383.93,1586.1 L385.31,1586.74 L386.69,1587.35 L388.09,1587.94 L389.49,1588.5 L390.89,1589.04 L392.3,1589.56 L393.72,1590.06 L395.14,1590.54 L396.57,1591 L398,1591.45 L399.44,1591.87 L400.87,1592.29 L402.31,1592.69 L403.76,1593.09 L405.2,1593.47 L406.65,1593.85 L408.09,1594.23 L409.54,1594.6 L410.99,1594.97 L412.44,1595.34 L413.89,1595.72 L415.34,1596.09 L416.79,1596.48 L418.23,1596.87 L419.68,1597.26 L421.12,1597.67 L422.57,1598.08 L424.01,1598.49 L425.45,1598.91 L426.89,1599.34 L428.33,1599.78 L429.76,1600.22 L431.2,1600.67 L432.64,1601.12 L434.07,1601.58 L435.5,1602.05 L436.94,1602.53 L438.37,1603.01 L439.8,1603.49 L441.23,1603.99 L442.65,1604.49 L444.08,1604.99 L445.51,1605.5 L446.93,1606.02 L448.36,1606.55 L449.78,1607.06 L451.21,1607.55 L452.64,1607.99 L454.07,1608.38 L455.51,1608.68 L456.95,1608.88 L458.41,1608.97 L459.87,1608.93 L461.35,1608.73 L462.84,1608.39 L464.33,1607.92 L465.83,1607.36 L467.34,1606.73 L468.85,1606.07 L470.35,1605.4 L471.85,1604.75 L473.34,1604.15 L474.83,1603.62 L476.3,1603.2 L477.76,1602.92 L479.2,1602.78 L480.63,1602.77 L482.04,1602.89 L483.45,1603.11 L484.84,1603.44 L486.23,1603.86 L487.61,1604.35 L488.98,1604.91 L490.35,1605.52 L491.72,1606.17 L493.08,1606.86 L494.45,1607.57 L495.82,1608.29 L497.19,1609 L498.56,1609.71 L499.95,1610.38 L501.33,1611.03 L502.73,1611.65 L504.13,1612.23 L505.53,1612.79 L506.95,1613.32 L508.36,1613.83 L509.79,1614.3 L511.21,1614.76 L512.65,1615.18 L514.09,1615.58 L515.53,1615.96 L516.98,1616.32 L518.43,1616.65 L519.89,1616.96 L521.35,1617.26 L522.82,1617.53 L524.28,1617.78 L525.76,1618.01 L527.23,1618.23 L528.71,1618.43 L530.2,1618.61 L531.68,1618.78 L533.17,1618.93 L534.66,1619.07 L536.16,1619.19 L537.65,1619.3 L539.15,1619.4 L540.65,1619.49 L542.15,1619.57 L543.66,1619.64 L545.16,1619.7 L546.67,1619.75 L548.18,1619.79 L549.68,1619.83 L551.19,1619.86 L552.7,1619.89 L554.21,1619.91 L555.73,1619.92 L557.24,1619.93 L558.75,1619.95 L560.26,1619.95 L561.77,1619.96 L563.28,1619.97 L564.79,1619.97 L566.3,1619.98 L567.81,1619.98 L569.32,1619.98 L570.83,1619.99 L572.33,1619.99 L573.84,1619.99 L575.35,1619.99 L576.86,1619.99 L578.37,1619.99 L579.87,1619.99 L581.38,1619.99 L582.89,1619.99 L584.39,1619.99 L585.9,1619.99 L587.41,1619.99 L588.91,1619.99 L590.42,1619.99 L591.92,1619.99 L593.43,1620 L594.94,1620 L596.44,1620 L597.95,1620.01 L599.45,1620.01 L600.96,1620.02 L602.47,1620.03 L603.97,1620.04 L605.48,1620.05 L606.98,1620.06 L608.49,1620.07 L609.99,1620.09 L611.5,1620.1" fill="none" stroke="#0072B2" stroke-width="2.0" stroke-linejoin="round" stroke-linecap="round"/>
<path d="M314.27,1409.73 L315.02,1410.81 L315.97,1411.73 L317.08,1412.53 L318.32,1413.25 L319.64,1413.92 L321.02,1414.57 L322.44,1415.21 L323.87,1415.86 L325.31,1416.54 L326.73,1417.25 L328.1,1418.03 L329.41,1418.87 L330.65,1419.8 L331.81,1420.8 L332.9,1421.88 L333.94,1423.02 L334.93,1424.2 L335.88,1425.44 L336.79,1426.7 L337.69,1428 L338.57,1429.3 L339.44,1430.62 L340.31,1431.93 L341.2,1433.23 L342.1,1434.51 L343.03,1435.76 L344,1436.98 L345.01,1438.14 L346.08,1439.25 L347.2,1440.3" fill="none" stroke="#0072B2" stroke-width="2.0" stroke-linejoin="round" stroke-linecap="round"/>
<path d="M451.4,1536.8 L452.86,1536.22 L454.32,1535.66 L455.79,1535.12 L457.28,1534.6 L458.77,1534.1 L460.27,1533.63 L461.77,1533.18 L463.29,1532.75 L464.81,1532.34 L466.34,1531.96 L467.87,1531.6 L469.41,1531.26 L470.96,1530.95 L472.5,1530.66 L474.06,1530.4 L475.61,1530.16 L477.18,1529.94 L478.74,1529.76 L480.3,1529.59 L481.87,1529.45 L483.44,1529.34 L485.01,1529.26 L486.58,1529.2 L488.16,1529.16 L489.73,1529.16 L491.3,1529.18 L492.87,1529.22 L494.44,1529.3 L496,1529.4 L497.57,1529.53 L499.13,1529.69 L500.69,1529.88 L502.24,1530.1 L503.8,1530.34 L505.34,1530.62 L506.88,1530.92 L508.42,1531.26 L509.95,1531.62 L511.47,1532.02 L512.99,1532.44 L514.5,1532.9" fill="none" stroke="#0072B2" stroke-width="2.0" stroke-linejoin="round" stroke-linecap="round"/>
<path d="M119.5,1621 L120.38,1621 L121.26,1621 L122.14,1621 L123.02,1621 L123.89,1621 L124.77,1621 L125.65,1621 L126.53,1621 L127.41,1621 L128.29,1621 L129.17,1621 L130.05,1621 L130.93,1621 L131.81,1621 L132.68,1621 L133.56,1621 L134.44,1621 L135.32,1621 L136.2,1621" fill="none" stroke="#E69F00" stroke-width="2.0" stroke-linejoin="round" stroke-linecap="round"/>
<path d="M228,1621.4 L229.44,1621.41 L230.9,1621.43 L232.37,1621.46 L233.87,1621.47 L235.38,1621.49 L236.9,1621.49 L238.43,1621.49 L239.96,1621.47 L241.5,1621.43 L243.04,1621.36 L244.58,1621.28 L246.12,1621.16 L247.65,1621.01 L249.16,1620.83 L250.67,1620.6 L252.16,1620.34 L253.63,1620.03 L255.08,1619.67 L256.5,1619.25 L257.9,1618.79 L259.27,1618.26 L260.61,1617.67 L261.92,1617.01 L263.19,1616.29 L264.44,1615.53 L265.68,1614.74 L266.92,1613.94 L268.17,1613.14 L269.44,1612.37 L270.75,1611.64 L272.09,1610.97 L273.49,1610.37 L274.96,1609.87 L276.49,1609.47 L278.09,1609.16 L279.71,1608.9 L281.33,1608.66 L282.93,1608.4 L284.47,1608.1 L285.94,1607.7 L287.29,1607.19 L288.53,1606.55 L289.66,1605.79 L290.68,1604.92 L291.6,1603.94 L292.43,1602.86 L293.18,1601.7 L293.84,1600.46 L294.43,1599.16 L294.96,1597.79 L295.42,1596.36 L295.82,1594.9 L296.18,1593.39 L296.5,1591.86 L296.77,1590.31 L297.02,1588.75 L297.24,1587.19 L297.45,1585.64 L297.63,1584.09 L297.81,1582.55 L297.97,1581.03 L298.12,1579.5 L298.25,1577.99 L298.38,1576.48 L298.5,1574.98 L298.6,1573.48 L298.71,1571.98 L298.8,1570.49 L298.89,1569 L298.98,1567.51 L299.06,1566.02 L299.14,1564.53 L299.22,1563.05 L299.3,1561.56 L299.38,1560.07 L299.45,1558.58 L299.53,1557.09 L299.61,1555.6 L299.68,1554.1 L299.76,1552.61 L299.83,1551.12 L299.91,1549.62 L299.98,1548.13 L300.06,1546.63 L300.13,1545.14 L300.2,1543.64 L300.28,1542.15 L300.35,1540.65 L300.42,1539.15 L300.49,1537.65 L300.56,1536.15 L300.63,1534.65 L300.7,1533.15 L300.77,1531.65 L300.84,1530.15 L300.91,1528.65 L300.98,1527.15 L301.05,1525.65 L301.12,1524.15 L301.18,1522.64 L301.25,1521.14 L301.32,1519.64 L301.39,1518.13 L301.45,1516.63 L301.52,1515.13 L301.59,1513.62 L301.65,1512.12 L301.72,1510.61 L301.78,1509.11 L301.85,1507.6 L301.92,1506.1 L301.98,1504.59 L302.05,1503.09 L302.11,1501.58 L302.18,1500.07 L302.24,1498.57 L302.31,1497.06 L302.37,1495.56 L302.44,1494.05 L302.5,1492.54 L302.57,1491.04 L302.63,1489.53 L302.7,1488.03 L302.76,1486.52 L302.83,1485.02 L302.89,1483.51 L302.96,1482 L303.02,1480.5 L303.09,1478.99 L303.15,1477.49 L303.22,1475.98 L303.28,1474.48 L303.35,1472.98 L303.41,1471.47 L303.48,1469.97 L303.54,1468.46 L303.61,1466.96 L303.67,1465.46 L303.74,1463.95 L303.81,1462.45 L303.87,1460.95 L303.94,1459.45 L304.01,1457.95 L304.07,1456.45 L304.14,1454.94 L304.21,1453.44 L304.28,1451.94 L304.34,1450.44 L304.41,1448.95 L304.48,1447.45 L304.55,1445.95 L304.62,1444.45 L304.69,1442.95 L304.76,1441.45 L304.83,1439.95 L304.91,1438.45 L304.98,1436.96 L305.05,1435.46 L305.13,1433.96 L305.2,1432.46 L305.28,1430.96 L305.35,1429.46 L305.43,1427.96 L305.51,1426.47 L305.59,1424.97 L305.67,1423.47 L305.75,1421.97 L305.83,1420.47 L305.91,1418.97 L305.99,1417.47 L306.08,1415.96 L306.17,1414.46 L306.25,1412.96 L306.34,1411.46 L306.43,1409.95 L306.52,1408.45 L306.61,1406.95 L306.71,1405.44 L306.8,1403.94 L306.9,1402.43 L307,1400.92 L307.09,1399.41 L307.19,1397.91 L307.3,1396.4 L307.4,1394.89 L307.51,1393.38 L307.61,1391.87 L307.72,1390.37 L307.83,1388.86 L307.95,1387.36 L308.06,1385.85 L308.18,1384.35 L308.3,1382.86 L308.43,1381.36 L308.55,1379.87 L308.68,1378.38 L308.82,1376.9 L308.95,1375.42 L309.09,1373.95 L309.23,1372.48 L309.37,1371.01 L309.5,1369.54 L309.64,1368.08 L309.76,1366.61 L309.88,1365.15 L309.99,1363.68 L310.08,1362.21 L310.18,1360.72 L310.29,1359.17 L310.42,1357.53 L310.61,1355.77 L310.84,1353.9 L311.14,1352.01 L311.5,1350.18 L311.92,1348.49 L312.42,1347.02 L312.99,1345.85 L313.63,1345.08 L314.36,1344.78 L315.15,1345 L315.98,1345.66 L316.77,1346.65 L317.47,1347.88 L318.08,1349.27 L318.6,1350.8 L319.05,1352.44 L319.44,1354.15 L319.78,1355.9 L320.1,1357.65 L320.39,1359.38 L320.67,1361.08 L320.94,1362.73 L321.2,1364.35 L321.45,1365.94 L321.69,1367.51 L321.92,1369.04 L322.14,1370.56 L322.36,1372.05 L322.57,1373.53 L322.78,1375 L322.98,1376.45 L323.18,1377.9 L323.38,1379.35 L323.57,1380.79 L323.76,1382.24 L323.96,1383.69 L324.15,1385.14 L324.34,1386.6 L324.53,1388.06 L324.71,1389.53 L324.9,1391 L325.09,1392.47 L325.28,1393.94 L325.47,1395.42 L325.66,1396.89 L325.86,1398.38 L326.05,1399.86 L326.24,1401.34 L326.44,1402.83 L326.63,1404.32 L326.83,1405.81 L327.03,1407.3 L327.24,1408.8 L327.44,1410.29 L327.65,1411.78 L327.86,1413.28 L328.07,1414.78 L328.29,1416.27 L328.5,1417.77 L328.73,1419.27 L328.95,1420.76 L329.18,1422.26 L329.41,1423.75 L329.65,1425.25 L329.89,1426.75 L330.14,1428.24 L330.39,1429.73 L330.64,1431.22 L330.9,1432.71 L331.17,1434.2 L331.44,1435.69 L331.72,1437.17 L332,1438.66 L332.28,1440.14 L332.58,1441.62 L332.87,1443.1 L333.17,1444.57 L333.48,1446.05 L333.79,1447.52 L334.1,1448.99 L334.41,1450.46 L334.73,1451.93 L335.05,1453.4 L335.38,1454.87 L335.7,1456.34 L336.03,1457.8 L336.36,1459.27 L336.69,1460.73 L337.03,1462.2 L337.36,1463.66 L337.7,1465.12 L338.03,1466.59 L338.37,1468.05 L338.7,1469.51 L339.04,1470.97 L339.37,1472.43 L339.7,1473.9 L340.04,1475.36 L340.37,1476.82 L340.7,1478.28 L341.02,1479.75 L341.35,1481.21 L341.67,1482.67 L341.99,1484.14 L342.31,1485.61 L342.62,1487.07 L342.93,1488.54 L343.23,1490.01 L343.54,1491.48 L343.83,1492.95 L344.13,1494.42 L344.42,1495.89 L344.7,1497.37 L344.98,1498.84 L345.25,1500.32 L345.52,1501.8 L345.79,1503.27 L346.06,1504.75 L346.32,1506.23 L346.58,1507.72 L346.84,1509.2 L347.09,1510.68 L347.35,1512.16 L347.6,1513.65 L347.86,1515.13 L348.11,1516.61 L348.36,1518.1 L348.62,1519.58 L348.87,1521.07 L349.12,1522.55 L349.38,1524.03 L349.64,1525.52 L349.9,1527 L350.16,1528.48 L350.43,1529.97 L350.7,1531.45 L350.97,1532.93 L351.25,1534.41 L351.53,1535.89 L351.81,1537.37 L352.1,1538.85 L352.4,1540.33 L352.7,1541.8 L353,1543.28 L353.32,1544.75 L353.64,1546.22 L353.96,1547.69 L354.3,1549.16 L354.64,1550.63 L354.99,1552.09 L355.35,1553.55 L355.72,1555.01 L356.11,1556.46 L356.5,1557.91 L356.9,1559.36 L357.31,1560.8 L357.74,1562.24 L358.18,1563.68 L358.63,1565.11 L359.1,1566.54 L359.58,1567.96 L360.07,1569.38 L360.58,1570.79 L361.11,1572.2 L361.65,1573.6 L362.21,1574.99 L362.78,1576.38 L363.37,1577.76 L363.98,1579.14 L364.61,1580.51 L365.25,1581.87 L365.92,1583.23 L366.61,1584.58 L367.31,1585.92 L368.04,1587.25 L368.79,1588.57 L369.55,1589.89 L370.35,1591.19 L371.16,1592.48 L372,1593.75 L372.85,1595.01 L373.74,1596.24 L374.64,1597.45 L375.57,1598.64 L376.53,1599.8 L377.51,1600.93 L378.51,1602.03 L379.54,1603.1 L380.6,1604.13 L381.68,1605.13 L382.79,1606.09 L383.93,1607.01 L385.1,1607.88 L386.29,1608.71 L387.51,1609.49 L388.76,1610.23 L390.04,1610.91 L391.35,1611.54 L392.68,1612.11 L394.05,1612.63 L395.45,1613.09 L396.88,1613.48 L398.34,1613.82 L399.83,1614.09 L401.34,1614.31 L402.88,1614.48 L404.43,1614.61 L406,1614.71 L407.57,1614.78 L409.16,1614.82 L410.74,1614.85 L412.33,1614.87 L413.9,1614.88 L415.47,1614.89 L417.03,1614.92 L418.57,1614.95 L420.1,1615 L421.61,1615.05 L423.11,1615.11 L424.59,1615.17 L426.07,1615.22 L427.54,1615.27 L429,1615.3 L430.46,1615.31 L431.92,1615.3 L433.37,1615.27 L434.82,1615.2 L436.28,1615.1 L437.74,1614.96 L439.2,1614.78 L440.67,1614.55 L442.15,1614.27 L443.63,1613.93 L445.13,1613.54 L446.62,1613.07 L448.09,1612.54 L449.51,1611.94 L450.86,1611.26 L452.14,1610.5 L453.31,1609.65 L454.36,1608.72 L455.27,1607.69 L456.08,1606.58 L456.8,1605.39 L457.47,1604.14 L458.1,1602.84 L458.75,1601.5 L459.41,1600.12 L460.14,1598.72 L460.95,1597.31 L461.85,1595.89 L462.84,1594.5 L463.89,1593.14 L465.01,1591.83 L466.18,1590.59 L467.39,1589.43 L468.65,1588.38 L469.93,1587.43 L471.22,1586.62 L472.53,1585.96 L473.84,1585.46 L475.14,1585.14 L476.42,1585.01 L477.67,1585.1 L478.9,1585.4 L480.1,1585.88 L481.28,1586.52 L482.44,1587.31 L483.58,1588.22 L484.7,1589.23 L485.81,1590.33 L486.91,1591.49 L488,1592.69 L489.08,1593.92 L490.17,1595.14 L491.25,1596.35 L492.33,1597.54 L493.41,1598.72 L494.49,1599.87 L495.58,1601 L496.67,1602.1 L497.77,1603.18 L498.87,1604.24 L499.98,1605.27 L501.1,1606.27 L502.23,1607.24 L503.38,1608.18 L504.53,1609.09 L505.69,1609.96 L506.88,1610.8 L508.07,1611.6 L509.28,1612.37 L510.51,1613.1 L511.76,1613.79 L513.03,1614.44 L514.32,1615.04 L515.63,1615.61 L516.96,1616.13 L518.31,1616.62 L519.67,1617.06 L521.06,1617.47 L522.46,1617.85 L523.88,1618.19 L525.32,1618.5 L526.77,1618.78 L528.23,1619.03 L529.7,1619.25 L531.19,1619.45 L532.68,1619.62 L534.19,1619.78 L535.7,1619.91 L537.23,1620.02 L538.76,1620.11 L540.29,1620.19 L541.83,1620.25 L543.38,1620.3 L544.93,1620.33 L546.48,1620.36 L548.04,1620.38 L549.59,1620.39 L551.15,1620.39 L552.7,1620.39 L554.25,1620.39 L555.8,1620.39 L557.35,1620.39 L558.89,1620.39 L560.42,1620.39 L561.95,1620.4 L563.47,1620.42 L564.99,1620.44 L566.5,1620.47 L568,1620.51 L569.49,1620.55 L570.98,1620.6 L572.47,1620.65 L573.95,1620.71 L575.42,1620.76 L576.9,1620.83 L578.37,1620.89 L579.84,1620.95 L581.3,1621.02 L582.77,1621.08 L584.24,1621.15 L585.7,1621.21 L587.17,1621.27 L588.64,1621.32 L590.11,1621.38 L591.58,1621.43 L593.06,1621.47 L594.54,1621.51 L596.03,1621.54 L597.52,1621.56 L599.01,1621.58 L600.51,1621.59 L602.02,1621.59 L603.54,1621.58 L605.06,1621.56 L606.59,1621.53 L608.13,1621.49 L609.68,1621.43 L611.24,1621.36 L612.81,1621.28" fill="none" stroke="#E69F00" stroke-width="2.0" stroke-linejoin="round" stroke-linecap="round"/>
<path d="M292.6,1381.5 L292.79,1383.11 L293,1384.67 L293.24,1386.18 L293.5,1387.65 L293.76,1389.1 L294.02,1390.54 L294.28,1391.99 L294.51,1393.45 L294.73,1394.94 L294.92,1396.45 L295.1,1398 L295.27,1399.58 L295.44,1401.17 L295.62,1402.78 L295.81,1404.4 L296.03,1406.03 L296.28,1407.66 L296.57,1409.29 L296.9,1410.9 L297.3,1412.37 L297.74,1413.55 L298.24,1414.26 L298.8,1414.36 L299.4,1413.82 L300.03,1412.79 L300.64,1411.43 L301.21,1409.88 L301.72,1408.27 L302.17,1406.64 L302.6,1404.99 L303,1403.35 L303.41,1401.71 L303.83,1400.1 L304.28,1398.52 L304.79,1396.99 L305.35,1395.52 L306.01,1394.13 L306.76,1392.82 L307.62,1391.6 L308.62,1390.5 L309.76,1389.53 L311.01,1388.78 L312.32,1388.34 L313.67,1388.31 L315.01,1388.68 L316.32,1389.33 L317.59,1390.17 L318.78,1391.11 L319.92,1392.13 L321,1393.21 L322.03,1394.36 L323.02,1395.56 L323.99,1396.79 L324.92,1398.05 L325.84,1399.33 L326.75,1400.62 L327.66,1401.9 L328.57,1403.17 L329.5,1404.43 L330.43,1405.66 L331.37,1406.88 L332.32,1408.08 L333.28,1409.27 L334.24,1410.45 L335.22,1411.61 L336.2,1412.76 L337.2,1413.9 L338.2,1415.04 L339.21,1416.16 L340.23,1417.28 L341.26,1418.39 L342.3,1419.5 L343.34,1420.61 L344.4,1421.71 L345.46,1422.81 L346.53,1423.9 L347.61,1425 L348.7,1426.1 L349.8,1427.21" fill="none" stroke="#E69F00" stroke-width="2.0" stroke-linejoin="round" stroke-linecap="round"/>
<path d="M449.58,1523.73 L450.83,1524.78 L452.11,1525.7 L453.42,1526.51 L454.77,1527.21 L456.14,1527.81 L457.54,1528.32 L458.97,1528.73 L460.42,1529.06 L461.88,1529.32 L463.37,1529.51 L464.88,1529.63 L466.4,1529.7 L467.93,1529.71 L469.47,1529.69 L471.03,1529.63 L472.59,1529.54 L474.16,1529.42 L475.73,1529.29 L477.3,1529.14 L478.87,1528.99 L480.45,1528.83 L482.03,1528.66 L483.61,1528.5 L485.19,1528.34 L486.77,1528.18 L488.34,1528.03 L489.92,1527.89 L491.49,1527.77 L493.07,1527.66 L494.64,1527.57 L496.21,1527.5 L497.77,1527.47 L499.33,1527.45 L500.88,1527.47 L502.43,1527.53 L503.98,1527.62 L505.52,1527.75 L507.05,1527.93 L508.58,1528.15 L510.09,1528.42" fill="none" stroke="#E69F00" stroke-width="2.0" stroke-linejoin="round" stroke-linecap="round"/>
<path d="M247.99,1621.2 L249.59,1621.15 L251.15,1621.02 L252.68,1620.82 L254.18,1620.55 L255.66,1620.24 L257.11,1619.87 L258.55,1619.47 L259.97,1619.04 L261.37,1618.58 L262.77,1618.1 L264.16,1617.61 L265.55,1617.12 L266.94,1616.64 L268.33,1616.17 L269.73,1615.71 L271.14,1615.29 L272.56,1614.9 L274,1614.55 L275.46,1614.25 L276.94,1614.01 L278.45,1613.83 L279.99,1613.73 L281.55,1613.69 L283.13,1613.7 L284.73,1613.76 L286.34,1613.84 L287.95,1613.95 L289.55,1614.06 L291.15,1614.17 L292.73,1614.26 L294.3,1614.33 L295.83,1614.36 L297.34,1614.34 L298.81,1614.26 L300.23,1614.11 L301.61,1613.87 L302.93,1613.54 L304.19,1613.1 L305.38,1612.54 L306.5,1611.85 L307.54,1611.03 L308.5,1610.05 L309.38,1608.94 L310.19,1607.72 L310.93,1606.39 L311.61,1604.98 L312.22,1603.5 L312.79,1601.96 L313.3,1600.39 L313.77,1598.8 L314.19,1597.2 L314.59,1595.61 L314.95,1594.05 L315.28,1592.54 L315.59,1591.06 L315.89,1589.62 L316.19,1588.21 L316.48,1586.8 L316.78,1585.41 L317.09,1584 L317.42,1582.58 L317.76,1581.14 L318.13,1579.69 L318.5,1578.23 L318.88,1576.75 L319.26,1575.27 L319.64,1573.79 L320,1572.32 L320.34,1570.84 L320.67,1569.38 L320.98,1567.91 L321.29,1566.43 L321.58,1564.93 L321.88,1563.4 L322.19,1561.83 L322.54,1560.25 L322.94,1558.68 L323.41,1557.14 L323.98,1555.65 L324.67,1554.24 L325.51,1552.93 L326.49,1551.73 L327.6,1550.68 L328.81,1549.81 L330.09,1549.14 L331.38,1548.7 L332.67,1548.53 L333.92,1548.64 L335.11,1549.05 L336.25,1549.72 L337.33,1550.61 L338.35,1551.68 L339.32,1552.91 L340.25,1554.26 L341.12,1555.69 L341.95,1557.16 L342.74,1558.65 L343.49,1560.13 L344.2,1561.61 L344.88,1563.07 L345.53,1564.53 L346.16,1565.98 L346.77,1567.42 L347.36,1568.85 L347.94,1570.26 L348.51,1571.67 L349.09,1573.07 L349.66,1574.45 L350.24,1575.82 L350.83,1577.18 L351.43,1578.53 L352.05,1579.86 L352.69,1581.17 L353.36,1582.47 L354.06,1583.76 L354.79,1585.03 L355.56,1586.29 L356.36,1587.52 L357.19,1588.74 L358.06,1589.94 L358.96,1591.13 L359.89,1592.29 L360.85,1593.43 L361.83,1594.55 L362.85,1595.65 L363.9,1596.72 L364.97,1597.78 L366.07,1598.8 L367.2,1599.81 L368.36,1600.79 L369.54,1601.74 L370.74,1602.67 L371.97,1603.56 L373.22,1604.43 L374.5,1605.28 L375.8,1606.09 L377.12,1606.87 L378.46,1607.62 L379.82,1608.34 L381.2,1609.03 L382.59,1609.68 L384.01,1610.29 L385.43,1610.87 L386.87,1611.4 L388.32,1611.9 L389.78,1612.35 L391.25,1612.76 L392.73,1613.13 L394.22,1613.45 L395.71,1613.72 L397.2,1613.95 L398.7,1614.12 L400.19,1614.24 L401.69,1614.31 L403.19,1614.33 L404.68,1614.29 L406.17,1614.19 L407.65,1614.03 L409.13,1613.82 L410.6,1613.54 L412.06,1613.2 L413.51,1612.8 L414.95,1612.33 L416.37,1611.79 L417.78,1611.22 L419.19,1610.63 L420.6,1610.07 L422.02,1609.58 L423.45,1609.18 L424.9,1608.92 L426.36,1608.8 L427.85,1608.77 L429.35,1608.82 L430.87,1608.92 L432.41,1609.03 L433.97,1609.13 L435.55,1609.19 L437.13,1609.19 L438.72,1609.13 L440.29,1609.01 L441.85,1608.81 L443.36,1608.53 L444.84,1608.16 L446.26,1607.71 L447.61,1607.15 L448.88,1606.5 L450.07,1605.74 L451.17,1604.88 L452.19,1603.92 L453.14,1602.87 L454.01,1601.75 L454.82,1600.54 L455.56,1599.28 L456.25,1597.95 L456.89,1596.57 L457.48,1595.14 L458.03,1593.67 L458.54,1592.18 L459.02,1590.66 L459.48,1589.12 L459.91,1587.58 L460.32,1586.03 L460.73,1584.48 L461.12,1582.95 L461.51,1581.44 L461.91,1579.95 L462.31,1578.49 L462.72,1577.06 L463.13,1575.65 L463.55,1574.25 L463.97,1572.87 L464.4,1571.5 L464.83,1570.13 L465.27,1568.76 L465.71,1567.39 L466.15,1566.01 L466.6,1564.61 L467.05,1563.2 L467.5,1561.77 L467.95,1560.3 L468.41,1558.81 L468.87,1557.28 L469.35,1555.72 L469.86,1554.13 L470.41,1552.51 L471.03,1550.87 L471.72,1549.25 L472.48,1547.71 L473.33,1546.29 L474.27,1545.07 L475.31,1544.1 L476.45,1543.42 L477.67,1543.04 L478.94,1542.95 L480.23,1543.11 L481.5,1543.51 L482.72,1544.13 L483.87,1544.95 L484.91,1545.95 L485.86,1547.1 L486.72,1548.39 L487.52,1549.78 L488.25,1551.27 L488.92,1552.82 L489.56,1554.41 L490.15,1556.03 L490.72,1557.64 L491.28,1559.24 L491.83,1560.79 L492.38,1562.27 L492.93,1563.7 L493.49,1565.09 L494.05,1566.43 L494.61,1567.75 L495.18,1569.06 L495.76,1570.35 L496.34,1571.64 L496.93,1572.95 L497.52,1574.27 L498.13,1575.61 L498.74,1576.97 L499.36,1578.33 L499.99,1579.71 L500.63,1581.09 L501.29,1582.47 L501.96,1583.85 L502.65,1585.24 L503.35,1586.61 L504.07,1587.99 L504.8,1589.35 L505.56,1590.7 L506.34,1592.04 L507.13,1593.36 L507.95,1594.67 L508.8,1595.95 L509.67,1597.21 L510.56,1598.44 L511.48,1599.64 L512.43,1600.82 L513.4,1601.95 L514.41,1603.06 L515.45,1604.12 L516.51,1605.14 L517.62,1606.12 L518.75,1607.05 L519.92,1607.94 L521.11,1608.79 L522.34,1609.59 L523.6,1610.35 L524.88,1611.08 L526.18,1611.76 L527.52,1612.41 L528.87,1613.03 L530.24,1613.6 L531.64,1614.15 L533.05,1614.66 L534.49,1615.14 L535.93,1615.6 L537.4,1616.02 L538.87,1616.41 L540.36,1616.78 L541.86,1617.13 L543.37,1617.45 L544.89,1617.75 L546.42,1618.03 L547.95,1618.28 L549.48,1618.52 L551.02,1618.74 L552.56,1618.94 L554.1,1619.13 L555.64,1619.3 L557.18,1619.46 L558.71,1619.61 L560.24,1619.75 L561.76,1619.88 L563.28,1620 L564.79,1620.11 L566.28,1620.22 L567.77,1620.32 L569.24,1620.42 L570.7,1620.52 L572.15,1620.61 L573.57,1620.71 L574.98,1620.8" fill="none" stroke="#000000" stroke-width="2.0" stroke-linejoin="round" stroke-linecap="round"/>
<path d="M316.89,1420.92 L317.82,1422.45 L318.93,1423.35 L320.19,1423.76 L321.57,1423.83 L323.03,1423.69 L324.55,1423.47 L326.08,1423.32 L327.61,1423.26 L329.15,1423.29 L330.69,1423.41 L332.22,1423.61 L333.74,1423.89 L335.25,1424.25 L336.74,1424.68 L338.22,1425.19 L339.67,1425.76 L341.1,1426.39 L342.51,1427.08 L343.9,1427.82 L345.27,1428.6 L346.63,1429.42 L347.98,1430.27 L349.32,1431.15 L350.65,1432.04 L351.98,1432.94 L353.31,1433.85 L354.63,1434.76 L355.96,1435.67 L357.29,1436.55 L358.63,1437.42 L359.97,1438.27 L361.33,1439.08 L362.7,1439.85 L364.08,1440.58 L365.48,1441.26 L366.91,1441.88" fill="none" stroke="#000000" stroke-width="2.0" stroke-linejoin="round" stroke-linecap="round"/>
<path d="M455.8,1530.7 L457.33,1530.62 L458.86,1530.47 L460.4,1530.25 L461.95,1529.97 L463.5,1529.65 L465.05,1529.3 L466.6,1528.92 L468.16,1528.53 L469.72,1528.14 L471.27,1527.75 L472.83,1527.39 L474.38,1527.06 L475.94,1526.78 L477.48,1526.54 L479.03,1526.37 L480.57,1526.28 L482.1,1526.26 L483.63,1526.31 L485.16,1526.42 L486.69,1526.56 L488.22,1526.73 L489.77,1526.9 L491.32,1527.07 L492.88,1527.21 L494.46,1527.31 L496.06,1527.37 L497.68,1527.35 L499.31,1527.26 L500.96,1527.11 L502.61,1526.94 L504.24,1526.76 L505.84,1526.62 L507.4,1526.53 L508.9,1526.52 L510.34,1526.63 L511.66,1526.89 L512.64,1527.35 L513.03,1528.1 L512.58,1529.19 L511.02,1530.7" fill="none" stroke="#000000" stroke-width="2.0" stroke-linejoin="round" stroke-linecap="round"/>
</svg></body></html>
